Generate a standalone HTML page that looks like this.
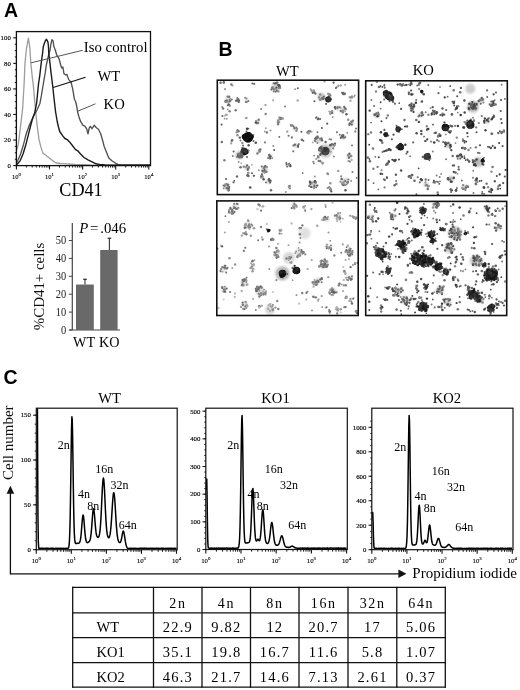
<!DOCTYPE html>
<html><head><meta charset="utf-8"><style>
html,body{margin:0;padding:0;background:#fff;width:520px;height:690px;overflow:hidden;}
svg{display:block;filter:grayscale(1);}
</style></head><body>
<svg width="520" height="690" viewBox="0 0 520 690">
<rect width="520" height="690" fill="#fff"/>
<text x="4.00" y="17.30" font-family='"Liberation Sans", sans-serif' font-size="19.5" text-anchor="start" font-weight="bold" font-style="normal" fill="#000" >A</text>
<text x="218.50" y="56.20" font-family='"Liberation Sans", sans-serif' font-size="19.5" text-anchor="start" font-weight="bold" font-style="normal" fill="#000" >B</text>
<text x="3.60" y="383.60" font-family='"Liberation Sans", sans-serif' font-size="19.5" text-anchor="start" font-weight="bold" font-style="normal" fill="#000" >C</text>
<polyline points="16.60,150.00 17.40,148.00 18.30,144.20 19.30,136.50 20.70,125.00 22.70,108.00 24.10,84.00 25.00,62.80 26.50,48.40 28.40,38.20 29.90,48.40 30.80,62.80 32.30,77.30 33.20,84.00 34.70,101.30 36.40,118.50 37.10,125.00 39.00,139.40 40.90,147.10 42.80,152.90 47.70,156.70 52.50,160.60 56.30,163.00 60.20,163.50 64.00,163.70 75.00,164.50 90.00,165.00 150.00,165.20" fill="none" stroke="#9c9c9c" stroke-width="1.3" stroke-linejoin="round" />
<polyline points="16.60,163.00 16.90,162.00 17.80,160.60 20.70,153.80 23.60,144.20 26.00,134.60 29.40,125.00 33.20,116.70 37.00,110.00 40.00,103.20 41.40,95.50 43.30,84.00 44.30,78.20 45.30,72.50 46.20,65.70 47.70,59.00 48.80,54.20 50.00,50.30 51.00,43.60 52.00,39.60 53.00,40.70 53.90,46.50 55.30,50.30 56.80,55.20 58.70,58.00 59.40,60.00 60.60,64.60 61.70,68.00 62.90,67.00 64.00,73.80 65.80,75.00 66.90,74.40 68.70,79.60 71.00,82.00 72.70,88.80 74.40,99.20 75.60,101.50 76.70,106.20 77.60,111.90 78.80,116.50 80.50,121.20 82.80,125.20 85.10,126.30 86.80,129.20 88.00,133.80 89.20,128.00 90.30,126.30 92.00,128.70 94.30,125.20 96.10,127.50 98.40,129.20 100.70,133.80 102.40,139.60 104.20,146.50 106.50,152.30 108.80,158.10 112.20,161.00 115.70,163.30 118.00,164.40 121.00,165.20 150.00,165.20" fill="none" stroke="#505050" stroke-width="1.35" stroke-linejoin="round" />
<polyline points="16.60,165.00 17.40,164.00 20.25,160.60 23.10,153.80 26.00,144.20 28.40,134.60 30.80,125.00 32.30,119.60 34.70,112.80 36.60,103.20 38.50,84.00 39.80,75.30 40.90,65.70 41.90,58.00 42.70,52.30 43.30,46.50 44.30,43.60 45.50,40.50 46.50,39.30 47.80,41.70 48.40,45.50 48.80,53.20 49.80,61.90 51.20,74.00 52.70,86.00 54.20,100.00 55.60,112.00 57.30,122.00 58.50,127.00 59.70,131.50 62.60,135.60 64.90,138.50 67.20,139.60 69.50,141.90 71.80,144.80 75.30,149.40 78.20,151.20 81.10,154.60 84.00,157.50 88.00,159.80 92.60,162.10 96.10,163.80 99.50,164.40 105.00,165.00 150.00,165.20" fill="none" stroke="#1a1a1a" stroke-width="1.4" stroke-linejoin="round" />
<line x1="31.10" y1="62.80" x2="82.70" y2="50.30" stroke="#555" stroke-width="1.0" />
<line x1="53.10" y1="87.50" x2="85.60" y2="77.30" stroke="#111" stroke-width="1.2" />
<line x1="77.60" y1="111.30" x2="95.40" y2="103.80" stroke="#555" stroke-width="1.0" />
<text x="83.80" y="52.20" font-family='"Liberation Serif", serif' font-size="14.8" text-anchor="start" font-weight="normal" font-style="normal" fill="#000" >Iso control</text>
<text x="97.50" y="80.80" font-family='"Liberation Serif", serif' font-size="14.6" text-anchor="start" font-weight="normal" font-style="normal" fill="#000" >WT</text>
<text x="103.60" y="108.70" font-family='"Liberation Serif", serif' font-size="14.6" text-anchor="start" font-weight="normal" font-style="normal" fill="#000" >KO</text>
<rect x="16.4" y="31.6" width="134.1" height="134.0" fill="none" stroke="#111" stroke-width="1.3"/>
<line x1="13.20" y1="165.60" x2="16.40" y2="165.60" stroke="#111" stroke-width="1.1" />
<text x="10.80" y="167.90" font-family='"Liberation Serif", serif' font-size="6.8" text-anchor="end" font-weight="normal" font-style="normal" fill="#000" stroke="#000" stroke-width="0.15">0</text>
<line x1="14.80" y1="159.21" x2="16.40" y2="159.21" stroke="#111" stroke-width="1.0" />
<line x1="14.80" y1="152.82" x2="16.40" y2="152.82" stroke="#111" stroke-width="1.0" />
<line x1="14.80" y1="146.43" x2="16.40" y2="146.43" stroke="#111" stroke-width="1.0" />
<line x1="13.20" y1="140.04" x2="16.40" y2="140.04" stroke="#111" stroke-width="1.1" />
<text x="10.80" y="142.34" font-family='"Liberation Serif", serif' font-size="6.8" text-anchor="end" font-weight="normal" font-style="normal" fill="#000" stroke="#000" stroke-width="0.15">20</text>
<line x1="14.80" y1="133.65" x2="16.40" y2="133.65" stroke="#111" stroke-width="1.0" />
<line x1="14.80" y1="127.26" x2="16.40" y2="127.26" stroke="#111" stroke-width="1.0" />
<line x1="14.80" y1="120.87" x2="16.40" y2="120.87" stroke="#111" stroke-width="1.0" />
<line x1="13.20" y1="114.48" x2="16.40" y2="114.48" stroke="#111" stroke-width="1.1" />
<text x="10.80" y="116.78" font-family='"Liberation Serif", serif' font-size="6.8" text-anchor="end" font-weight="normal" font-style="normal" fill="#000" stroke="#000" stroke-width="0.15">40</text>
<line x1="14.80" y1="108.09" x2="16.40" y2="108.09" stroke="#111" stroke-width="1.0" />
<line x1="14.80" y1="101.70" x2="16.40" y2="101.70" stroke="#111" stroke-width="1.0" />
<line x1="14.80" y1="95.31" x2="16.40" y2="95.31" stroke="#111" stroke-width="1.0" />
<line x1="13.20" y1="88.92" x2="16.40" y2="88.92" stroke="#111" stroke-width="1.1" />
<text x="10.80" y="91.22" font-family='"Liberation Serif", serif' font-size="6.8" text-anchor="end" font-weight="normal" font-style="normal" fill="#000" stroke="#000" stroke-width="0.15">60</text>
<line x1="14.80" y1="82.53" x2="16.40" y2="82.53" stroke="#111" stroke-width="1.0" />
<line x1="14.80" y1="76.14" x2="16.40" y2="76.14" stroke="#111" stroke-width="1.0" />
<line x1="14.80" y1="69.75" x2="16.40" y2="69.75" stroke="#111" stroke-width="1.0" />
<line x1="13.20" y1="63.36" x2="16.40" y2="63.36" stroke="#111" stroke-width="1.1" />
<text x="10.80" y="65.66" font-family='"Liberation Serif", serif' font-size="6.8" text-anchor="end" font-weight="normal" font-style="normal" fill="#000" stroke="#000" stroke-width="0.15">80</text>
<line x1="14.80" y1="56.97" x2="16.40" y2="56.97" stroke="#111" stroke-width="1.0" />
<line x1="14.80" y1="50.58" x2="16.40" y2="50.58" stroke="#111" stroke-width="1.0" />
<line x1="14.80" y1="44.19" x2="16.40" y2="44.19" stroke="#111" stroke-width="1.0" />
<line x1="13.20" y1="37.80" x2="16.40" y2="37.80" stroke="#111" stroke-width="1.1" />
<text x="10.80" y="40.10" font-family='"Liberation Serif", serif' font-size="6.8" text-anchor="end" font-weight="normal" font-style="normal" fill="#000" stroke="#000" stroke-width="0.15">100</text>
<line x1="16.40" y1="165.60" x2="16.40" y2="169.40" stroke="#111" stroke-width="1.1" />
<text x="16.40" y="179.20" font-family='"Liberation Serif", serif' font-size="6.6" text-anchor="middle" fill="#000" stroke="#000" stroke-width="0.12">10<tspan font-size="4.75" dy="-2.97">0</tspan></text>
<line x1="26.36" y1="165.60" x2="26.36" y2="167.60" stroke="#111" stroke-width="0.9" />
<line x1="32.19" y1="165.60" x2="32.19" y2="167.60" stroke="#111" stroke-width="0.9" />
<line x1="36.33" y1="165.60" x2="36.33" y2="167.60" stroke="#111" stroke-width="0.9" />
<line x1="39.54" y1="165.60" x2="39.54" y2="167.60" stroke="#111" stroke-width="0.9" />
<line x1="42.16" y1="165.60" x2="42.16" y2="167.60" stroke="#111" stroke-width="0.9" />
<line x1="44.37" y1="165.60" x2="44.37" y2="167.60" stroke="#111" stroke-width="0.9" />
<line x1="46.29" y1="165.60" x2="46.29" y2="167.60" stroke="#111" stroke-width="0.9" />
<line x1="47.99" y1="165.60" x2="47.99" y2="167.60" stroke="#111" stroke-width="0.9" />
<line x1="49.50" y1="165.60" x2="49.50" y2="169.40" stroke="#111" stroke-width="1.1" />
<text x="49.50" y="179.20" font-family='"Liberation Serif", serif' font-size="6.6" text-anchor="middle" fill="#000" stroke="#000" stroke-width="0.12">10<tspan font-size="4.75" dy="-2.97">1</tspan></text>
<line x1="59.46" y1="165.60" x2="59.46" y2="167.60" stroke="#111" stroke-width="0.9" />
<line x1="65.29" y1="165.60" x2="65.29" y2="167.60" stroke="#111" stroke-width="0.9" />
<line x1="69.43" y1="165.60" x2="69.43" y2="167.60" stroke="#111" stroke-width="0.9" />
<line x1="72.64" y1="165.60" x2="72.64" y2="167.60" stroke="#111" stroke-width="0.9" />
<line x1="75.26" y1="165.60" x2="75.26" y2="167.60" stroke="#111" stroke-width="0.9" />
<line x1="77.47" y1="165.60" x2="77.47" y2="167.60" stroke="#111" stroke-width="0.9" />
<line x1="79.39" y1="165.60" x2="79.39" y2="167.60" stroke="#111" stroke-width="0.9" />
<line x1="81.09" y1="165.60" x2="81.09" y2="167.60" stroke="#111" stroke-width="0.9" />
<line x1="82.60" y1="165.60" x2="82.60" y2="169.40" stroke="#111" stroke-width="1.1" />
<text x="82.60" y="179.20" font-family='"Liberation Serif", serif' font-size="6.6" text-anchor="middle" fill="#000" stroke="#000" stroke-width="0.12">10<tspan font-size="4.75" dy="-2.97">2</tspan></text>
<line x1="92.56" y1="165.60" x2="92.56" y2="167.60" stroke="#111" stroke-width="0.9" />
<line x1="98.39" y1="165.60" x2="98.39" y2="167.60" stroke="#111" stroke-width="0.9" />
<line x1="102.53" y1="165.60" x2="102.53" y2="167.60" stroke="#111" stroke-width="0.9" />
<line x1="105.74" y1="165.60" x2="105.74" y2="167.60" stroke="#111" stroke-width="0.9" />
<line x1="108.36" y1="165.60" x2="108.36" y2="167.60" stroke="#111" stroke-width="0.9" />
<line x1="110.57" y1="165.60" x2="110.57" y2="167.60" stroke="#111" stroke-width="0.9" />
<line x1="112.49" y1="165.60" x2="112.49" y2="167.60" stroke="#111" stroke-width="0.9" />
<line x1="114.19" y1="165.60" x2="114.19" y2="167.60" stroke="#111" stroke-width="0.9" />
<line x1="115.70" y1="165.60" x2="115.70" y2="169.40" stroke="#111" stroke-width="1.1" />
<text x="115.70" y="179.20" font-family='"Liberation Serif", serif' font-size="6.6" text-anchor="middle" fill="#000" stroke="#000" stroke-width="0.12">10<tspan font-size="4.75" dy="-2.97">3</tspan></text>
<line x1="125.66" y1="165.60" x2="125.66" y2="167.60" stroke="#111" stroke-width="0.9" />
<line x1="131.49" y1="165.60" x2="131.49" y2="167.60" stroke="#111" stroke-width="0.9" />
<line x1="135.63" y1="165.60" x2="135.63" y2="167.60" stroke="#111" stroke-width="0.9" />
<line x1="138.84" y1="165.60" x2="138.84" y2="167.60" stroke="#111" stroke-width="0.9" />
<line x1="141.46" y1="165.60" x2="141.46" y2="167.60" stroke="#111" stroke-width="0.9" />
<line x1="143.67" y1="165.60" x2="143.67" y2="167.60" stroke="#111" stroke-width="0.9" />
<line x1="145.59" y1="165.60" x2="145.59" y2="167.60" stroke="#111" stroke-width="0.9" />
<line x1="147.29" y1="165.60" x2="147.29" y2="167.60" stroke="#111" stroke-width="0.9" />
<line x1="148.80" y1="165.60" x2="148.80" y2="169.40" stroke="#111" stroke-width="1.1" />
<text x="148.80" y="179.20" font-family='"Liberation Serif", serif' font-size="6.6" text-anchor="middle" fill="#000" stroke="#000" stroke-width="0.12">10<tspan font-size="4.75" dy="-2.97">4</tspan></text>
<text x="59.30" y="195.80" font-family='"Liberation Serif", serif' font-size="19.5" text-anchor="start" font-weight="normal" font-style="normal" fill="#000" textLength="43.4" lengthAdjust="spacingAndGlyphs">CD41</text>
<line x1="72.30" y1="223.00" x2="72.30" y2="330.00" stroke="#444" stroke-width="1.2" />
<line x1="69.50" y1="330.00" x2="120.00" y2="330.00" stroke="#444" stroke-width="1.2" />
<line x1="68.80" y1="330.00" x2="72.30" y2="330.00" stroke="#444" stroke-width="1.0" />
<text x="66.20" y="333.90" font-family='"Liberation Serif", serif' font-size="13" text-anchor="end" font-weight="normal" font-style="normal" fill="#222" textLength="5.2" lengthAdjust="spacingAndGlyphs">0</text>
<line x1="68.80" y1="312.10" x2="72.30" y2="312.10" stroke="#444" stroke-width="1.0" />
<text x="66.20" y="316.00" font-family='"Liberation Serif", serif' font-size="13" text-anchor="end" font-weight="normal" font-style="normal" fill="#222" textLength="10.4" lengthAdjust="spacingAndGlyphs">10</text>
<line x1="68.80" y1="294.20" x2="72.30" y2="294.20" stroke="#444" stroke-width="1.0" />
<text x="66.20" y="298.10" font-family='"Liberation Serif", serif' font-size="13" text-anchor="end" font-weight="normal" font-style="normal" fill="#222" textLength="10.4" lengthAdjust="spacingAndGlyphs">20</text>
<line x1="68.80" y1="276.30" x2="72.30" y2="276.30" stroke="#444" stroke-width="1.0" />
<text x="66.20" y="280.20" font-family='"Liberation Serif", serif' font-size="13" text-anchor="end" font-weight="normal" font-style="normal" fill="#222" textLength="10.4" lengthAdjust="spacingAndGlyphs">30</text>
<line x1="68.80" y1="258.40" x2="72.30" y2="258.40" stroke="#444" stroke-width="1.0" />
<text x="66.20" y="262.30" font-family='"Liberation Serif", serif' font-size="13" text-anchor="end" font-weight="normal" font-style="normal" fill="#222" textLength="10.4" lengthAdjust="spacingAndGlyphs">40</text>
<line x1="68.80" y1="240.50" x2="72.30" y2="240.50" stroke="#444" stroke-width="1.0" />
<text x="66.20" y="244.40" font-family='"Liberation Serif", serif' font-size="13" text-anchor="end" font-weight="normal" font-style="normal" fill="#222" textLength="10.4" lengthAdjust="spacingAndGlyphs">50</text>
<rect x="76.0" y="284.53" width="17.8" height="45.47" fill="#696969"/>
<rect x="100.2" y="249.99" width="17.4" height="80.01" fill="#696969"/>
<line x1="85.00" y1="284.53" x2="85.00" y2="279.30" stroke="#333" stroke-width="1.1" />
<line x1="83.20" y1="279.30" x2="86.80" y2="279.30" stroke="#333" stroke-width="1.3" />
<line x1="109.40" y1="249.99" x2="109.40" y2="238.30" stroke="#333" stroke-width="1.1" />
<line x1="107.60" y1="238.30" x2="111.20" y2="238.30" stroke="#333" stroke-width="1.3" />
<text x="79.30" y="233.00" font-family='"Liberation Serif", serif' font-size="14.8" text-anchor="start" font-weight="normal" font-style="normal" fill="#000" ><tspan font-style="italic">P</tspan><tspan x="90.0">=</tspan><tspan x="100.2">.046</tspan></text>
<text transform="translate(44.2,330.2) rotate(-90)" font-family='"Liberation Serif", serif' font-size="15.4" fill="#111" textLength="87.5" lengthAdjust="spacingAndGlyphs">%CD41+ cells</text>
<text x="73.00" y="347.00" font-family='"Liberation Serif", serif' font-size="14.2" text-anchor="start" font-weight="normal" font-style="normal" fill="#000" >WT</text>
<text x="99.00" y="347.00" font-family='"Liberation Serif", serif' font-size="14.2" text-anchor="start" font-weight="normal" font-style="normal" fill="#000" >KO</text>
<text x="287.40" y="76.00" font-family='"Liberation Serif", serif' font-size="14.6" text-anchor="middle" font-weight="normal" font-style="normal" fill="#000" >WT</text>
<text x="423.20" y="75.30" font-family='"Liberation Serif", serif' font-size="14.6" text-anchor="middle" font-weight="normal" font-style="normal" fill="#000" >KO</text>
<clipPath id="cTL"><rect x="217.3" y="80.2" width="141.3" height="114.39999999999999"/></clipPath>
<filter id="fTL" x="-5%" y="-5%" width="110%" height="110%"><feGaussianBlur stdDeviation="0.4"/></filter>
<filter id="gTL" x="-5%" y="-5%" width="110%" height="110%"><feGaussianBlur stdDeviation="1.3"/></filter>
<g clip-path="url(#cTL)"><g filter="url(#gTL)">
<circle cx="239.5" cy="155.2" r="4.00" fill="#bebebe"/>
<circle cx="321.3" cy="97.0" r="4.00" fill="#c8c8c8"/>
<circle cx="325.4" cy="151.0" r="7.00" fill="#cdcdcd"/>
<circle cx="275.6" cy="87.3" r="3.75" fill="#cdcdcd"/>
<circle cx="228.5" cy="99.8" r="3.00" fill="#d7d7d7"/>
<circle cx="238.0" cy="99.8" r="1.88" fill="#cdcdcd"/>
<circle cx="246.5" cy="99.8" r="1.88" fill="#cdcdcd"/>
<circle cx="321.3" cy="97.0" r="2.25" fill="#cdcdcd"/>
<circle cx="337.9" cy="108.0" r="2.25" fill="#cdcdcd"/>
<circle cx="343.4" cy="109.5" r="2.25" fill="#cdcdcd"/>
<circle cx="257.6" cy="122.0" r="1.88" fill="#cdcdcd"/>
<circle cx="278.3" cy="122.0" r="1.88" fill="#cdcdcd"/>
<circle cx="258.9" cy="151.0" r="2.25" fill="#e1e1e1"/>
<circle cx="270.0" cy="156.6" r="2.25" fill="#cdcdcd"/>
<circle cx="318.5" cy="140.0" r="3.00" fill="#cdcdcd"/>
<circle cx="332.3" cy="145.5" r="2.25" fill="#cdcdcd"/>
<circle cx="295.0" cy="128.9" r="1.88" fill="#cdcdcd"/>
<circle cx="296.3" cy="145.5" r="2.25" fill="#cdcdcd"/>
<circle cx="288.0" cy="164.9" r="2.25" fill="#cdcdcd"/>
<circle cx="264.5" cy="169.0" r="3.00" fill="#cdcdcd"/>
<circle cx="246.5" cy="167.6" r="2.25" fill="#cdcdcd"/>
<circle cx="313.0" cy="184.3" r="3.38" fill="#cdcdcd"/>
<circle cx="344.8" cy="181.5" r="3.38" fill="#cdcdcd"/>
<circle cx="227.0" cy="187.0" r="3.00" fill="#cdcdcd"/>
<circle cx="268.6" cy="181.5" r="2.25" fill="#cdcdcd"/>
<circle cx="343.4" cy="137.2" r="2.25" fill="#cdcdcd"/>
<circle cx="351.7" cy="123.3" r="2.25" fill="#cdcdcd"/>
<circle cx="349.0" cy="156.6" r="2.25" fill="#cdcdcd"/>
</g><g filter="url(#fTL)">
<circle cx="237.0" cy="176.5" r="1.19" fill="#666666"/>
<circle cx="287.3" cy="131.7" r="1.14" fill="#969696"/>
<circle cx="231.4" cy="84.4" r="1.23" fill="#767676"/>
<circle cx="324.5" cy="81.4" r="1.05" fill="#909090"/>
<circle cx="250.2" cy="187.4" r="1.26" fill="#525252"/>
<circle cx="221.8" cy="142.1" r="1.27" fill="#727272"/>
<circle cx="248.5" cy="128.6" r="0.86" fill="#636363"/>
<circle cx="279.3" cy="136.9" r="0.95" fill="#646464"/>
<circle cx="248.8" cy="132.9" r="0.98" fill="#515151"/>
<circle cx="335.0" cy="143.7" r="1.14" fill="#606060"/>
<circle cx="356.6" cy="177.9" r="0.90" fill="#6d6d6d"/>
<circle cx="318.8" cy="161.1" r="1.27" fill="#757575"/>
<circle cx="333.9" cy="156.5" r="0.99" fill="#848484"/>
<circle cx="341.2" cy="176.3" r="1.08" fill="#858585"/>
<circle cx="223.1" cy="108.5" r="1.21" fill="#757575"/>
<circle cx="242.4" cy="142.9" r="1.17" fill="#8c8c8c"/>
<circle cx="270.5" cy="130.5" r="1.08" fill="#969696"/>
<circle cx="290.9" cy="125.4" r="1.07" fill="#525252"/>
<circle cx="224.4" cy="160.3" r="1.29" fill="#858585"/>
<circle cx="273.1" cy="100.3" r="1.08" fill="#a8a8a8"/>
<circle cx="325.6" cy="141.9" r="1.24" fill="#646464"/>
<circle cx="289.9" cy="188.3" r="1.11" fill="#797979"/>
<circle cx="255.8" cy="142.8" r="1.28" fill="#505050"/>
<circle cx="327.5" cy="173.4" r="1.25" fill="#929292"/>
<circle cx="331.0" cy="139.5" r="1.10" fill="#767676"/>
<circle cx="226.1" cy="179.0" r="1.11" fill="#616161"/>
<circle cx="288.6" cy="135.7" r="1.01" fill="#6f6f6f"/>
<circle cx="293.3" cy="151.3" r="1.13" fill="#797979"/>
<circle cx="222.2" cy="107.0" r="0.93" fill="#848484"/>
<circle cx="338.2" cy="170.9" r="1.21" fill="#999999"/>
<circle cx="253.9" cy="175.8" r="1.15" fill="#575757"/>
<circle cx="220.6" cy="82.8" r="1.19" fill="#666666"/>
<circle cx="233.6" cy="151.4" r="1.00" fill="#565656"/>
<circle cx="240.5" cy="140.5" r="0.93" fill="#686868"/>
<circle cx="317.4" cy="132.3" r="0.99" fill="#7a7a7a"/>
<circle cx="221.6" cy="124.6" r="1.04" fill="#606060"/>
<circle cx="233.5" cy="182.3" r="1.08" fill="#626262"/>
<circle cx="302.7" cy="173.0" r="0.86" fill="#515151"/>
<circle cx="238.7" cy="162.0" r="0.92" fill="#8f8f8f"/>
<circle cx="312.8" cy="142.4" r="0.95" fill="#a7a7a7"/>
<circle cx="329.4" cy="139.3" r="0.95" fill="#8a8a8a"/>
<circle cx="273.3" cy="145.9" r="0.99" fill="#888888"/>
<circle cx="226.5" cy="114.8" r="1.29" fill="#9e9e9e"/>
<circle cx="261.0" cy="177.7" r="0.99" fill="#a4a4a4"/>
<circle cx="321.9" cy="128.0" r="0.96" fill="#505050"/>
<circle cx="340.7" cy="85.5" r="1.22" fill="#a6a6a6"/>
<circle cx="297.7" cy="100.5" r="1.24" fill="#a7a7a7"/>
<circle cx="316.4" cy="138.4" r="1.02" fill="#6f6f6f"/>
<circle cx="247.0" cy="157.0" r="1.04" fill="#616161"/>
<circle cx="232.8" cy="156.1" r="0.98" fill="#7c7c7c"/>
<circle cx="263.6" cy="179.2" r="1.25" fill="#515151"/>
<circle cx="246.3" cy="118.0" r="1.29" fill="#969696"/>
<circle cx="265.5" cy="105.1" r="1.15" fill="#9b9b9b"/>
<circle cx="348.2" cy="119.8" r="1.25" fill="#8d8d8d"/>
<circle cx="285.8" cy="192.0" r="0.96" fill="#919191"/>
<circle cx="230.1" cy="100.3" r="1.26" fill="#636363"/>
<circle cx="324.0" cy="148.7" r="1.23" fill="#717171"/>
<circle cx="265.7" cy="113.9" r="1.24" fill="#868686"/>
<circle cx="351.2" cy="180.9" r="0.91" fill="#818181"/>
<circle cx="232.8" cy="85.6" r="0.88" fill="#9d9d9d"/>
<circle cx="328.1" cy="174.3" r="1.00" fill="#878787"/>
<circle cx="327.2" cy="123.7" r="1.11" fill="#646464"/>
<circle cx="229.7" cy="111.2" r="1.25" fill="#828282"/>
<circle cx="347.2" cy="132.7" r="0.97" fill="#969696"/>
<circle cx="333.6" cy="82.6" r="1.15" fill="#585858"/>
<circle cx="234.3" cy="180.7" r="0.87" fill="#656565"/>
<circle cx="356.0" cy="128.5" r="0.90" fill="#5f5f5f"/>
<circle cx="251.9" cy="164.8" r="0.90" fill="#a1a1a1"/>
<circle cx="271.0" cy="190.3" r="1.26" fill="#6a6a6a"/>
<circle cx="253.6" cy="134.8" r="0.90" fill="#8a8a8a"/>
<circle cx="223.8" cy="82.4" r="1.29" fill="#6a6a6a"/>
<circle cx="301.4" cy="131.8" r="0.99" fill="#555555"/>
<circle cx="345.5" cy="190.2" r="1.29" fill="#5a5a5a"/>
<circle cx="248.3" cy="150.6" r="1.29" fill="#808080"/>
<circle cx="314.2" cy="155.6" r="0.97" fill="#808080"/>
<circle cx="261.1" cy="108.9" r="0.89" fill="#696969"/>
<circle cx="355.3" cy="131.5" r="1.14" fill="#898989"/>
<circle cx="349.3" cy="125.1" r="0.99" fill="#6d6d6d"/>
<circle cx="262.4" cy="176.4" r="1.25" fill="#6b6b6b"/>
<circle cx="264.9" cy="142.4" r="1.11" fill="#858585"/>
<circle cx="252.4" cy="83.5" r="0.96" fill="#565656"/>
<circle cx="295.1" cy="89.2" r="0.88" fill="#898989"/>
<circle cx="258.8" cy="170.2" r="1.07" fill="#9d9d9d"/>
<circle cx="239.8" cy="137.6" r="1.21" fill="#565656"/>
<circle cx="350.5" cy="100.7" r="1.20" fill="#a8a8a8"/>
<circle cx="332.7" cy="117.1" r="0.90" fill="#7e7e7e"/>
<circle cx="346.4" cy="114.2" r="1.25" fill="#5c5c5c"/>
<circle cx="345.1" cy="84.8" r="0.99" fill="#a1a1a1"/>
<circle cx="330.3" cy="183.2" r="1.23" fill="#939393"/>
<circle cx="314.4" cy="101.2" r="1.04" fill="#5e5e5e"/>
<circle cx="317.9" cy="156.3" r="0.96" fill="#555555"/>
<circle cx="352.5" cy="172.0" r="1.10" fill="#808080"/>
<circle cx="336.9" cy="132.2" r="1.03" fill="#6e6e6e"/>
<circle cx="254.2" cy="83.9" r="1.14" fill="#757575"/>
<circle cx="297.8" cy="88.2" r="1.01" fill="#5c5c5c"/>
<circle cx="235.7" cy="110.3" r="1.22" fill="#737373"/>
<circle cx="274.2" cy="150.0" r="0.96" fill="#505050"/>
<circle cx="291.9" cy="137.5" r="1.14" fill="#777777"/>
<circle cx="313.9" cy="163.4" r="0.96" fill="#7c7c7c"/>
<circle cx="285.0" cy="106.5" r="1.04" fill="#828282"/>
<circle cx="344.6" cy="184.4" r="0.97" fill="#8a8a8a"/>
<circle cx="225.0" cy="89.2" r="1.08" fill="#9e9e9e"/>
<circle cx="240.5" cy="167.3" r="1.25" fill="#6c6c6c"/>
<circle cx="314.8" cy="176.6" r="1.02" fill="#8f8f8f"/>
<circle cx="320.9" cy="148.0" r="1.24" fill="#a0a0a0"/>
<circle cx="352.0" cy="145.4" r="0.93" fill="#666666"/>
<circle cx="248.6" cy="145.2" r="1.19" fill="#545454"/>
<circle cx="313.3" cy="161.8" r="1.01" fill="#7e7e7e"/>
<circle cx="241.3" cy="163.2" r="0.87" fill="#a8a8a8"/>
<circle cx="330.8" cy="151.8" r="0.97" fill="#a2a2a2"/>
<circle cx="349.9" cy="97.2" r="1.27" fill="#a7a7a7"/>
<circle cx="352.0" cy="96.4" r="0.92" fill="#6d6d6d"/>
<circle cx="354.8" cy="95.3" r="0.90" fill="#868686"/>
<circle cx="352.0" cy="97.7" r="0.96" fill="#939393"/>
<circle cx="354.1" cy="96.8" r="0.86" fill="#888888"/>
<circle cx="350.7" cy="97.4" r="0.98" fill="#808080"/>
<circle cx="351.8" cy="96.6" r="1.16" fill="#979797"/>
<circle cx="330.5" cy="189.6" r="1.25" fill="#626262"/>
<circle cx="331.3" cy="191.4" r="1.11" fill="#515151"/>
<circle cx="329.2" cy="187.4" r="1.14" fill="#565656"/>
<circle cx="330.3" cy="188.2" r="1.15" fill="#949494"/>
<circle cx="330.7" cy="189.6" r="1.01" fill="#808080"/>
<circle cx="329.8" cy="187.7" r="0.90" fill="#a2a2a2"/>
<circle cx="327.6" cy="188.1" r="1.14" fill="#919191"/>
<circle cx="321.4" cy="161.9" r="1.19" fill="#a8a8a8"/>
<circle cx="322.5" cy="163.5" r="1.09" fill="#707070"/>
<circle cx="323.2" cy="163.0" r="1.03" fill="#9d9d9d"/>
<circle cx="320.0" cy="160.9" r="1.19" fill="#7c7c7c"/>
<circle cx="321.1" cy="151.5" r="1.27" fill="#969696"/>
<circle cx="321.0" cy="153.5" r="1.12" fill="#6f6f6f"/>
<circle cx="321.9" cy="149.9" r="1.09" fill="#5d5d5d"/>
<circle cx="320.0" cy="154.9" r="0.87" fill="#7d7d7d"/>
<circle cx="320.4" cy="154.7" r="1.15" fill="#515151"/>
<circle cx="288.9" cy="187.5" r="0.94" fill="#9f9f9f"/>
<circle cx="289.8" cy="185.9" r="1.09" fill="#717171"/>
<circle cx="288.9" cy="186.2" r="1.14" fill="#909090"/>
<circle cx="330.9" cy="112.0" r="0.97" fill="#868686"/>
<circle cx="330.2" cy="114.1" r="0.96" fill="#8b8b8b"/>
<circle cx="330.2" cy="113.0" r="1.27" fill="#a3a3a3"/>
<circle cx="332.3" cy="111.1" r="1.18" fill="#9e9e9e"/>
<circle cx="329.2" cy="111.4" r="0.92" fill="#a5a5a5"/>
<circle cx="332.1" cy="113.0" r="1.25" fill="#777777"/>
<circle cx="331.7" cy="111.3" r="0.94" fill="#8d8d8d"/>
<circle cx="228.7" cy="105.0" r="1.12" fill="#9f9f9f"/>
<circle cx="229.8" cy="105.8" r="1.22" fill="#a6a6a6"/>
<circle cx="227.8" cy="109.3" r="0.90" fill="#8e8e8e"/>
<circle cx="227.8" cy="105.3" r="1.02" fill="#5f5f5f"/>
<circle cx="229.0" cy="104.8" r="1.11" fill="#636363"/>
<circle cx="315.9" cy="118.1" r="0.85" fill="#7b7b7b"/>
<circle cx="320.2" cy="119.0" r="0.94" fill="#5e5e5e"/>
<circle cx="318.5" cy="118.2" r="0.86" fill="#727272"/>
<circle cx="318.7" cy="119.2" r="0.96" fill="#575757"/>
<circle cx="318.3" cy="119.1" r="1.09" fill="#7f7f7f"/>
<circle cx="316.5" cy="117.3" r="1.04" fill="#616161"/>
<circle cx="317.9" cy="119.1" r="1.22" fill="#616161"/>
<circle cx="279.9" cy="119.0" r="1.27" fill="#858585"/>
<circle cx="280.9" cy="117.9" r="1.08" fill="#555555"/>
<circle cx="281.2" cy="118.8" r="1.25" fill="#767676"/>
<circle cx="279.4" cy="117.4" r="1.17" fill="#939393"/>
<circle cx="282.8" cy="118.4" r="1.26" fill="#9c9c9c"/>
<circle cx="335.9" cy="88.1" r="0.99" fill="#5b5b5b"/>
<circle cx="338.3" cy="85.8" r="1.19" fill="#a0a0a0"/>
<circle cx="336.6" cy="87.3" r="0.96" fill="#6d6d6d"/>
<circle cx="262.5" cy="177.3" r="1.21" fill="#9d9d9d"/>
<circle cx="261.0" cy="176.4" r="1.10" fill="#6d6d6d"/>
<circle cx="261.9" cy="174.4" r="1.11" fill="#595959"/>
<circle cx="307.2" cy="132.4" r="1.25" fill="#9a9a9a"/>
<circle cx="310.2" cy="131.3" r="1.08" fill="#585858"/>
<circle cx="309.3" cy="130.9" r="1.22" fill="#8a8a8a"/>
<circle cx="309.4" cy="131.5" r="1.00" fill="#939393"/>
<circle cx="308.4" cy="131.7" r="1.26" fill="#6d6d6d"/>
<circle cx="311.6" cy="131.8" r="1.07" fill="#a2a2a2"/>
<circle cx="308.6" cy="133.6" r="1.27" fill="#a3a3a3"/>
<circle cx="329.4" cy="99.9" r="1.11" fill="#6e6e6e"/>
<circle cx="329.6" cy="99.5" r="0.99" fill="#858585"/>
<circle cx="329.1" cy="96.0" r="0.96" fill="#636363"/>
<circle cx="330.3" cy="95.6" r="1.27" fill="#878787"/>
<circle cx="330.6" cy="98.9" r="1.17" fill="#626262"/>
<circle cx="328.2" cy="93.8" r="1.23" fill="#979797"/>
<circle cx="329.8" cy="94.4" r="1.04" fill="#858585"/>
<circle cx="339.7" cy="134.8" r="0.96" fill="#787878"/>
<circle cx="342.7" cy="135.1" r="1.07" fill="#565656"/>
<circle cx="345.4" cy="137.2" r="0.85" fill="#7f7f7f"/>
<circle cx="342.5" cy="135.2" r="1.13" fill="#7d7d7d"/>
<circle cx="342.6" cy="136.6" r="1.29" fill="#505050"/>
<circle cx="348.4" cy="160.9" r="0.99" fill="#959595"/>
<circle cx="351.7" cy="159.9" r="1.04" fill="#a4a4a4"/>
<circle cx="349.8" cy="161.6" r="1.11" fill="#787878"/>
<circle cx="237.4" cy="135.2" r="1.30" fill="#929292"/>
<circle cx="236.7" cy="132.3" r="1.27" fill="#a0a0a0"/>
<circle cx="238.6" cy="131.2" r="1.23" fill="#727272"/>
<circle cx="237.5" cy="130.3" r="1.19" fill="#7b7b7b"/>
<circle cx="266.9" cy="132.4" r="1.22" fill="#717171"/>
<circle cx="265.8" cy="128.3" r="1.04" fill="#a4a4a4"/>
<circle cx="264.9" cy="131.5" r="1.00" fill="#a2a2a2"/>
<circle cx="252.0" cy="173.3" r="0.95" fill="#525252"/>
<circle cx="247.9" cy="172.8" r="1.03" fill="#919191"/>
<circle cx="248.5" cy="176.0" r="1.30" fill="#818181"/>
<circle cx="247.6" cy="175.5" r="1.29" fill="#595959"/>
<circle cx="247.6" cy="174.6" r="0.90" fill="#676767"/>
<circle cx="248.4" cy="172.9" r="1.24" fill="#969696"/>
<circle cx="311.5" cy="90.8" r="1.03" fill="#868686"/>
<circle cx="312.8" cy="92.7" r="1.17" fill="#5f5f5f"/>
<circle cx="310.7" cy="89.4" r="1.09" fill="#9e9e9e"/>
<circle cx="313.7" cy="90.5" r="1.20" fill="#888888"/>
<circle cx="315.4" cy="93.5" r="1.18" fill="#6f6f6f"/>
<circle cx="314.4" cy="92.5" r="1.13" fill="#6a6a6a"/>
<circle cx="343.9" cy="94.5" r="0.94" fill="#828282"/>
<circle cx="344.8" cy="93.6" r="1.12" fill="#5d5d5d"/>
<circle cx="342.9" cy="94.1" r="0.97" fill="#636363"/>
<circle cx="342.2" cy="92.8" r="1.12" fill="#606060"/>
<circle cx="344.7" cy="94.2" r="0.88" fill="#6d6d6d"/>
<circle cx="343.3" cy="93.1" r="1.25" fill="#6c6c6c"/>
<circle cx="343.2" cy="93.7" r="0.91" fill="#676767"/>
<circle cx="231.2" cy="143.4" r="1.11" fill="#9f9f9f"/>
<circle cx="231.6" cy="141.2" r="0.99" fill="#878787"/>
<circle cx="232.1" cy="140.3" r="1.29" fill="#6e6e6e"/>
<circle cx="302.2" cy="140.2" r="0.91" fill="#838383"/>
<circle cx="303.4" cy="140.7" r="0.98" fill="#666666"/>
<circle cx="301.8" cy="139.8" r="1.27" fill="#717171"/>
<circle cx="318.2" cy="157.2" r="1.28" fill="#6f6f6f"/>
<circle cx="316.2" cy="159.0" r="1.12" fill="#9e9e9e"/>
<circle cx="318.0" cy="157.0" r="1.09" fill="#828282"/>
<circle cx="293.6" cy="126.3" r="0.93" fill="#636363"/>
<circle cx="292.4" cy="125.1" r="0.97" fill="#7f7f7f"/>
<circle cx="292.6" cy="125.7" r="1.02" fill="#8a8a8a"/>
<circle cx="291.3" cy="125.5" r="1.18" fill="#8d8d8d"/>
<circle cx="226.8" cy="118.7" r="0.95" fill="#9b9b9b"/>
<circle cx="224.6" cy="118.7" r="0.92" fill="#9c9c9c"/>
<circle cx="222.4" cy="116.0" r="1.12" fill="#686868"/>
<circle cx="224.8" cy="115.7" r="0.85" fill="#a5a5a5"/>
<circle cx="279.1" cy="85.4" r="1.02" fill="#727272"/>
<circle cx="278.1" cy="85.0" r="1.20" fill="#757575"/>
<circle cx="271.3" cy="89.6" r="1.03" fill="#767676"/>
<circle cx="278.8" cy="88.4" r="0.87" fill="#7e7e7e"/>
<circle cx="276.6" cy="87.3" r="0.90" fill="#515151"/>
<circle cx="272.6" cy="87.1" r="0.97" fill="#949494"/>
<circle cx="279.0" cy="85.1" r="1.21" fill="#878787"/>
<circle cx="275.7" cy="91.8" r="0.96" fill="#727272"/>
<circle cx="274.4" cy="88.9" r="1.20" fill="#8f8f8f"/>
<circle cx="273.8" cy="91.6" r="1.01" fill="#7a7a7a"/>
<circle cx="280.0" cy="87.2" r="0.88" fill="#686868"/>
<circle cx="273.7" cy="89.2" r="1.22" fill="#696969"/>
<circle cx="274.4" cy="83.5" r="1.08" fill="#4a4a4a"/>
<circle cx="273.4" cy="83.1" r="0.93" fill="#797979"/>
<circle cx="272.7" cy="87.5" r="1.17" fill="#949494"/>
<circle cx="280.3" cy="87.9" r="1.02" fill="#888888"/>
<circle cx="277.5" cy="91.1" r="0.89" fill="#606060"/>
<circle cx="279.6" cy="86.5" r="1.20" fill="#6a6a6a"/>
<circle cx="272.1" cy="87.9" r="1.20" fill="#7f7f7f"/>
<circle cx="276.7" cy="90.4" r="1.09" fill="#737373"/>
<circle cx="279.7" cy="85.3" r="0.92" fill="#646464"/>
<circle cx="276.2" cy="87.8" r="0.88" fill="#545454"/>
<circle cx="276.0" cy="83.2" r="1.21" fill="#5d5d5d"/>
<circle cx="278.4" cy="91.4" r="1.22" fill="#919191"/>
<circle cx="278.7" cy="87.7" r="1.14" fill="#808080"/>
<circle cx="278.7" cy="85.4" r="1.03" fill="#464646"/>
<circle cx="277.2" cy="82.6" r="1.26" fill="#7a7a7a"/>
<circle cx="274.3" cy="89.3" r="1.20" fill="#909090"/>
<circle cx="230.1" cy="99.4" r="1.11" fill="#7d7d7d"/>
<circle cx="225.3" cy="101.4" r="1.27" fill="#8c8c8c"/>
<circle cx="227.5" cy="96.6" r="1.14" fill="#7f7f7f"/>
<circle cx="228.5" cy="103.3" r="0.90" fill="#878787"/>
<circle cx="226.2" cy="101.8" r="1.14" fill="#7b7b7b"/>
<circle cx="230.4" cy="99.5" r="0.86" fill="#9c9c9c"/>
<circle cx="227.7" cy="101.8" r="1.04" fill="#838383"/>
<circle cx="231.9" cy="99.5" r="0.99" fill="#7f7f7f"/>
<circle cx="225.8" cy="100.7" r="1.04" fill="#656565"/>
<circle cx="226.5" cy="101.3" r="0.94" fill="#939393"/>
<circle cx="227.5" cy="101.0" r="1.11" fill="#959595"/>
<circle cx="229.1" cy="96.7" r="1.18" fill="#717171"/>
<circle cx="229.8" cy="101.4" r="1.01" fill="#6d6d6d"/>
<circle cx="227.0" cy="100.1" r="0.91" fill="#6b6b6b"/>
<circle cx="238.7" cy="101.9" r="1.09" fill="#5d5d5d"/>
<circle cx="235.9" cy="100.8" r="1.11" fill="#767676"/>
<circle cx="237.1" cy="100.5" r="1.13" fill="#555555"/>
<circle cx="238.1" cy="99.2" r="1.19" fill="#6a6a6a"/>
<circle cx="237.2" cy="98.0" r="0.91" fill="#757575"/>
<circle cx="239.1" cy="100.4" r="1.02" fill="#636363"/>
<circle cx="245.2" cy="97.7" r="1.01" fill="#8a8a8a"/>
<circle cx="246.8" cy="101.9" r="1.01" fill="#757575"/>
<circle cx="248.4" cy="101.0" r="0.94" fill="#707070"/>
<circle cx="245.9" cy="102.0" r="1.12" fill="#7b7b7b"/>
<circle cx="246.5" cy="98.5" r="0.88" fill="#898989"/>
<circle cx="320.2" cy="99.5" r="1.28" fill="#7c7c7c"/>
<circle cx="323.5" cy="98.7" r="1.14" fill="#616161"/>
<circle cx="321.9" cy="99.1" r="0.90" fill="#8f8f8f"/>
<circle cx="320.6" cy="94.4" r="1.02" fill="#909090"/>
<circle cx="323.0" cy="98.9" r="0.96" fill="#505050"/>
<circle cx="322.3" cy="97.9" r="1.19" fill="#6a6a6a"/>
<circle cx="319.0" cy="97.3" r="0.97" fill="#7c7c7c"/>
<circle cx="319.9" cy="94.5" r="1.08" fill="#8b8b8b"/>
<circle cx="323.9" cy="96.5" r="1.04" fill="#636363"/>
<circle cx="323.5" cy="98.6" r="0.91" fill="#777777"/>
<circle cx="337.3" cy="108.2" r="0.95" fill="#898989"/>
<circle cx="335.1" cy="107.3" r="1.26" fill="#565656"/>
<circle cx="337.6" cy="107.4" r="1.04" fill="#6e6e6e"/>
<circle cx="340.1" cy="107.4" r="0.94" fill="#737373"/>
<circle cx="336.6" cy="107.8" r="1.01" fill="#8d8d8d"/>
<circle cx="340.5" cy="107.7" r="0.88" fill="#8f8f8f"/>
<circle cx="335.3" cy="108.7" r="0.93" fill="#5a5a5a"/>
<circle cx="339.2" cy="107.1" r="0.87" fill="#737373"/>
<circle cx="346.1" cy="109.3" r="1.03" fill="#959595"/>
<circle cx="344.2" cy="106.9" r="1.14" fill="#6b6b6b"/>
<circle cx="345.1" cy="108.4" r="1.27" fill="#767676"/>
<circle cx="345.1" cy="108.4" r="1.04" fill="#797979"/>
<circle cx="342.9" cy="110.6" r="1.12" fill="#8b8b8b"/>
<circle cx="342.9" cy="112.2" r="1.20" fill="#868686"/>
<circle cx="340.8" cy="111.0" r="1.21" fill="#787878"/>
<circle cx="345.1" cy="111.0" r="0.86" fill="#8f8f8f"/>
<circle cx="256.8" cy="123.3" r="1.10" fill="#7c7c7c"/>
<circle cx="256.1" cy="121.1" r="1.14" fill="#8b8b8b"/>
<circle cx="255.9" cy="122.6" r="1.21" fill="#505050"/>
<circle cx="258.4" cy="123.2" r="0.95" fill="#8e8e8e"/>
<circle cx="258.1" cy="122.7" r="0.99" fill="#737373"/>
<circle cx="258.7" cy="119.8" r="1.23" fill="#7a7a7a"/>
<circle cx="278.9" cy="122.1" r="1.13" fill="#898989"/>
<circle cx="278.1" cy="124.4" r="1.10" fill="#787878"/>
<circle cx="277.8" cy="121.5" r="0.93" fill="#919191"/>
<circle cx="278.2" cy="122.7" r="0.98" fill="#828282"/>
<circle cx="278.2" cy="123.1" r="0.97" fill="#717171"/>
<circle cx="278.2" cy="120.6" r="1.24" fill="#949494"/>
<circle cx="259.3" cy="150.3" r="0.99" fill="#a5a5a5"/>
<circle cx="259.6" cy="150.2" r="1.05" fill="#838383"/>
<circle cx="258.9" cy="150.5" r="0.99" fill="#9a9a9a"/>
<circle cx="259.4" cy="150.6" r="1.11" fill="#959595"/>
<circle cx="260.3" cy="149.6" r="1.29" fill="#797979"/>
<circle cx="259.7" cy="151.7" r="1.11" fill="#757575"/>
<circle cx="258.8" cy="152.3" r="0.87" fill="#a7a7a7"/>
<circle cx="257.4" cy="153.5" r="1.18" fill="#7b7b7b"/>
<circle cx="270.3" cy="156.5" r="1.29" fill="#525252"/>
<circle cx="270.0" cy="158.8" r="0.85" fill="#858585"/>
<circle cx="272.3" cy="158.0" r="0.87" fill="#747474"/>
<circle cx="270.4" cy="158.2" r="1.07" fill="#696969"/>
<circle cx="268.1" cy="158.1" r="0.94" fill="#5c5c5c"/>
<circle cx="269.3" cy="155.1" r="1.27" fill="#6d6d6d"/>
<circle cx="269.5" cy="156.7" r="0.86" fill="#575757"/>
<circle cx="316.2" cy="137.7" r="1.28" fill="#6e6e6e"/>
<circle cx="317.9" cy="137.7" r="0.88" fill="#6d6d6d"/>
<circle cx="317.4" cy="136.6" r="1.28" fill="#8a8a8a"/>
<circle cx="315.8" cy="138.8" r="1.08" fill="#717171"/>
<circle cx="317.2" cy="137.2" r="1.24" fill="#6f6f6f"/>
<circle cx="314.9" cy="140.7" r="1.15" fill="#747474"/>
<circle cx="315.2" cy="138.6" r="1.12" fill="#626262"/>
<circle cx="317.4" cy="142.9" r="0.87" fill="#707070"/>
<circle cx="320.0" cy="138.8" r="1.05" fill="#808080"/>
<circle cx="321.5" cy="138.5" r="1.13" fill="#6a6a6a"/>
<circle cx="315.5" cy="141.2" r="1.01" fill="#868686"/>
<circle cx="322.0" cy="140.2" r="1.18" fill="#656565"/>
<circle cx="334.0" cy="145.7" r="1.12" fill="#878787"/>
<circle cx="333.2" cy="144.5" r="0.89" fill="#585858"/>
<circle cx="334.7" cy="145.3" r="0.91" fill="#808080"/>
<circle cx="334.6" cy="144.9" r="0.95" fill="#939393"/>
<circle cx="331.9" cy="144.3" r="1.19" fill="#737373"/>
<circle cx="330.7" cy="144.7" r="0.98" fill="#6d6d6d"/>
<circle cx="330.3" cy="145.2" r="1.24" fill="#555555"/>
<circle cx="333.2" cy="148.3" r="1.12" fill="#7b7b7b"/>
<circle cx="294.2" cy="128.0" r="1.03" fill="#5e5e5e"/>
<circle cx="296.4" cy="130.9" r="1.18" fill="#8d8d8d"/>
<circle cx="297.1" cy="128.9" r="0.99" fill="#727272"/>
<circle cx="294.8" cy="128.5" r="1.02" fill="#767676"/>
<circle cx="296.3" cy="127.6" r="0.99" fill="#7a7a7a"/>
<circle cx="294.9" cy="144.7" r="1.10" fill="#636363"/>
<circle cx="298.0" cy="145.6" r="0.89" fill="#727272"/>
<circle cx="293.5" cy="145.5" r="1.19" fill="#848484"/>
<circle cx="297.8" cy="145.4" r="1.02" fill="#606060"/>
<circle cx="298.0" cy="146.8" r="1.08" fill="#595959"/>
<circle cx="298.9" cy="144.1" r="0.88" fill="#505050"/>
<circle cx="290.4" cy="165.9" r="1.23" fill="#545454"/>
<circle cx="290.2" cy="165.0" r="1.00" fill="#515151"/>
<circle cx="289.4" cy="165.0" r="0.94" fill="#646464"/>
<circle cx="286.6" cy="164.4" r="0.96" fill="#5e5e5e"/>
<circle cx="289.1" cy="163.9" r="1.10" fill="#6f6f6f"/>
<circle cx="287.1" cy="166.6" r="0.86" fill="#5c5c5c"/>
<circle cx="286.3" cy="162.9" r="0.95" fill="#5c5c5c"/>
<circle cx="288.8" cy="164.4" r="1.21" fill="#8d8d8d"/>
<circle cx="266.7" cy="171.9" r="0.92" fill="#535353"/>
<circle cx="264.0" cy="171.3" r="1.12" fill="#6e6e6e"/>
<circle cx="265.4" cy="165.9" r="0.90" fill="#5e5e5e"/>
<circle cx="264.5" cy="167.6" r="1.28" fill="#888888"/>
<circle cx="264.9" cy="171.1" r="0.96" fill="#6d6d6d"/>
<circle cx="264.5" cy="169.7" r="0.96" fill="#5d5d5d"/>
<circle cx="262.9" cy="171.2" r="1.24" fill="#7e7e7e"/>
<circle cx="261.7" cy="166.5" r="1.02" fill="#6d6d6d"/>
<circle cx="264.6" cy="172.6" r="1.24" fill="#8f8f8f"/>
<circle cx="263.4" cy="168.2" r="0.88" fill="#878787"/>
<circle cx="266.7" cy="167.1" r="1.26" fill="#919191"/>
<circle cx="264.6" cy="166.6" r="1.06" fill="#686868"/>
<circle cx="262.3" cy="170.7" r="0.86" fill="#585858"/>
<circle cx="266.0" cy="171.6" r="1.24" fill="#818181"/>
<circle cx="247.7" cy="169.2" r="1.13" fill="#595959"/>
<circle cx="248.6" cy="168.7" r="0.96" fill="#7d7d7d"/>
<circle cx="247.8" cy="170.0" r="0.99" fill="#6d6d6d"/>
<circle cx="243.8" cy="166.7" r="1.26" fill="#8b8b8b"/>
<circle cx="246.2" cy="166.9" r="0.93" fill="#757575"/>
<circle cx="249.0" cy="167.4" r="0.94" fill="#686868"/>
<circle cx="248.6" cy="167.1" r="1.24" fill="#8c8c8c"/>
<circle cx="247.0" cy="165.3" r="1.15" fill="#676767"/>
<circle cx="316.2" cy="187.3" r="0.86" fill="#626262"/>
<circle cx="309.7" cy="181.4" r="0.94" fill="#616161"/>
<circle cx="314.5" cy="182.2" r="1.03" fill="#696969"/>
<circle cx="317.2" cy="185.6" r="1.16" fill="#505050"/>
<circle cx="314.4" cy="185.2" r="1.02" fill="#8e8e8e"/>
<circle cx="314.4" cy="186.0" r="0.99" fill="#737373"/>
<circle cx="315.7" cy="182.4" r="1.26" fill="#757575"/>
<circle cx="309.2" cy="186.0" r="1.11" fill="#717171"/>
<circle cx="310.3" cy="184.1" r="1.04" fill="#555555"/>
<circle cx="314.1" cy="188.1" r="0.91" fill="#5e5e5e"/>
<circle cx="314.4" cy="186.6" r="0.87" fill="#696969"/>
<circle cx="310.1" cy="181.9" r="1.24" fill="#565656"/>
<circle cx="311.8" cy="182.7" r="1.00" fill="#787878"/>
<circle cx="314.9" cy="181.2" r="1.29" fill="#515151"/>
<circle cx="311.7" cy="187.2" r="0.87" fill="#535353"/>
<circle cx="310.7" cy="186.8" r="0.91" fill="#545454"/>
<circle cx="343.2" cy="185.0" r="1.11" fill="#959595"/>
<circle cx="341.4" cy="178.9" r="1.11" fill="#717171"/>
<circle cx="343.8" cy="182.1" r="0.88" fill="#7e7e7e"/>
<circle cx="345.2" cy="181.0" r="0.93" fill="#666666"/>
<circle cx="343.2" cy="185.3" r="0.96" fill="#656565"/>
<circle cx="340.4" cy="181.8" r="0.98" fill="#7c7c7c"/>
<circle cx="347.6" cy="182.4" r="1.27" fill="#5f5f5f"/>
<circle cx="342.5" cy="184.4" r="1.10" fill="#787878"/>
<circle cx="341.9" cy="179.2" r="1.00" fill="#686868"/>
<circle cx="342.2" cy="183.5" r="1.11" fill="#8d8d8d"/>
<circle cx="342.4" cy="183.3" r="1.22" fill="#939393"/>
<circle cx="345.0" cy="185.3" r="0.96" fill="#838383"/>
<circle cx="347.9" cy="182.3" r="1.11" fill="#808080"/>
<circle cx="348.3" cy="179.5" r="1.10" fill="#727272"/>
<circle cx="348.1" cy="181.8" r="1.10" fill="#838383"/>
<circle cx="346.6" cy="184.5" r="0.87" fill="#828282"/>
<circle cx="228.2" cy="184.6" r="1.16" fill="#7e7e7e"/>
<circle cx="226.6" cy="188.1" r="1.19" fill="#686868"/>
<circle cx="228.4" cy="189.3" r="1.22" fill="#929292"/>
<circle cx="223.4" cy="185.4" r="0.93" fill="#727272"/>
<circle cx="228.9" cy="187.1" r="1.24" fill="#545454"/>
<circle cx="225.4" cy="184.6" r="1.29" fill="#959595"/>
<circle cx="228.5" cy="188.4" r="1.30" fill="#676767"/>
<circle cx="228.6" cy="190.5" r="1.13" fill="#656565"/>
<circle cx="224.5" cy="186.1" r="1.06" fill="#767676"/>
<circle cx="228.5" cy="189.7" r="1.28" fill="#797979"/>
<circle cx="227.5" cy="184.9" r="0.92" fill="#505050"/>
<circle cx="228.4" cy="186.8" r="1.02" fill="#7d7d7d"/>
<circle cx="226.7" cy="183.9" r="1.05" fill="#898989"/>
<circle cx="223.6" cy="188.3" r="0.87" fill="#828282"/>
<circle cx="270.1" cy="182.6" r="1.05" fill="#5c5c5c"/>
<circle cx="266.0" cy="182.4" r="0.87" fill="#5d5d5d"/>
<circle cx="270.6" cy="181.2" r="1.03" fill="#8f8f8f"/>
<circle cx="268.8" cy="180.3" r="1.12" fill="#5c5c5c"/>
<circle cx="269.0" cy="179.3" r="1.21" fill="#545454"/>
<circle cx="269.9" cy="180.9" r="1.23" fill="#6e6e6e"/>
<circle cx="269.3" cy="180.9" r="0.87" fill="#707070"/>
<circle cx="270.5" cy="180.6" r="1.08" fill="#5b5b5b"/>
<circle cx="341.5" cy="136.7" r="1.25" fill="#838383"/>
<circle cx="342.3" cy="137.4" r="0.92" fill="#939393"/>
<circle cx="342.3" cy="136.3" r="1.21" fill="#5f5f5f"/>
<circle cx="340.7" cy="138.0" r="0.90" fill="#575757"/>
<circle cx="344.5" cy="137.6" r="1.02" fill="#666666"/>
<circle cx="343.3" cy="137.6" r="1.07" fill="#6f6f6f"/>
<circle cx="343.3" cy="135.6" r="1.11" fill="#656565"/>
<circle cx="351.7" cy="122.0" r="1.07" fill="#6f6f6f"/>
<circle cx="349.6" cy="123.9" r="1.09" fill="#666666"/>
<circle cx="353.0" cy="120.7" r="1.10" fill="#7c7c7c"/>
<circle cx="351.4" cy="121.6" r="1.12" fill="#707070"/>
<circle cx="349.8" cy="123.5" r="1.09" fill="#5f5f5f"/>
<circle cx="351.8" cy="124.6" r="1.12" fill="#616161"/>
<circle cx="349.5" cy="153.8" r="1.19" fill="#666666"/>
<circle cx="350.6" cy="156.0" r="1.01" fill="#797979"/>
<circle cx="348.0" cy="155.0" r="1.20" fill="#8b8b8b"/>
<circle cx="348.7" cy="158.0" r="1.03" fill="#808080"/>
<circle cx="348.4" cy="155.5" r="1.02" fill="#8f8f8f"/>
<circle cx="351.3" cy="156.0" r="1.20" fill="#8a8a8a"/>
<circle cx="349.1" cy="157.4" r="1.13" fill="#6a6a6a"/>
<circle cx="246.5" cy="131.2" r="1.02" fill="#6d6d6d"/>
<circle cx="253.5" cy="141.0" r="0.88" fill="#575757"/>
<circle cx="247.1" cy="128.7" r="1.18" fill="#383838"/>
<circle cx="248.0" cy="137.3" r="5.34" fill="#0f0f0f"/>
<circle cx="245.2" cy="138.5" r="2.48" fill="#212121"/>
<circle cx="251.9" cy="136.6" r="1.98" fill="#0b0b0b"/>
<circle cx="250.1" cy="136.9" r="2.86" fill="#090909"/>
<circle cx="246.2" cy="136.3" r="1.90" fill="#121212"/>
<circle cx="248.9" cy="134.1" r="2.11" fill="#0a0a0a"/>
<circle cx="246.6" cy="139.0" r="2.01" fill="#181818"/>
<circle cx="244.1" cy="137.6" r="1.84" fill="#1a1a1a"/>
<circle cx="246.1" cy="136.5" r="2.16" fill="#0a0a0a"/>
<circle cx="250.0" cy="135.7" r="1.82" fill="#181818"/>
<circle cx="244.3" cy="136.6" r="2.57" fill="#0d0d0d"/>
<circle cx="249.5" cy="136.3" r="2.55" fill="#060606"/>
<circle cx="248.9" cy="135.3" r="2.66" fill="#252525"/>
<circle cx="248.3" cy="135.3" r="2.20" fill="#090909"/>
<circle cx="243.1" cy="145.6" r="1.06" fill="#707070"/>
<circle cx="242.3" cy="148.1" r="0.99" fill="#575757"/>
<circle cx="244.3" cy="151.5" r="3.68" fill="#1e1e1e"/>
<circle cx="244.3" cy="149.6" r="1.49" fill="#292929"/>
<circle cx="244.7" cy="152.8" r="1.39" fill="#141414"/>
<circle cx="243.4" cy="149.8" r="1.69" fill="#2a2a2a"/>
<circle cx="246.7" cy="152.3" r="1.86" fill="#141414"/>
<circle cx="242.1" cy="152.5" r="1.53" fill="#363636"/>
<circle cx="243.5" cy="149.4" r="1.92" fill="#333333"/>
<circle cx="243.2" cy="150.9" r="1.56" fill="#2f2f2f"/>
<circle cx="242.2" cy="151.2" r="1.48" fill="#353535"/>
<circle cx="244.4" cy="153.7" r="1.55" fill="#191919"/>
<circle cx="245.7" cy="151.7" r="1.43" fill="#262626"/>
<circle cx="245.6" cy="151.7" r="1.84" fill="#3b3b3b"/>
<circle cx="236.9" cy="157.0" r="1.10" fill="#898989"/>
<circle cx="240.3" cy="155.4" r="2.94" fill="#646464"/>
<circle cx="238.5" cy="155.0" r="1.56" fill="#737373"/>
<circle cx="238.9" cy="155.0" r="1.54" fill="#6e6e6e"/>
<circle cx="238.4" cy="155.7" r="1.24" fill="#5c5c5c"/>
<circle cx="238.6" cy="154.3" r="1.20" fill="#5d5d5d"/>
<circle cx="242.0" cy="156.7" r="1.03" fill="#747474"/>
<circle cx="241.7" cy="156.2" r="1.54" fill="#636363"/>
<circle cx="239.7" cy="157.0" r="1.33" fill="#707070"/>
<circle cx="239.5" cy="156.0" r="1.34" fill="#656565"/>
<circle cx="239.2" cy="154.4" r="1.13" fill="#818181"/>
<circle cx="326.1" cy="103.9" r="1.04" fill="#666666"/>
<circle cx="328.2" cy="99.5" r="3.04" fill="#1e1e1e"/>
<circle cx="328.1" cy="100.7" r="1.46" fill="#262626"/>
<circle cx="327.1" cy="98.9" r="1.33" fill="#2e2e2e"/>
<circle cx="328.3" cy="97.6" r="1.26" fill="#2f2f2f"/>
<circle cx="326.9" cy="98.6" r="1.41" fill="#202020"/>
<circle cx="329.3" cy="100.0" r="1.63" fill="#373737"/>
<circle cx="328.8" cy="98.3" r="1.54" fill="#333333"/>
<circle cx="326.9" cy="99.1" r="1.06" fill="#3b3b3b"/>
<circle cx="330.3" cy="99.5" r="1.28" fill="#313131"/>
<circle cx="329.6" cy="98.6" r="1.07" fill="#3b3b3b"/>
<circle cx="319.3" cy="149.5" r="1.11" fill="#5a5a5a"/>
<circle cx="321.3" cy="152.0" r="0.93" fill="#a1a1a1"/>
<circle cx="325.4" cy="151.0" r="4.23" fill="#373737"/>
<circle cx="324.5" cy="148.7" r="1.48" fill="#484848"/>
<circle cx="323.4" cy="149.4" r="2.01" fill="#525252"/>
<circle cx="323.0" cy="151.8" r="1.87" fill="#444444"/>
<circle cx="324.7" cy="149.4" r="1.43" fill="#313131"/>
<circle cx="327.7" cy="151.6" r="1.66" fill="#4c4c4c"/>
<circle cx="326.3" cy="152.4" r="2.18" fill="#303030"/>
<circle cx="323.8" cy="153.1" r="1.90" fill="#373737"/>
<circle cx="327.0" cy="152.8" r="1.61" fill="#4f4f4f"/>
<circle cx="325.1" cy="154.1" r="1.40" fill="#454545"/>
<circle cx="324.9" cy="153.2" r="1.78" fill="#4d4d4d"/>
<circle cx="326.5" cy="153.6" r="1.41" fill="#464646"/>
<circle cx="321.8" cy="146.4" r="1.22" fill="#949494"/>
<circle cx="320.5" cy="149.0" r="2.30" fill="#5a5a5a"/>
<circle cx="319.5" cy="150.3" r="1.25" fill="#6f6f6f"/>
<circle cx="320.7" cy="150.7" r="0.93" fill="#727272"/>
<circle cx="320.1" cy="149.9" r="0.88" fill="#6b6b6b"/>
<circle cx="321.8" cy="148.8" r="0.80" fill="#6b6b6b"/>
<circle cx="321.7" cy="148.1" r="0.75" fill="#5c5c5c"/>
<circle cx="320.7" cy="147.6" r="1.25" fill="#737373"/>
<circle cx="320.9" cy="147.6" r="0.94" fill="#515151"/>
<circle cx="320.6" cy="147.8" r="1.18" fill="#555555"/>
</g></g>
<rect x="217.3" y="80.2" width="141.3" height="114.39999999999999" fill="none" stroke="#111" stroke-width="1.6"/>
<clipPath id="cTR"><rect x="365.7" y="80.8" width="141.60000000000002" height="114.7"/></clipPath>
<filter id="fTR" x="-5%" y="-5%" width="110%" height="110%"><feGaussianBlur stdDeviation="0.4"/></filter>
<filter id="gTR" x="-5%" y="-5%" width="110%" height="110%"><feGaussianBlur stdDeviation="1.3"/></filter>
<g clip-path="url(#cTR)"><g filter="url(#gTR)">
<circle cx="470.3" cy="88.7" r="5.00" fill="#cdcdcd"/>
<circle cx="473.0" cy="106.7" r="6.00" fill="#bebebe"/>
<circle cx="478.6" cy="162.1" r="5.00" fill="#c3c3c3"/>
<circle cx="473.0" cy="106.7" r="3.75" fill="#afafaf"/>
<circle cx="481.3" cy="101.0" r="2.25" fill="#c3c3c3"/>
<circle cx="492.4" cy="104.0" r="2.25" fill="#c3c3c3"/>
<circle cx="486.9" cy="120.6" r="2.62" fill="#b9b9b9"/>
<circle cx="459.2" cy="156.6" r="2.25" fill="#b9b9b9"/>
<circle cx="448.0" cy="145.5" r="2.25" fill="#b9b9b9"/>
<circle cx="412.0" cy="106.7" r="2.62" fill="#b9b9b9"/>
<circle cx="420.4" cy="115.0" r="2.25" fill="#b9b9b9"/>
<circle cx="376.0" cy="115.0" r="2.62" fill="#c3c3c3"/>
<circle cx="450.9" cy="178.7" r="2.62" fill="#b9b9b9"/>
<circle cx="426.0" cy="184.3" r="2.62" fill="#d7d7d7"/>
<circle cx="464.7" cy="187.0" r="2.62" fill="#d7d7d7"/>
<circle cx="476.0" cy="162.0" r="3.00" fill="#afafaf"/>
</g><g filter="url(#fTR)">
<circle cx="500.2" cy="188.6" r="0.88" fill="#3e3e3e"/>
<circle cx="483.3" cy="164.7" r="1.15" fill="#515151"/>
<circle cx="451.3" cy="150.2" r="1.11" fill="#444444"/>
<circle cx="426.8" cy="126.2" r="1.18" fill="#8b8b8b"/>
<circle cx="499.2" cy="143.1" r="1.05" fill="#4d4d4d"/>
<circle cx="371.7" cy="84.9" r="1.06" fill="#525252"/>
<circle cx="419.8" cy="182.3" r="1.09" fill="#666666"/>
<circle cx="399.7" cy="84.5" r="1.00" fill="#424242"/>
<circle cx="437.9" cy="194.4" r="1.15" fill="#464646"/>
<circle cx="491.4" cy="171.6" r="1.18" fill="#848484"/>
<circle cx="473.2" cy="170.8" r="1.01" fill="#8a8a8a"/>
<circle cx="501.0" cy="100.0" r="1.19" fill="#737373"/>
<circle cx="431.1" cy="141.6" r="1.07" fill="#858585"/>
<circle cx="436.6" cy="175.5" r="1.01" fill="#828282"/>
<circle cx="492.3" cy="133.8" r="1.11" fill="#858585"/>
<circle cx="467.7" cy="136.6" r="0.95" fill="#525252"/>
<circle cx="464.4" cy="100.5" r="1.26" fill="#4d4d4d"/>
<circle cx="493.9" cy="116.7" r="1.28" fill="#737373"/>
<circle cx="437.1" cy="140.2" r="1.14" fill="#686868"/>
<circle cx="410.2" cy="105.2" r="1.08" fill="#868686"/>
<circle cx="453.7" cy="90.3" r="1.22" fill="#747474"/>
<circle cx="493.4" cy="103.4" r="1.19" fill="#3b3b3b"/>
<circle cx="457.8" cy="112.6" r="0.95" fill="#818181"/>
<circle cx="381.5" cy="140.7" r="1.23" fill="#4b4b4b"/>
<circle cx="396.1" cy="181.0" r="1.04" fill="#737373"/>
<circle cx="371.1" cy="122.6" r="0.93" fill="#707070"/>
<circle cx="378.3" cy="189.4" r="0.86" fill="#757575"/>
<circle cx="369.7" cy="110.6" r="1.22" fill="#444444"/>
<circle cx="392.3" cy="159.7" r="1.02" fill="#3a3a3a"/>
<circle cx="504.9" cy="98.9" r="0.87" fill="#545454"/>
<circle cx="452.6" cy="165.5" r="0.90" fill="#535353"/>
<circle cx="371.0" cy="132.4" r="1.19" fill="#757575"/>
<circle cx="492.6" cy="167.0" r="1.24" fill="#727272"/>
<circle cx="432.7" cy="107.2" r="1.15" fill="#515151"/>
<circle cx="380.9" cy="132.3" r="1.24" fill="#414141"/>
<circle cx="448.4" cy="126.1" r="1.08" fill="#434343"/>
<circle cx="500.7" cy="111.0" r="1.12" fill="#5a5a5a"/>
<circle cx="369.2" cy="144.7" r="0.91" fill="#3b3b3b"/>
<circle cx="371.4" cy="100.0" r="0.89" fill="#6c6c6c"/>
<circle cx="437.7" cy="192.6" r="1.27" fill="#8b8b8b"/>
<circle cx="399.2" cy="131.9" r="0.96" fill="#696969"/>
<circle cx="453.8" cy="172.0" r="1.17" fill="#4c4c4c"/>
<circle cx="425.8" cy="141.1" r="0.85" fill="#3a3a3a"/>
<circle cx="423.8" cy="94.3" r="1.18" fill="#4b4b4b"/>
<circle cx="380.6" cy="102.3" r="0.95" fill="#494949"/>
<circle cx="439.4" cy="134.1" r="0.99" fill="#6d6d6d"/>
<circle cx="396.4" cy="184.0" r="1.28" fill="#747474"/>
<circle cx="427.2" cy="139.4" r="1.11" fill="#3b3b3b"/>
<circle cx="425.1" cy="141.0" r="0.93" fill="#3e3e3e"/>
<circle cx="478.8" cy="123.1" r="1.08" fill="#858585"/>
<circle cx="451.9" cy="114.4" r="1.29" fill="#565656"/>
<circle cx="369.4" cy="159.0" r="0.90" fill="#515151"/>
<circle cx="484.0" cy="157.6" r="0.86" fill="#5d5d5d"/>
<circle cx="424.0" cy="136.6" r="0.94" fill="#696969"/>
<circle cx="377.0" cy="113.8" r="1.02" fill="#868686"/>
<circle cx="377.4" cy="166.9" r="0.94" fill="#676767"/>
<circle cx="421.4" cy="134.0" r="1.19" fill="#585858"/>
<circle cx="383.7" cy="95.5" r="0.89" fill="#7f7f7f"/>
<circle cx="456.2" cy="190.0" r="1.16" fill="#393939"/>
<circle cx="458.7" cy="169.4" r="1.18" fill="#616161"/>
<circle cx="416.6" cy="133.3" r="1.21" fill="#4d4d4d"/>
<circle cx="440.2" cy="135.6" r="1.28" fill="#7b7b7b"/>
<circle cx="496.8" cy="176.0" r="0.98" fill="#4a4a4a"/>
<circle cx="434.9" cy="111.0" r="1.04" fill="#707070"/>
<circle cx="494.9" cy="147.8" r="1.22" fill="#3f3f3f"/>
<circle cx="416.4" cy="194.2" r="0.92" fill="#5a5a5a"/>
<circle cx="376.0" cy="91.5" r="1.25" fill="#8b8b8b"/>
<circle cx="457.2" cy="96.3" r="0.98" fill="#4a4a4a"/>
<circle cx="460.3" cy="158.6" r="1.05" fill="#636363"/>
<circle cx="382.3" cy="142.8" r="1.28" fill="#777777"/>
<circle cx="380.1" cy="140.0" r="1.17" fill="#4c4c4c"/>
<circle cx="491.6" cy="133.7" r="1.17" fill="#595959"/>
<circle cx="505.6" cy="170.0" r="1.11" fill="#434343"/>
<circle cx="428.3" cy="85.1" r="1.12" fill="#818181"/>
<circle cx="391.9" cy="139.3" r="1.07" fill="#595959"/>
<circle cx="465.9" cy="187.4" r="1.17" fill="#5f5f5f"/>
<circle cx="501.0" cy="119.1" r="1.19" fill="#6e6e6e"/>
<circle cx="473.0" cy="177.8" r="0.95" fill="#6b6b6b"/>
<circle cx="422.9" cy="157.0" r="1.29" fill="#6c6c6c"/>
<circle cx="368.3" cy="134.2" r="1.17" fill="#828282"/>
<circle cx="457.5" cy="173.8" r="0.86" fill="#878787"/>
<circle cx="468.5" cy="150.1" r="1.26" fill="#828282"/>
<circle cx="380.7" cy="173.7" r="1.20" fill="#474747"/>
<circle cx="470.6" cy="147.9" r="0.94" fill="#7b7b7b"/>
<circle cx="385.9" cy="150.8" r="1.05" fill="#4c4c4c"/>
<circle cx="445.7" cy="134.4" r="0.94" fill="#898989"/>
<circle cx="376.9" cy="82.1" r="1.07" fill="#7e7e7e"/>
<circle cx="458.6" cy="166.9" r="1.07" fill="#707070"/>
<circle cx="413.5" cy="111.9" r="1.08" fill="#393939"/>
<circle cx="377.8" cy="166.8" r="0.93" fill="#767676"/>
<circle cx="476.2" cy="127.4" r="1.15" fill="#797979"/>
<circle cx="487.3" cy="97.0" r="0.92" fill="#575757"/>
<circle cx="431.6" cy="115.0" r="0.85" fill="#666666"/>
<circle cx="501.7" cy="123.1" r="1.09" fill="#575757"/>
<circle cx="428.5" cy="179.9" r="0.99" fill="#6e6e6e"/>
<circle cx="434.2" cy="142.5" r="1.26" fill="#3d3d3d"/>
<circle cx="481.8" cy="116.1" r="1.14" fill="#7a7a7a"/>
<circle cx="457.9" cy="126.1" r="1.23" fill="#3e3e3e"/>
<circle cx="455.1" cy="125.9" r="1.09" fill="#7f7f7f"/>
<circle cx="478.1" cy="152.7" r="0.99" fill="#4a4a4a"/>
<circle cx="430.6" cy="108.0" r="0.97" fill="#888888"/>
<circle cx="382.3" cy="174.1" r="1.02" fill="#555555"/>
<circle cx="411.1" cy="90.5" r="1.06" fill="#454545"/>
<circle cx="428.4" cy="114.7" r="1.25" fill="#858585"/>
<circle cx="428.4" cy="153.9" r="1.27" fill="#525252"/>
<circle cx="380.6" cy="108.6" r="0.94" fill="#707070"/>
<circle cx="418.9" cy="121.9" r="1.21" fill="#4a4a4a"/>
<circle cx="479.6" cy="153.1" r="1.03" fill="#7c7c7c"/>
<circle cx="414.5" cy="180.8" r="1.27" fill="#616161"/>
<circle cx="463.0" cy="188.7" r="1.18" fill="#767676"/>
<circle cx="488.1" cy="187.2" r="1.19" fill="#8a8a8a"/>
<circle cx="407.4" cy="152.0" r="1.15" fill="#565656"/>
<circle cx="421.9" cy="101.5" r="1.28" fill="#555555"/>
<circle cx="433.2" cy="182.5" r="0.93" fill="#888888"/>
<circle cx="384.4" cy="85.0" r="1.01" fill="#555555"/>
<circle cx="494.8" cy="181.3" r="1.19" fill="#5c5c5c"/>
<circle cx="442.5" cy="108.5" r="1.23" fill="#585858"/>
<circle cx="406.4" cy="153.7" r="0.92" fill="#515151"/>
<circle cx="496.0" cy="92.5" r="0.91" fill="#484848"/>
<circle cx="401.7" cy="129.2" r="0.96" fill="#545454"/>
<circle cx="401.1" cy="108.9" r="1.12" fill="#535353"/>
<circle cx="418.7" cy="168.3" r="0.88" fill="#434343"/>
<circle cx="485.5" cy="130.2" r="1.20" fill="#424242"/>
<circle cx="439.7" cy="177.1" r="1.00" fill="#787878"/>
<circle cx="451.9" cy="126.3" r="1.30" fill="#585858"/>
<circle cx="432.8" cy="151.6" r="0.99" fill="#7e7e7e"/>
<circle cx="450.1" cy="148.1" r="1.09" fill="#8a8a8a"/>
<circle cx="504.8" cy="176.6" r="1.05" fill="#5a5a5a"/>
<circle cx="440.0" cy="87.0" r="0.90" fill="#8b8b8b"/>
<circle cx="384.6" cy="187.4" r="1.16" fill="#848484"/>
<circle cx="377.5" cy="116.3" r="1.21" fill="#373737"/>
<circle cx="381.5" cy="121.3" r="0.93" fill="#434343"/>
<circle cx="460.2" cy="92.2" r="1.29" fill="#6e6e6e"/>
<circle cx="373.6" cy="183.1" r="0.96" fill="#5f5f5f"/>
<circle cx="444.7" cy="97.4" r="1.08" fill="#3c3c3c"/>
<circle cx="394.6" cy="185.3" r="1.22" fill="#636363"/>
<circle cx="461.9" cy="180.5" r="0.91" fill="#606060"/>
<circle cx="385.1" cy="94.9" r="0.90" fill="#494949"/>
<circle cx="374.1" cy="106.1" r="1.02" fill="#6b6b6b"/>
<circle cx="486.6" cy="183.7" r="1.17" fill="#626262"/>
<circle cx="494.7" cy="100.2" r="0.90" fill="#7c7c7c"/>
<circle cx="454.2" cy="105.5" r="1.02" fill="#505050"/>
<circle cx="426.8" cy="130.0" r="1.03" fill="#7a7a7a"/>
<circle cx="480.0" cy="145.2" r="1.06" fill="#4f4f4f"/>
<circle cx="473.5" cy="193.0" r="0.95" fill="#727272"/>
<circle cx="464.3" cy="156.0" r="0.86" fill="#656565"/>
<circle cx="394.9" cy="103.7" r="1.11" fill="#6d6d6d"/>
<circle cx="454.0" cy="165.4" r="1.17" fill="#5f5f5f"/>
<circle cx="373.4" cy="168.8" r="1.22" fill="#7e7e7e"/>
<circle cx="450.2" cy="86.1" r="0.94" fill="#404040"/>
<circle cx="455.5" cy="143.1" r="0.93" fill="#888888"/>
<circle cx="503.2" cy="183.1" r="1.06" fill="#4f4f4f"/>
<circle cx="395.9" cy="174.7" r="1.17" fill="#4e4e4e"/>
<circle cx="492.7" cy="145.9" r="1.04" fill="#5a5a5a"/>
<circle cx="467.3" cy="133.1" r="1.15" fill="#414141"/>
<circle cx="464.7" cy="112.5" r="1.26" fill="#494949"/>
<circle cx="413.2" cy="142.4" r="1.03" fill="#636363"/>
<circle cx="495.7" cy="104.5" r="1.20" fill="#717171"/>
<circle cx="476.5" cy="132.3" r="1.05" fill="#545454"/>
<circle cx="432.8" cy="110.5" r="0.94" fill="#5f5f5f"/>
<circle cx="393.5" cy="134.7" r="1.11" fill="#515151"/>
<circle cx="390.5" cy="150.0" r="1.24" fill="#494949"/>
<circle cx="452.7" cy="156.0" r="1.25" fill="#707070"/>
<circle cx="409.7" cy="105.2" r="1.23" fill="#505050"/>
<circle cx="368.5" cy="179.9" r="0.94" fill="#515151"/>
<circle cx="411.2" cy="110.6" r="1.18" fill="#545454"/>
<circle cx="428.2" cy="129.1" r="1.23" fill="#383838"/>
<circle cx="447.6" cy="96.7" r="0.92" fill="#6a6a6a"/>
<circle cx="419.1" cy="89.1" r="1.11" fill="#848484"/>
<circle cx="456.8" cy="137.6" r="1.21" fill="#848484"/>
<circle cx="387.8" cy="115.5" r="1.28" fill="#858585"/>
<circle cx="395.0" cy="161.1" r="1.24" fill="#696969"/>
<circle cx="464.7" cy="140.9" r="0.96" fill="#494949"/>
<circle cx="375.3" cy="156.8" r="0.91" fill="#6b6b6b"/>
<circle cx="421.3" cy="131.0" r="1.29" fill="#585858"/>
<circle cx="433.0" cy="124.6" r="0.95" fill="#4a4a4a"/>
<circle cx="441.1" cy="173.9" r="0.89" fill="#878787"/>
<circle cx="460.9" cy="87.9" r="1.17" fill="#595959"/>
<circle cx="438.5" cy="93.2" r="1.08" fill="#636363"/>
<circle cx="475.9" cy="147.3" r="1.17" fill="#757575"/>
<circle cx="397.6" cy="84.6" r="1.07" fill="#414141"/>
<circle cx="386.5" cy="118.1" r="1.09" fill="#6b6b6b"/>
<circle cx="456.9" cy="188.0" r="0.90" fill="#666666"/>
<circle cx="378.8" cy="157.3" r="1.05" fill="#424242"/>
<circle cx="410.1" cy="156.2" r="1.06" fill="#878787"/>
<circle cx="416.3" cy="120.1" r="1.27" fill="#6a6a6a"/>
<circle cx="381.6" cy="170.2" r="1.01" fill="#878787"/>
<circle cx="455.5" cy="172.5" r="1.25" fill="#626262"/>
<circle cx="501.7" cy="84.7" r="1.00" fill="#7e7e7e"/>
<circle cx="367.8" cy="157.6" r="1.30" fill="#737373"/>
<circle cx="487.1" cy="90.4" r="1.09" fill="#6a6a6a"/>
<circle cx="427.5" cy="129.1" r="1.21" fill="#444444"/>
<circle cx="373.0" cy="148.6" r="1.28" fill="#7d7d7d"/>
<circle cx="460.7" cy="115.0" r="1.26" fill="#3a3a3a"/>
<circle cx="401.1" cy="170.6" r="1.25" fill="#595959"/>
<circle cx="493.6" cy="94.3" r="1.12" fill="#3c3c3c"/>
<circle cx="399.3" cy="103.2" r="0.85" fill="#595959"/>
<circle cx="436.5" cy="113.5" r="1.14" fill="#3b3b3b"/>
<circle cx="438.9" cy="141.3" r="1.03" fill="#848484"/>
<circle cx="384.4" cy="129.9" r="1.06" fill="#565656"/>
<circle cx="502.6" cy="146.2" r="1.08" fill="#5c5c5c"/>
<circle cx="427.8" cy="189.0" r="1.21" fill="#6e6e6e"/>
<circle cx="389.4" cy="148.8" r="0.91" fill="#545454"/>
<circle cx="369.9" cy="161.3" r="1.29" fill="#6d6d6d"/>
<circle cx="446.2" cy="110.0" r="1.05" fill="#5e5e5e"/>
<circle cx="425.7" cy="112.2" r="0.95" fill="#767676"/>
<circle cx="499.7" cy="174.4" r="1.13" fill="#393939"/>
<circle cx="408.9" cy="176.5" r="1.29" fill="#656565"/>
<circle cx="446.1" cy="159.2" r="0.96" fill="#737373"/>
<circle cx="417.7" cy="177.3" r="1.06" fill="#6f6f6f"/>
<circle cx="445.7" cy="144.5" r="1.16" fill="#494949"/>
<circle cx="445.7" cy="143.7" r="1.04" fill="#595959"/>
<circle cx="445.4" cy="142.8" r="1.22" fill="#585858"/>
<circle cx="445.6" cy="142.9" r="1.26" fill="#606060"/>
<circle cx="443.1" cy="142.0" r="0.93" fill="#585858"/>
<circle cx="445.0" cy="142.6" r="0.97" fill="#4e4e4e"/>
<circle cx="493.1" cy="117.0" r="1.05" fill="#3f3f3f"/>
<circle cx="491.7" cy="119.2" r="1.18" fill="#444444"/>
<circle cx="492.6" cy="118.0" r="1.12" fill="#555555"/>
<circle cx="492.1" cy="118.3" r="0.86" fill="#393939"/>
<circle cx="493.8" cy="115.6" r="1.00" fill="#5a5a5a"/>
<circle cx="491.2" cy="191.8" r="0.92" fill="#4d4d4d"/>
<circle cx="489.1" cy="191.6" r="1.06" fill="#4b4b4b"/>
<circle cx="490.7" cy="190.0" r="1.23" fill="#808080"/>
<circle cx="492.1" cy="189.9" r="1.17" fill="#474747"/>
<circle cx="491.1" cy="192.3" r="1.11" fill="#5d5d5d"/>
<circle cx="491.4" cy="188.8" r="1.01" fill="#444444"/>
<circle cx="394.4" cy="160.2" r="0.94" fill="#6b6b6b"/>
<circle cx="399.0" cy="159.5" r="0.94" fill="#444444"/>
<circle cx="395.6" cy="159.9" r="1.24" fill="#4d4d4d"/>
<circle cx="394.2" cy="160.6" r="1.28" fill="#444444"/>
<circle cx="477.4" cy="182.0" r="1.09" fill="#7b7b7b"/>
<circle cx="475.8" cy="180.2" r="1.26" fill="#606060"/>
<circle cx="479.6" cy="181.0" r="0.93" fill="#4e4e4e"/>
<circle cx="476.6" cy="179.9" r="1.06" fill="#3b3b3b"/>
<circle cx="475.9" cy="180.4" r="0.99" fill="#6b6b6b"/>
<circle cx="481.4" cy="180.8" r="0.95" fill="#4f4f4f"/>
<circle cx="407.1" cy="126.5" r="1.13" fill="#515151"/>
<circle cx="405.1" cy="126.5" r="1.10" fill="#383838"/>
<circle cx="404.5" cy="120.0" r="1.24" fill="#6f6f6f"/>
<circle cx="386.5" cy="164.7" r="1.13" fill="#7f7f7f"/>
<circle cx="388.6" cy="160.9" r="1.01" fill="#767676"/>
<circle cx="387.4" cy="163.6" r="1.25" fill="#5f5f5f"/>
<circle cx="388.9" cy="161.8" r="1.20" fill="#484848"/>
<circle cx="387.5" cy="163.9" r="1.05" fill="#555555"/>
<circle cx="386.4" cy="164.7" r="1.27" fill="#676767"/>
<circle cx="416.2" cy="100.0" r="1.04" fill="#707070"/>
<circle cx="415.9" cy="102.7" r="1.26" fill="#3d3d3d"/>
<circle cx="414.0" cy="104.6" r="1.15" fill="#656565"/>
<circle cx="463.3" cy="140.5" r="1.06" fill="#4e4e4e"/>
<circle cx="462.8" cy="141.2" r="0.90" fill="#737373"/>
<circle cx="464.5" cy="142.7" r="0.87" fill="#434343"/>
<circle cx="462.9" cy="139.4" r="1.03" fill="#818181"/>
<circle cx="466.3" cy="141.7" r="0.90" fill="#373737"/>
<circle cx="382.3" cy="86.9" r="0.92" fill="#4b4b4b"/>
<circle cx="379.4" cy="87.0" r="1.08" fill="#737373"/>
<circle cx="378.9" cy="86.9" r="1.23" fill="#707070"/>
<circle cx="384.7" cy="87.7" r="0.98" fill="#626262"/>
<circle cx="380.5" cy="86.1" r="0.88" fill="#373737"/>
<circle cx="384.3" cy="85.9" r="0.89" fill="#757575"/>
<circle cx="435.7" cy="132.8" r="1.29" fill="#575757"/>
<circle cx="440.1" cy="135.7" r="1.25" fill="#434343"/>
<circle cx="434.5" cy="133.1" r="1.08" fill="#6e6e6e"/>
<circle cx="438.0" cy="136.8" r="0.87" fill="#616161"/>
<circle cx="438.3" cy="135.9" r="1.30" fill="#6d6d6d"/>
<circle cx="475.5" cy="184.0" r="0.98" fill="#4a4a4a"/>
<circle cx="476.7" cy="178.5" r="1.26" fill="#3a3a3a"/>
<circle cx="476.4" cy="184.4" r="0.98" fill="#7e7e7e"/>
<circle cx="475.9" cy="183.0" r="0.87" fill="#525252"/>
<circle cx="504.1" cy="131.7" r="0.95" fill="#535353"/>
<circle cx="501.5" cy="133.3" r="0.98" fill="#686868"/>
<circle cx="503.9" cy="130.4" r="1.22" fill="#7f7f7f"/>
<circle cx="502.0" cy="132.3" r="1.29" fill="#676767"/>
<circle cx="498.3" cy="132.9" r="1.26" fill="#646464"/>
<circle cx="501.3" cy="132.3" r="0.94" fill="#6d6d6d"/>
<circle cx="499.9" cy="131.2" r="0.86" fill="#393939"/>
<circle cx="401.7" cy="85.5" r="1.26" fill="#666666"/>
<circle cx="401.4" cy="84.7" r="0.92" fill="#656565"/>
<circle cx="403.1" cy="84.0" r="0.90" fill="#626262"/>
<circle cx="400.2" cy="84.1" r="1.22" fill="#656565"/>
<circle cx="405.0" cy="85.3" r="0.94" fill="#494949"/>
<circle cx="402.7" cy="85.3" r="1.14" fill="#616161"/>
<circle cx="406.5" cy="84.9" r="1.16" fill="#464646"/>
<circle cx="420.2" cy="82.8" r="1.20" fill="#7f7f7f"/>
<circle cx="418.9" cy="85.0" r="0.89" fill="#5a5a5a"/>
<circle cx="419.5" cy="83.2" r="1.28" fill="#656565"/>
<circle cx="417.2" cy="85.4" r="0.89" fill="#5f5f5f"/>
<circle cx="458.2" cy="106.3" r="0.86" fill="#535353"/>
<circle cx="456.3" cy="108.4" r="1.27" fill="#3e3e3e"/>
<circle cx="456.5" cy="107.9" r="0.97" fill="#737373"/>
<circle cx="455.3" cy="109.6" r="0.85" fill="#464646"/>
<circle cx="456.9" cy="106.3" r="0.95" fill="#494949"/>
<circle cx="458.5" cy="106.2" r="1.04" fill="#7d7d7d"/>
<circle cx="456.7" cy="108.1" r="1.25" fill="#393939"/>
<circle cx="386.9" cy="177.3" r="1.09" fill="#4b4b4b"/>
<circle cx="383.8" cy="179.2" r="0.99" fill="#6e6e6e"/>
<circle cx="387.0" cy="178.1" r="0.85" fill="#3e3e3e"/>
<circle cx="384.8" cy="180.0" r="1.14" fill="#626262"/>
<circle cx="483.8" cy="187.4" r="1.29" fill="#3f3f3f"/>
<circle cx="484.1" cy="193.9" r="0.97" fill="#5c5c5c"/>
<circle cx="484.4" cy="187.8" r="1.00" fill="#474747"/>
<circle cx="482.1" cy="193.7" r="0.90" fill="#545454"/>
<circle cx="482.2" cy="191.9" r="0.87" fill="#595959"/>
<circle cx="498.1" cy="186.3" r="0.88" fill="#686868"/>
<circle cx="498.1" cy="188.2" r="0.98" fill="#6f6f6f"/>
<circle cx="497.9" cy="189.1" r="1.25" fill="#747474"/>
<circle cx="499.7" cy="185.2" r="1.19" fill="#4b4b4b"/>
<circle cx="464.3" cy="121.9" r="0.87" fill="#7c7c7c"/>
<circle cx="465.8" cy="122.4" r="1.09" fill="#757575"/>
<circle cx="465.8" cy="123.8" r="1.17" fill="#818181"/>
<circle cx="464.3" cy="127.3" r="0.96" fill="#666666"/>
<circle cx="464.1" cy="127.8" r="1.22" fill="#6a6a6a"/>
<circle cx="463.4" cy="127.4" r="1.19" fill="#383838"/>
<circle cx="410.4" cy="176.2" r="1.06" fill="#757575"/>
<circle cx="411.8" cy="175.5" r="0.92" fill="#5f5f5f"/>
<circle cx="411.7" cy="174.9" r="1.20" fill="#646464"/>
<circle cx="409.5" cy="176.4" r="1.29" fill="#636363"/>
<circle cx="410.5" cy="177.4" r="1.11" fill="#7e7e7e"/>
<circle cx="411.1" cy="178.0" r="0.95" fill="#636363"/>
<circle cx="412.5" cy="175.1" r="1.07" fill="#646464"/>
<circle cx="462.2" cy="148.0" r="1.23" fill="#494949"/>
<circle cx="465.2" cy="148.2" r="1.18" fill="#464646"/>
<circle cx="465.0" cy="148.6" r="1.12" fill="#636363"/>
<circle cx="463.0" cy="147.7" r="1.06" fill="#616161"/>
<circle cx="464.2" cy="148.4" r="0.86" fill="#818181"/>
<circle cx="465.0" cy="149.1" r="1.22" fill="#797979"/>
<circle cx="442.4" cy="114.7" r="1.15" fill="#414141"/>
<circle cx="440.4" cy="115.0" r="1.09" fill="#4d4d4d"/>
<circle cx="442.6" cy="113.5" r="1.06" fill="#737373"/>
<circle cx="442.4" cy="115.8" r="0.92" fill="#4f4f4f"/>
<circle cx="444.1" cy="114.6" r="1.19" fill="#555555"/>
<circle cx="451.6" cy="190.3" r="1.25" fill="#464646"/>
<circle cx="456.3" cy="190.8" r="0.97" fill="#383838"/>
<circle cx="455.9" cy="190.5" r="1.20" fill="#545454"/>
<circle cx="450.4" cy="189.2" r="0.97" fill="#535353"/>
<circle cx="451.1" cy="192.0" r="0.85" fill="#383838"/>
<circle cx="450.9" cy="189.4" r="1.19" fill="#6b6b6b"/>
<circle cx="487.9" cy="146.8" r="0.91" fill="#464646"/>
<circle cx="490.9" cy="148.0" r="1.22" fill="#505050"/>
<circle cx="489.2" cy="147.1" r="1.14" fill="#595959"/>
<circle cx="434.2" cy="114.2" r="1.07" fill="#4b4b4b"/>
<circle cx="434.0" cy="111.2" r="1.02" fill="#4a4a4a"/>
<circle cx="435.0" cy="112.7" r="1.26" fill="#666666"/>
<circle cx="436.8" cy="112.2" r="1.29" fill="#505050"/>
<circle cx="431.8" cy="113.7" r="1.27" fill="#3c3c3c"/>
<circle cx="432.9" cy="112.5" r="1.19" fill="#777777"/>
<circle cx="435.0" cy="113.1" r="1.07" fill="#666666"/>
<circle cx="473.0" cy="117.8" r="0.93" fill="#787878"/>
<circle cx="473.7" cy="120.9" r="0.91" fill="#4b4b4b"/>
<circle cx="473.9" cy="120.1" r="0.86" fill="#717171"/>
<circle cx="474.0" cy="120.7" r="1.23" fill="#7f7f7f"/>
<circle cx="447.6" cy="130.7" r="1.11" fill="#808080"/>
<circle cx="449.7" cy="131.8" r="1.16" fill="#747474"/>
<circle cx="450.3" cy="131.8" r="1.30" fill="#3c3c3c"/>
<circle cx="448.9" cy="131.7" r="1.12" fill="#4d4d4d"/>
<circle cx="448.6" cy="131.9" r="0.85" fill="#5e5e5e"/>
<circle cx="450.8" cy="130.9" r="1.02" fill="#6e6e6e"/>
<circle cx="450.0" cy="132.7" r="0.95" fill="#474747"/>
<circle cx="411.1" cy="94.5" r="1.04" fill="#6b6b6b"/>
<circle cx="411.2" cy="93.6" r="0.91" fill="#606060"/>
<circle cx="408.8" cy="92.6" r="1.16" fill="#515151"/>
<circle cx="408.9" cy="94.2" r="1.08" fill="#5f5f5f"/>
<circle cx="412.7" cy="94.2" r="1.00" fill="#494949"/>
<circle cx="411.7" cy="94.8" r="1.05" fill="#414141"/>
<circle cx="410.9" cy="83.5" r="1.08" fill="#626262"/>
<circle cx="410.2" cy="85.2" r="1.03" fill="#525252"/>
<circle cx="411.6" cy="84.0" r="1.29" fill="#7f7f7f"/>
<circle cx="410.7" cy="80.9" r="0.87" fill="#6b6b6b"/>
<circle cx="411.4" cy="82.1" r="1.00" fill="#696969"/>
<circle cx="410.9" cy="83.4" r="1.18" fill="#606060"/>
<circle cx="409.0" cy="84.3" r="0.91" fill="#727272"/>
<circle cx="454.2" cy="101.7" r="1.10" fill="#595959"/>
<circle cx="453.4" cy="102.9" r="1.03" fill="#646464"/>
<circle cx="452.4" cy="101.6" r="0.90" fill="#454545"/>
<circle cx="453.9" cy="103.0" r="1.20" fill="#505050"/>
<circle cx="439.2" cy="183.8" r="0.91" fill="#484848"/>
<circle cx="440.0" cy="181.3" r="0.87" fill="#5d5d5d"/>
<circle cx="434.1" cy="182.1" r="0.93" fill="#616161"/>
<circle cx="436.1" cy="181.6" r="0.86" fill="#575757"/>
<circle cx="434.9" cy="182.8" r="0.90" fill="#595959"/>
<circle cx="433.9" cy="180.7" r="0.95" fill="#383838"/>
<circle cx="437.8" cy="181.9" r="1.06" fill="#707070"/>
<circle cx="383.7" cy="151.1" r="0.86" fill="#747474"/>
<circle cx="386.6" cy="150.4" r="1.20" fill="#464646"/>
<circle cx="382.6" cy="151.9" r="1.01" fill="#686868"/>
<circle cx="388.1" cy="150.2" r="0.88" fill="#616161"/>
<circle cx="384.5" cy="151.2" r="0.98" fill="#434343"/>
<circle cx="388.6" cy="149.9" r="1.07" fill="#595959"/>
<circle cx="388.8" cy="149.1" r="1.19" fill="#494949"/>
<circle cx="469.1" cy="161.4" r="1.26" fill="#4d4d4d"/>
<circle cx="469.2" cy="161.4" r="1.08" fill="#606060"/>
<circle cx="467.5" cy="159.8" r="1.19" fill="#5d5d5d"/>
<circle cx="464.5" cy="158.1" r="1.10" fill="#424242"/>
<circle cx="465.6" cy="160.1" r="0.86" fill="#565656"/>
<circle cx="421.8" cy="180.1" r="1.29" fill="#4e4e4e"/>
<circle cx="425.7" cy="179.5" r="1.21" fill="#7a7a7a"/>
<circle cx="420.9" cy="179.2" r="1.22" fill="#404040"/>
<circle cx="469.1" cy="109.2" r="1.27" fill="#6e6e6e"/>
<circle cx="472.5" cy="107.2" r="1.05" fill="#6a6a6a"/>
<circle cx="474.7" cy="105.3" r="0.91" fill="#676767"/>
<circle cx="474.4" cy="104.7" r="1.18" fill="#676767"/>
<circle cx="472.3" cy="102.2" r="1.14" fill="#4a4a4a"/>
<circle cx="476.6" cy="104.9" r="0.88" fill="#666666"/>
<circle cx="469.2" cy="104.2" r="0.94" fill="#6f6f6f"/>
<circle cx="468.5" cy="107.7" r="0.98" fill="#757575"/>
<circle cx="476.1" cy="108.3" r="0.96" fill="#4c4c4c"/>
<circle cx="474.1" cy="106.8" r="1.00" fill="#4b4b4b"/>
<circle cx="468.9" cy="108.3" r="1.13" fill="#3c3c3c"/>
<circle cx="469.3" cy="103.4" r="0.95" fill="#3c3c3c"/>
<circle cx="472.6" cy="107.2" r="1.30" fill="#4a4a4a"/>
<circle cx="475.9" cy="109.4" r="0.86" fill="#707070"/>
<circle cx="474.4" cy="103.6" r="0.92" fill="#4e4e4e"/>
<circle cx="469.8" cy="104.0" r="1.12" fill="#4c4c4c"/>
<circle cx="472.1" cy="102.2" r="1.03" fill="#3f3f3f"/>
<circle cx="471.3" cy="104.4" r="1.26" fill="#5d5d5d"/>
<circle cx="476.6" cy="104.0" r="1.15" fill="#404040"/>
<circle cx="474.6" cy="105.8" r="1.10" fill="#515151"/>
<circle cx="478.7" cy="101.1" r="1.29" fill="#585858"/>
<circle cx="482.4" cy="99.9" r="1.15" fill="#7d7d7d"/>
<circle cx="481.8" cy="98.1" r="1.23" fill="#5a5a5a"/>
<circle cx="482.9" cy="99.3" r="1.24" fill="#787878"/>
<circle cx="483.4" cy="102.6" r="1.03" fill="#8b8b8b"/>
<circle cx="480.9" cy="100.5" r="0.86" fill="#6f6f6f"/>
<circle cx="480.1" cy="99.8" r="1.28" fill="#808080"/>
<circle cx="480.7" cy="103.7" r="1.00" fill="#606060"/>
<circle cx="491.3" cy="106.0" r="1.13" fill="#676767"/>
<circle cx="489.7" cy="104.3" r="1.14" fill="#6d6d6d"/>
<circle cx="491.3" cy="101.5" r="1.12" fill="#717171"/>
<circle cx="493.8" cy="105.2" r="1.09" fill="#616161"/>
<circle cx="490.8" cy="105.6" r="1.16" fill="#616161"/>
<circle cx="492.3" cy="104.3" r="1.04" fill="#5b5b5b"/>
<circle cx="491.9" cy="105.4" r="1.22" fill="#585858"/>
<circle cx="493.2" cy="101.6" r="1.26" fill="#474747"/>
<circle cx="487.9" cy="119.0" r="1.17" fill="#7f7f7f"/>
<circle cx="484.3" cy="122.8" r="1.04" fill="#464646"/>
<circle cx="487.6" cy="120.6" r="1.09" fill="#636363"/>
<circle cx="488.8" cy="118.2" r="0.93" fill="#5a5a5a"/>
<circle cx="484.3" cy="121.1" r="1.27" fill="#424242"/>
<circle cx="488.6" cy="121.4" r="1.00" fill="#616161"/>
<circle cx="484.8" cy="118.5" r="0.89" fill="#444444"/>
<circle cx="487.0" cy="120.2" r="1.16" fill="#424242"/>
<circle cx="484.8" cy="118.6" r="1.11" fill="#414141"/>
<circle cx="461.5" cy="155.5" r="1.04" fill="#5d5d5d"/>
<circle cx="457.7" cy="156.0" r="1.30" fill="#4a4a4a"/>
<circle cx="462.0" cy="156.9" r="1.10" fill="#454545"/>
<circle cx="457.1" cy="156.4" r="1.04" fill="#474747"/>
<circle cx="461.0" cy="154.6" r="1.03" fill="#404040"/>
<circle cx="459.8" cy="155.4" r="1.03" fill="#555555"/>
<circle cx="460.2" cy="154.7" r="1.09" fill="#494949"/>
<circle cx="457.7" cy="158.8" r="0.89" fill="#656565"/>
<circle cx="450.7" cy="146.3" r="1.22" fill="#444444"/>
<circle cx="446.2" cy="144.5" r="1.05" fill="#424242"/>
<circle cx="450.2" cy="147.4" r="0.85" fill="#636363"/>
<circle cx="447.8" cy="143.3" r="0.94" fill="#505050"/>
<circle cx="445.2" cy="146.4" r="0.94" fill="#575757"/>
<circle cx="448.5" cy="142.9" r="1.17" fill="#646464"/>
<circle cx="450.3" cy="145.1" r="1.24" fill="#3d3d3d"/>
<circle cx="411.3" cy="108.5" r="1.14" fill="#5c5c5c"/>
<circle cx="414.1" cy="106.6" r="1.16" fill="#4e4e4e"/>
<circle cx="414.2" cy="105.2" r="1.02" fill="#505050"/>
<circle cx="411.2" cy="105.8" r="1.26" fill="#585858"/>
<circle cx="411.5" cy="103.7" r="1.24" fill="#5e5e5e"/>
<circle cx="412.9" cy="109.6" r="1.10" fill="#7a7a7a"/>
<circle cx="412.9" cy="106.7" r="0.91" fill="#3c3c3c"/>
<circle cx="412.4" cy="108.1" r="1.26" fill="#545454"/>
<circle cx="411.4" cy="107.5" r="1.16" fill="#6b6b6b"/>
<circle cx="421.9" cy="112.6" r="1.27" fill="#4c4c4c"/>
<circle cx="419.4" cy="115.6" r="1.01" fill="#515151"/>
<circle cx="418.8" cy="116.1" r="0.94" fill="#737373"/>
<circle cx="423.0" cy="114.7" r="1.29" fill="#737373"/>
<circle cx="418.4" cy="116.5" r="0.95" fill="#747474"/>
<circle cx="421.8" cy="113.3" r="1.07" fill="#7c7c7c"/>
<circle cx="421.6" cy="115.8" r="0.93" fill="#4d4d4d"/>
<circle cx="378.4" cy="113.6" r="1.01" fill="#858585"/>
<circle cx="374.2" cy="114.5" r="0.96" fill="#808080"/>
<circle cx="378.2" cy="112.5" r="0.96" fill="#6f6f6f"/>
<circle cx="378.6" cy="114.3" r="1.15" fill="#727272"/>
<circle cx="376.0" cy="113.9" r="0.95" fill="#646464"/>
<circle cx="376.5" cy="113.0" r="0.91" fill="#7e7e7e"/>
<circle cx="378.5" cy="116.1" r="1.03" fill="#595959"/>
<circle cx="374.9" cy="114.7" r="1.25" fill="#616161"/>
<circle cx="454.0" cy="177.4" r="1.01" fill="#606060"/>
<circle cx="450.1" cy="179.3" r="0.92" fill="#6d6d6d"/>
<circle cx="448.4" cy="179.7" r="0.96" fill="#4f4f4f"/>
<circle cx="451.8" cy="181.7" r="1.20" fill="#696969"/>
<circle cx="448.1" cy="178.4" r="1.30" fill="#505050"/>
<circle cx="447.8" cy="178.9" r="1.19" fill="#595959"/>
<circle cx="450.5" cy="180.5" r="0.86" fill="#7a7a7a"/>
<circle cx="450.8" cy="181.8" r="1.10" fill="#3f3f3f"/>
<circle cx="453.7" cy="178.0" r="1.30" fill="#575757"/>
<circle cx="426.4" cy="185.3" r="1.12" fill="#949494"/>
<circle cx="427.8" cy="186.1" r="1.08" fill="#6b6b6b"/>
<circle cx="425.6" cy="185.5" r="1.12" fill="#848484"/>
<circle cx="428.9" cy="186.2" r="0.92" fill="#9c9c9c"/>
<circle cx="427.9" cy="187.0" r="1.11" fill="#999999"/>
<circle cx="428.8" cy="185.7" r="1.04" fill="#9b9b9b"/>
<circle cx="426.9" cy="184.7" r="0.92" fill="#7c7c7c"/>
<circle cx="425.4" cy="182.4" r="1.04" fill="#979797"/>
<circle cx="463.1" cy="185.1" r="1.21" fill="#8a8a8a"/>
<circle cx="466.5" cy="185.9" r="1.15" fill="#919191"/>
<circle cx="468.1" cy="186.7" r="1.22" fill="#838383"/>
<circle cx="465.2" cy="188.9" r="1.11" fill="#848484"/>
<circle cx="463.2" cy="188.8" r="0.89" fill="#7d7d7d"/>
<circle cx="467.6" cy="186.4" r="0.93" fill="#6a6a6a"/>
<circle cx="465.4" cy="190.0" r="1.08" fill="#878787"/>
<circle cx="462.0" cy="188.0" r="1.18" fill="#9f9f9f"/>
<circle cx="474.0" cy="165.0" r="1.23" fill="#464646"/>
<circle cx="474.9" cy="164.1" r="1.29" fill="#545454"/>
<circle cx="474.7" cy="160.9" r="1.17" fill="#6a6a6a"/>
<circle cx="475.1" cy="164.5" r="1.01" fill="#676767"/>
<circle cx="472.7" cy="160.1" r="1.12" fill="#6a6a6a"/>
<circle cx="473.4" cy="161.5" r="1.06" fill="#494949"/>
<circle cx="472.9" cy="162.2" r="1.12" fill="#4d4d4d"/>
<circle cx="474.4" cy="164.6" r="1.24" fill="#3c3c3c"/>
<circle cx="476.6" cy="159.5" r="1.20" fill="#3d3d3d"/>
<circle cx="475.7" cy="165.6" r="1.21" fill="#3c3c3c"/>
<circle cx="389.6" cy="101.0" r="1.15" fill="#545454"/>
<circle cx="384.2" cy="99.5" r="1.04" fill="#636363"/>
<circle cx="388.5" cy="95.6" r="4.23" fill="#191919"/>
<circle cx="389.0" cy="97.5" r="2.19" fill="#323232"/>
<circle cx="390.1" cy="94.7" r="1.61" fill="#1b1b1b"/>
<circle cx="389.8" cy="96.5" r="2.18" fill="#272727"/>
<circle cx="390.1" cy="97.9" r="2.07" fill="#212121"/>
<circle cx="390.8" cy="96.4" r="1.70" fill="#2f2f2f"/>
<circle cx="386.3" cy="93.6" r="2.26" fill="#343434"/>
<circle cx="388.5" cy="97.4" r="1.96" fill="#303030"/>
<circle cx="386.7" cy="95.8" r="1.69" fill="#252525"/>
<circle cx="388.9" cy="98.2" r="2.17" fill="#141414"/>
<circle cx="389.5" cy="97.3" r="1.80" fill="#191919"/>
<circle cx="388.2" cy="97.7" r="1.58" fill="#2f2f2f"/>
<circle cx="389.4" cy="95.1" r="0.88" fill="#5d5d5d"/>
<circle cx="385.5" cy="93.0" r="2.76" fill="#232323"/>
<circle cx="384.4" cy="93.9" r="1.41" fill="#2b2b2b"/>
<circle cx="384.1" cy="93.0" r="1.15" fill="#2f2f2f"/>
<circle cx="386.7" cy="92.7" r="1.32" fill="#1d1d1d"/>
<circle cx="387.1" cy="94.0" r="1.25" fill="#232323"/>
<circle cx="386.4" cy="91.3" r="1.45" fill="#272727"/>
<circle cx="384.5" cy="93.6" r="1.47" fill="#202020"/>
<circle cx="385.6" cy="92.0" r="1.17" fill="#262626"/>
<circle cx="384.3" cy="93.9" r="1.17" fill="#1e1e1e"/>
<circle cx="385.0" cy="94.3" r="1.14" fill="#3e3e3e"/>
<circle cx="392.9" cy="101.7" r="1.22" fill="#6b6b6b"/>
<circle cx="391.5" cy="98.0" r="2.76" fill="#232323"/>
<circle cx="392.4" cy="96.9" r="1.22" fill="#393939"/>
<circle cx="390.7" cy="96.3" r="0.93" fill="#3f3f3f"/>
<circle cx="390.8" cy="97.3" r="1.13" fill="#2b2b2b"/>
<circle cx="391.5" cy="96.8" r="1.34" fill="#383838"/>
<circle cx="390.2" cy="97.0" r="1.20" fill="#404040"/>
<circle cx="392.3" cy="99.6" r="1.29" fill="#383838"/>
<circle cx="390.7" cy="98.6" r="1.17" fill="#3d3d3d"/>
<circle cx="392.3" cy="99.8" r="1.49" fill="#313131"/>
<circle cx="392.8" cy="98.1" r="1.09" fill="#262626"/>
<circle cx="423.1" cy="93.8" r="0.89" fill="#616161"/>
<circle cx="421.8" cy="91.5" r="1.66" fill="#141414"/>
<circle cx="421.8" cy="92.6" r="0.86" fill="#1f1f1f"/>
<circle cx="421.1" cy="92.2" r="0.66" fill="#2a2a2a"/>
<circle cx="421.2" cy="90.8" r="0.84" fill="#161616"/>
<circle cx="420.9" cy="91.0" r="0.62" fill="#2e2e2e"/>
<circle cx="421.7" cy="92.1" r="0.70" fill="#151515"/>
<circle cx="420.9" cy="91.0" r="0.61" fill="#0a0a0a"/>
<circle cx="422.5" cy="92.2" r="0.63" fill="#272727"/>
<circle cx="396.6" cy="125.9" r="1.04" fill="#646464"/>
<circle cx="398.2" cy="128.9" r="2.76" fill="#1e1e1e"/>
<circle cx="397.9" cy="130.9" r="1.42" fill="#2e2e2e"/>
<circle cx="396.6" cy="129.9" r="1.02" fill="#1f1f1f"/>
<circle cx="399.2" cy="128.8" r="1.14" fill="#151515"/>
<circle cx="399.1" cy="128.0" r="0.92" fill="#3b3b3b"/>
<circle cx="397.9" cy="130.0" r="1.49" fill="#363636"/>
<circle cx="397.1" cy="130.7" r="1.11" fill="#3b3b3b"/>
<circle cx="398.2" cy="131.0" r="1.25" fill="#2f2f2f"/>
<circle cx="396.9" cy="128.8" r="1.16" fill="#383838"/>
<circle cx="397.1" cy="129.5" r="0.91" fill="#363636"/>
<circle cx="388.2" cy="135.6" r="1.10" fill="#5d5d5d"/>
<circle cx="385.8" cy="134.4" r="2.30" fill="#282828"/>
<circle cx="384.6" cy="134.6" r="0.98" fill="#414141"/>
<circle cx="386.4" cy="133.5" r="1.10" fill="#262626"/>
<circle cx="384.8" cy="135.6" r="1.07" fill="#363636"/>
<circle cx="385.3" cy="133.8" r="0.89" fill="#242424"/>
<circle cx="384.1" cy="134.4" r="0.84" fill="#232323"/>
<circle cx="386.5" cy="135.6" r="1.24" fill="#1e1e1e"/>
<circle cx="384.4" cy="134.1" r="0.77" fill="#202020"/>
<circle cx="385.7" cy="135.9" r="1.23" fill="#262626"/>
<circle cx="405.3" cy="144.8" r="1.22" fill="#3a3a3a"/>
<circle cx="396.8" cy="147.2" r="1.26" fill="#4e4e4e"/>
<circle cx="400.5" cy="146.9" r="3.50" fill="#191919"/>
<circle cx="399.2" cy="147.0" r="1.43" fill="#101010"/>
<circle cx="400.1" cy="145.4" r="1.66" fill="#2b2b2b"/>
<circle cx="401.8" cy="147.1" r="1.70" fill="#222222"/>
<circle cx="401.1" cy="145.2" r="1.82" fill="#181818"/>
<circle cx="402.5" cy="147.6" r="1.51" fill="#2e2e2e"/>
<circle cx="400.4" cy="144.4" r="1.61" fill="#191919"/>
<circle cx="400.6" cy="148.2" r="1.66" fill="#181818"/>
<circle cx="397.9" cy="146.4" r="1.60" fill="#2e2e2e"/>
<circle cx="401.4" cy="147.7" r="1.54" fill="#262626"/>
<circle cx="399.8" cy="145.5" r="1.80" fill="#242424"/>
<circle cx="444.4" cy="122.5" r="1.08" fill="#333333"/>
<circle cx="450.4" cy="125.7" r="1.10" fill="#5a5a5a"/>
<circle cx="445.3" cy="127.5" r="3.68" fill="#141414"/>
<circle cx="444.0" cy="125.7" r="1.40" fill="#0f0f0f"/>
<circle cx="447.1" cy="125.8" r="1.23" fill="#272727"/>
<circle cx="444.1" cy="126.4" r="1.90" fill="#151515"/>
<circle cx="444.9" cy="126.1" r="1.33" fill="#0e0e0e"/>
<circle cx="443.0" cy="128.1" r="1.30" fill="#272727"/>
<circle cx="447.4" cy="127.6" r="1.88" fill="#121212"/>
<circle cx="444.7" cy="125.5" r="1.32" fill="#161616"/>
<circle cx="444.5" cy="129.1" r="1.27" fill="#2a2a2a"/>
<circle cx="447.7" cy="127.3" r="1.75" fill="#0f0f0f"/>
<circle cx="446.7" cy="128.5" r="1.93" fill="#2f2f2f"/>
<circle cx="444.7" cy="129.2" r="1.90" fill="#2c2c2c"/>
<circle cx="470.7" cy="119.7" r="1.20" fill="#5e5e5e"/>
<circle cx="467.3" cy="120.6" r="1.21" fill="#696969"/>
<circle cx="470.3" cy="124.7" r="4.14" fill="#191919"/>
<circle cx="472.3" cy="126.0" r="2.08" fill="#1e1e1e"/>
<circle cx="470.7" cy="126.1" r="1.58" fill="#161616"/>
<circle cx="470.0" cy="121.9" r="1.88" fill="#141414"/>
<circle cx="468.7" cy="126.5" r="1.88" fill="#323232"/>
<circle cx="471.4" cy="122.0" r="1.47" fill="#1c1c1c"/>
<circle cx="471.1" cy="127.2" r="1.36" fill="#2f2f2f"/>
<circle cx="468.1" cy="126.0" r="1.41" fill="#2f2f2f"/>
<circle cx="470.8" cy="122.9" r="1.72" fill="#303030"/>
<circle cx="469.9" cy="122.8" r="1.66" fill="#313131"/>
<circle cx="468.4" cy="125.8" r="1.42" fill="#1c1c1c"/>
<circle cx="469.4" cy="123.6" r="1.93" fill="#343434"/>
<circle cx="429.3" cy="160.3" r="0.84" fill="#565656"/>
<circle cx="430.3" cy="158.8" r="1.20" fill="#9e9e9e"/>
<circle cx="427.3" cy="156.6" r="3.50" fill="#323232"/>
<circle cx="428.6" cy="156.9" r="1.52" fill="#3e3e3e"/>
<circle cx="425.2" cy="157.9" r="1.53" fill="#373737"/>
<circle cx="425.5" cy="156.2" r="1.60" fill="#4f4f4f"/>
<circle cx="429.1" cy="157.4" r="1.32" fill="#383838"/>
<circle cx="428.8" cy="156.8" r="1.58" fill="#4e4e4e"/>
<circle cx="425.3" cy="155.9" r="1.70" fill="#343434"/>
<circle cx="426.5" cy="155.5" r="1.27" fill="#474747"/>
<circle cx="427.8" cy="158.0" r="1.63" fill="#474747"/>
<circle cx="429.4" cy="157.0" r="1.27" fill="#2c2c2c"/>
<circle cx="428.2" cy="157.4" r="1.36" fill="#353535"/>
<circle cx="482.3" cy="163.9" r="1.06" fill="#424242"/>
<circle cx="482.7" cy="160.7" r="2.02" fill="#0f0f0f"/>
<circle cx="482.4" cy="160.1" r="0.76" fill="#202020"/>
<circle cx="481.6" cy="161.2" r="0.71" fill="#080808"/>
<circle cx="483.7" cy="161.1" r="0.86" fill="#0e0e0e"/>
<circle cx="483.6" cy="161.5" r="0.87" fill="#212121"/>
<circle cx="483.4" cy="159.9" r="0.75" fill="#212121"/>
<circle cx="482.9" cy="159.2" r="1.09" fill="#131313"/>
<circle cx="483.5" cy="160.7" r="0.84" fill="#1c1c1c"/>
<circle cx="481.4" cy="161.2" r="0.67" fill="#080808"/>
<circle cx="471.4" cy="102.8" r="0.96" fill="#858585"/>
<circle cx="473.0" cy="106.7" r="2.76" fill="#4b4b4b"/>
<circle cx="473.8" cy="108.5" r="1.18" fill="#5f5f5f"/>
<circle cx="471.6" cy="105.8" r="1.00" fill="#646464"/>
<circle cx="472.4" cy="104.7" r="1.31" fill="#414141"/>
<circle cx="472.0" cy="105.2" r="1.42" fill="#636363"/>
<circle cx="473.0" cy="107.7" r="1.44" fill="#606060"/>
<circle cx="472.6" cy="108.0" r="1.45" fill="#444444"/>
<circle cx="473.8" cy="105.9" r="1.38" fill="#424242"/>
<circle cx="472.2" cy="107.4" r="1.23" fill="#4d4d4d"/>
<circle cx="471.4" cy="106.2" r="1.34" fill="#686868"/>
</g></g>
<rect x="365.7" y="80.8" width="141.60000000000002" height="114.7" fill="none" stroke="#111" stroke-width="1.6"/>
<clipPath id="cBL"><rect x="216.8" y="200.9" width="141.39999999999998" height="114.6"/></clipPath>
<filter id="fBL" x="-5%" y="-5%" width="110%" height="110%"><feGaussianBlur stdDeviation="0.4"/></filter>
<filter id="gBL" x="-5%" y="-5%" width="110%" height="110%"><feGaussianBlur stdDeviation="1.3"/></filter>
<g clip-path="url(#cBL)"><g filter="url(#gBL)">
<circle cx="282.5" cy="273.4" r="7.20" fill="#b9b9b9"/>
<circle cx="304.6" cy="233.2" r="6.00" fill="#e1e1e1"/>
<circle cx="289.0" cy="258.0" r="6.00" fill="#d7d7d7"/>
<circle cx="270.0" cy="309.7" r="5.00" fill="#d7d7d7"/>
<circle cx="232.6" cy="211.0" r="3.00" fill="#e1e1e1"/>
<circle cx="247.9" cy="225.0" r="3.38" fill="#e1e1e1"/>
<circle cx="277.0" cy="254.0" r="3.00" fill="#e1e1e1"/>
<circle cx="299.0" cy="252.6" r="3.75" fill="#e1e1e1"/>
<circle cx="289.4" cy="259.6" r="2.62" fill="#ebebeb"/>
<circle cx="260.3" cy="291.4" r="4.88" fill="#e1e1e1"/>
<circle cx="324.0" cy="263.7" r="3.38" fill="#e1e1e1"/>
<circle cx="318.5" cy="280.3" r="3.00" fill="#e1e1e1"/>
<circle cx="329.6" cy="247.0" r="2.62" fill="#e1e1e1"/>
<circle cx="349.0" cy="252.6" r="3.00" fill="#e1e1e1"/>
<circle cx="224.3" cy="269.3" r="3.00" fill="#e1e1e1"/>
<circle cx="224.3" cy="288.6" r="2.62" fill="#e1e1e1"/>
<circle cx="243.7" cy="283.0" r="3.00" fill="#e1e1e1"/>
<circle cx="252.0" cy="266.5" r="2.25" fill="#ebebeb"/>
<circle cx="326.8" cy="219.4" r="2.62" fill="#e1e1e1"/>
<circle cx="337.9" cy="216.6" r="2.62" fill="#e1e1e1"/>
<circle cx="293.6" cy="205.5" r="2.62" fill="#e1e1e1"/>
<circle cx="243.7" cy="305.3" r="3.00" fill="#e1e1e1"/>
<circle cx="271.4" cy="308.0" r="3.00" fill="#ebebeb"/>
<circle cx="332.3" cy="291.4" r="3.00" fill="#e1e1e1"/>
<circle cx="349.0" cy="277.6" r="2.62" fill="#e1e1e1"/>
<circle cx="236.0" cy="205.7" r="2.62" fill="#e1e1e1"/>
<circle cx="314.4" cy="284.2" r="2.25" fill="#e1e1e1"/>
<circle cx="334.4" cy="290.6" r="2.25" fill="#d7d7d7"/>
<circle cx="323.0" cy="265.0" r="3.00" fill="#d7d7d7"/>
</g><g filter="url(#fBL)">
<circle cx="251.0" cy="263.2" r="1.02" fill="#a4a4a4"/>
<circle cx="305.0" cy="209.3" r="0.86" fill="#b9b9b9"/>
<circle cx="254.0" cy="228.3" r="1.30" fill="#989898"/>
<circle cx="334.4" cy="255.5" r="1.14" fill="#7b7b7b"/>
<circle cx="306.3" cy="299.6" r="1.09" fill="#b0b0b0"/>
<circle cx="311.4" cy="209.1" r="1.19" fill="#a3a3a3"/>
<circle cx="259.8" cy="205.4" r="1.24" fill="#989898"/>
<circle cx="318.0" cy="300.9" r="1.17" fill="#c0c0c0"/>
<circle cx="272.9" cy="292.1" r="1.05" fill="#c2c2c2"/>
<circle cx="340.3" cy="212.9" r="0.91" fill="#818181"/>
<circle cx="352.4" cy="251.0" r="1.13" fill="#898989"/>
<circle cx="288.5" cy="245.3" r="1.01" fill="#a2a2a2"/>
<circle cx="299.2" cy="303.7" r="1.16" fill="#c1c1c1"/>
<circle cx="337.2" cy="313.5" r="1.15" fill="#7c7c7c"/>
<circle cx="337.8" cy="310.5" r="1.26" fill="#a1a1a1"/>
<circle cx="317.3" cy="225.7" r="1.22" fill="#a1a1a1"/>
<circle cx="257.5" cy="209.0" r="1.23" fill="#c7c7c7"/>
<circle cx="230.1" cy="292.0" r="1.03" fill="#7b7b7b"/>
<circle cx="258.8" cy="288.5" r="1.24" fill="#717171"/>
<circle cx="303.5" cy="207.0" r="1.17" fill="#8b8b8b"/>
<circle cx="340.6" cy="312.3" r="1.08" fill="#c7c7c7"/>
<circle cx="261.0" cy="210.6" r="1.12" fill="#707070"/>
<circle cx="245.3" cy="247.8" r="1.12" fill="#7c7c7c"/>
<circle cx="223.7" cy="299.6" r="0.99" fill="#c4c4c4"/>
<circle cx="342.8" cy="244.4" r="1.06" fill="#9c9c9c"/>
<circle cx="307.6" cy="269.0" r="1.10" fill="#a5a5a5"/>
<circle cx="348.9" cy="259.0" r="1.04" fill="#aeaeae"/>
<circle cx="250.9" cy="235.8" r="1.29" fill="#9c9c9c"/>
<circle cx="294.3" cy="203.2" r="1.04" fill="#a2a2a2"/>
<circle cx="220.6" cy="271.2" r="1.13" fill="#737373"/>
<circle cx="305.3" cy="254.4" r="1.16" fill="#8d8d8d"/>
<circle cx="316.3" cy="285.0" r="0.86" fill="#737373"/>
<circle cx="312.0" cy="310.4" r="0.96" fill="#979797"/>
<circle cx="300.4" cy="237.9" r="1.01" fill="#8a8a8a"/>
<circle cx="269.3" cy="269.0" r="0.99" fill="#8f8f8f"/>
<circle cx="325.5" cy="204.9" r="1.11" fill="#b0b0b0"/>
<circle cx="261.0" cy="227.0" r="1.21" fill="#838383"/>
<circle cx="243.9" cy="250.9" r="1.16" fill="#777777"/>
<circle cx="262.7" cy="239.5" r="1.23" fill="#959595"/>
<circle cx="337.1" cy="221.0" r="1.00" fill="#a8a8a8"/>
<circle cx="341.2" cy="252.7" r="0.95" fill="#787878"/>
<circle cx="291.6" cy="223.4" r="1.21" fill="#b9b9b9"/>
<circle cx="243.4" cy="233.3" r="1.21" fill="#a7a7a7"/>
<circle cx="330.2" cy="240.8" r="0.91" fill="#888888"/>
<circle cx="328.5" cy="232.4" r="1.01" fill="#939393"/>
<circle cx="276.3" cy="248.0" r="1.26" fill="#7c7c7c"/>
<circle cx="218.4" cy="308.1" r="1.25" fill="#c6c6c6"/>
<circle cx="278.3" cy="308.9" r="1.27" fill="#818181"/>
<circle cx="321.7" cy="296.1" r="1.15" fill="#9c9c9c"/>
<circle cx="258.1" cy="240.3" r="0.95" fill="#747474"/>
<circle cx="299.9" cy="234.2" r="1.21" fill="#727272"/>
<circle cx="343.8" cy="280.0" r="1.27" fill="#bebebe"/>
<circle cx="343.2" cy="266.9" r="0.86" fill="#b1b1b1"/>
<circle cx="241.8" cy="235.7" r="1.15" fill="#9d9d9d"/>
<circle cx="275.5" cy="307.6" r="1.13" fill="#8c8c8c"/>
<circle cx="253.0" cy="298.9" r="1.06" fill="#b4b4b4"/>
<circle cx="266.8" cy="224.1" r="1.09" fill="#b7b7b7"/>
<circle cx="241.7" cy="291.0" r="1.26" fill="#b6b6b6"/>
<circle cx="332.6" cy="202.7" r="1.13" fill="#bbbbbb"/>
<circle cx="224.8" cy="232.5" r="0.97" fill="#9d9d9d"/>
<circle cx="276.8" cy="255.1" r="1.20" fill="#6e6e6e"/>
<circle cx="225.4" cy="216.2" r="0.91" fill="#747474"/>
<circle cx="353.7" cy="298.1" r="0.89" fill="#9b9b9b"/>
<circle cx="261.8" cy="237.3" r="1.01" fill="#a8a8a8"/>
<circle cx="299.6" cy="242.5" r="0.94" fill="#8b8b8b"/>
<circle cx="235.1" cy="264.5" r="1.17" fill="#909090"/>
<circle cx="228.9" cy="222.0" r="1.02" fill="#a4a4a4"/>
<circle cx="326.9" cy="244.7" r="1.21" fill="#a6a6a6"/>
<circle cx="278.0" cy="243.8" r="1.07" fill="#adadad"/>
<circle cx="276.4" cy="280.1" r="1.06" fill="#848484"/>
<circle cx="292.5" cy="280.2" r="0.88" fill="#949494"/>
<circle cx="277.2" cy="301.0" r="1.27" fill="#8f8f8f"/>
<circle cx="343.0" cy="291.0" r="0.97" fill="#979797"/>
<circle cx="235.0" cy="293.5" r="1.15" fill="#bdbdbd"/>
<circle cx="328.3" cy="277.1" r="1.18" fill="#a0a0a0"/>
<circle cx="232.2" cy="268.1" r="0.85" fill="#7a7a7a"/>
<circle cx="325.7" cy="206.9" r="0.89" fill="#767676"/>
<circle cx="340.5" cy="222.1" r="0.86" fill="#b9b9b9"/>
<circle cx="234.7" cy="296.9" r="1.15" fill="#b9b9b9"/>
<circle cx="350.6" cy="267.1" r="1.21" fill="#717171"/>
<circle cx="324.8" cy="259.5" r="1.17" fill="#777777"/>
<circle cx="322.2" cy="307.1" r="0.88" fill="#8b8b8b"/>
<circle cx="296.4" cy="295.1" r="0.96" fill="#7e7e7e"/>
<circle cx="252.6" cy="271.3" r="1.19" fill="#919191"/>
<circle cx="269.0" cy="246.6" r="1.01" fill="#939393"/>
<circle cx="229.4" cy="258.2" r="1.29" fill="#939393"/>
<circle cx="322.0" cy="220.0" r="1.16" fill="#b2b2b2"/>
<circle cx="311.7" cy="260.1" r="1.07" fill="#a7a7a7"/>
<circle cx="342.9" cy="218.7" r="0.89" fill="#b1b1b1"/>
<circle cx="345.6" cy="260.1" r="1.05" fill="#aeaeae"/>
<circle cx="245.9" cy="231.9" r="1.09" fill="#a2a2a2"/>
<circle cx="246.0" cy="232.1" r="1.11" fill="#b2b2b2"/>
<circle cx="246.4" cy="234.2" r="1.21" fill="#747474"/>
<circle cx="244.8" cy="233.6" r="1.24" fill="#858585"/>
<circle cx="315.3" cy="281.7" r="1.07" fill="#9d9d9d"/>
<circle cx="313.8" cy="283.5" r="1.28" fill="#898989"/>
<circle cx="314.6" cy="280.0" r="1.15" fill="#b0b0b0"/>
<circle cx="314.9" cy="283.3" r="0.97" fill="#727272"/>
<circle cx="313.3" cy="296.7" r="1.21" fill="#6d6d6d"/>
<circle cx="314.5" cy="297.0" r="1.05" fill="#9e9e9e"/>
<circle cx="315.4" cy="297.5" r="1.02" fill="#6a6a6a"/>
<circle cx="316.4" cy="297.4" r="0.91" fill="#7d7d7d"/>
<circle cx="318.5" cy="299.5" r="1.05" fill="#8e8e8e"/>
<circle cx="252.6" cy="260.9" r="1.15" fill="#afafaf"/>
<circle cx="253.7" cy="264.2" r="1.00" fill="#919191"/>
<circle cx="252.7" cy="260.6" r="0.88" fill="#7b7b7b"/>
<circle cx="252.4" cy="261.3" r="1.18" fill="#6f6f6f"/>
<circle cx="254.5" cy="260.1" r="0.90" fill="#909090"/>
<circle cx="345.4" cy="273.8" r="1.20" fill="#9c9c9c"/>
<circle cx="345.1" cy="272.7" r="1.11" fill="#838383"/>
<circle cx="344.6" cy="272.0" r="0.91" fill="#8a8a8a"/>
<circle cx="344.6" cy="271.9" r="1.24" fill="#afafaf"/>
<circle cx="345.3" cy="273.6" r="1.07" fill="#b3b3b3"/>
<circle cx="343.7" cy="271.4" r="1.10" fill="#acacac"/>
<circle cx="344.4" cy="270.8" r="1.15" fill="#838383"/>
<circle cx="353.7" cy="217.7" r="1.11" fill="#747474"/>
<circle cx="352.5" cy="216.2" r="1.21" fill="#ababab"/>
<circle cx="355.7" cy="219.1" r="1.11" fill="#969696"/>
<circle cx="356.4" cy="217.8" r="1.24" fill="#8a8a8a"/>
<circle cx="354.5" cy="217.3" r="1.20" fill="#989898"/>
<circle cx="353.0" cy="217.0" r="0.94" fill="#8e8e8e"/>
<circle cx="350.1" cy="215.8" r="1.05" fill="#919191"/>
<circle cx="350.5" cy="298.9" r="1.13" fill="#8c8c8c"/>
<circle cx="351.3" cy="301.6" r="1.00" fill="#7f7f7f"/>
<circle cx="352.0" cy="303.5" r="1.20" fill="#666666"/>
<circle cx="353.1" cy="298.8" r="0.94" fill="#696969"/>
<circle cx="246.5" cy="277.8" r="0.94" fill="#707070"/>
<circle cx="246.0" cy="279.3" r="1.04" fill="#979797"/>
<circle cx="244.9" cy="279.3" r="1.03" fill="#727272"/>
<circle cx="246.3" cy="282.0" r="1.02" fill="#8e8e8e"/>
<circle cx="300.9" cy="227.9" r="1.09" fill="#707070"/>
<circle cx="302.4" cy="225.4" r="1.14" fill="#6f6f6f"/>
<circle cx="299.7" cy="228.2" r="1.23" fill="#848484"/>
<circle cx="258.6" cy="204.6" r="1.25" fill="#777777"/>
<circle cx="262.2" cy="206.7" r="0.90" fill="#adadad"/>
<circle cx="263.1" cy="206.3" r="1.29" fill="#afafaf"/>
<circle cx="326.6" cy="307.2" r="1.01" fill="#6b6b6b"/>
<circle cx="329.1" cy="309.9" r="0.85" fill="#666666"/>
<circle cx="325.5" cy="307.6" r="0.87" fill="#989898"/>
<circle cx="329.7" cy="313.1" r="1.06" fill="#a4a4a4"/>
<circle cx="329.3" cy="311.1" r="0.99" fill="#949494"/>
<circle cx="329.8" cy="311.6" r="1.23" fill="#6d6d6d"/>
<circle cx="273.5" cy="239.1" r="1.10" fill="#adadad"/>
<circle cx="271.1" cy="239.7" r="1.20" fill="#8a8a8a"/>
<circle cx="271.7" cy="240.2" r="1.12" fill="#9c9c9c"/>
<circle cx="271.3" cy="239.5" r="1.17" fill="#656565"/>
<circle cx="272.3" cy="238.5" r="0.89" fill="#767676"/>
<circle cx="273.2" cy="239.7" r="1.24" fill="#878787"/>
<circle cx="345.7" cy="285.2" r="1.26" fill="#7f7f7f"/>
<circle cx="341.8" cy="284.4" r="0.94" fill="#9b9b9b"/>
<circle cx="339.4" cy="283.8" r="1.29" fill="#6c6c6c"/>
<circle cx="343.8" cy="285.4" r="1.08" fill="#8c8c8c"/>
<circle cx="338.7" cy="285.5" r="1.20" fill="#898989"/>
<circle cx="305.2" cy="210.8" r="0.96" fill="#6c6c6c"/>
<circle cx="305.1" cy="205.8" r="0.90" fill="#8a8a8a"/>
<circle cx="303.7" cy="207.7" r="1.15" fill="#a2a2a2"/>
<circle cx="259.6" cy="306.2" r="1.18" fill="#6a6a6a"/>
<circle cx="259.4" cy="306.9" r="1.10" fill="#9e9e9e"/>
<circle cx="258.7" cy="306.3" r="0.95" fill="#808080"/>
<circle cx="255.8" cy="309.9" r="0.89" fill="#757575"/>
<circle cx="261.9" cy="305.7" r="1.24" fill="#b2b2b2"/>
<circle cx="259.2" cy="307.4" r="1.04" fill="#afafaf"/>
<circle cx="338.9" cy="309.1" r="0.87" fill="#b0b0b0"/>
<circle cx="345.9" cy="306.8" r="0.92" fill="#8c8c8c"/>
<circle cx="345.0" cy="307.1" r="0.94" fill="#8b8b8b"/>
<circle cx="345.2" cy="307.1" r="1.20" fill="#6f6f6f"/>
<circle cx="344.0" cy="307.3" r="0.94" fill="#8a8a8a"/>
<circle cx="340.8" cy="309.3" r="1.21" fill="#969696"/>
<circle cx="348.9" cy="255.8" r="0.98" fill="#666666"/>
<circle cx="347.3" cy="251.0" r="1.19" fill="#aeaeae"/>
<circle cx="349.5" cy="250.8" r="0.92" fill="#656565"/>
<circle cx="350.9" cy="253.5" r="1.21" fill="#808080"/>
<circle cx="347.9" cy="254.3" r="1.07" fill="#777777"/>
<circle cx="349.5" cy="248.3" r="1.12" fill="#a4a4a4"/>
<circle cx="281.1" cy="230.6" r="1.13" fill="#9a9a9a"/>
<circle cx="281.5" cy="233.8" r="0.91" fill="#a0a0a0"/>
<circle cx="279.6" cy="233.6" r="1.10" fill="#7a7a7a"/>
<circle cx="281.2" cy="229.9" r="1.25" fill="#acacac"/>
<circle cx="279.6" cy="230.1" r="1.22" fill="#949494"/>
<circle cx="280.0" cy="231.3" r="0.93" fill="#9a9a9a"/>
<circle cx="355.3" cy="263.8" r="0.98" fill="#8e8e8e"/>
<circle cx="354.9" cy="263.9" r="1.07" fill="#767676"/>
<circle cx="354.8" cy="262.9" r="0.99" fill="#939393"/>
<circle cx="358.0" cy="262.8" r="1.19" fill="#797979"/>
<circle cx="355.6" cy="263.2" r="1.07" fill="#a0a0a0"/>
<circle cx="352.9" cy="265.0" r="1.01" fill="#989898"/>
<circle cx="350.7" cy="248.7" r="1.03" fill="#7a7a7a"/>
<circle cx="346.6" cy="247.2" r="0.89" fill="#767676"/>
<circle cx="347.8" cy="245.8" r="1.18" fill="#a7a7a7"/>
<circle cx="302.2" cy="293.1" r="1.29" fill="#888888"/>
<circle cx="306.4" cy="292.9" r="1.07" fill="#717171"/>
<circle cx="307.4" cy="291.8" r="1.06" fill="#838383"/>
<circle cx="222.0" cy="246.2" r="1.24" fill="#676767"/>
<circle cx="217.1" cy="248.1" r="0.90" fill="#838383"/>
<circle cx="217.6" cy="248.8" r="0.92" fill="#6e6e6e"/>
<circle cx="220.9" cy="245.4" r="0.94" fill="#afafaf"/>
<circle cx="356.4" cy="311.1" r="1.23" fill="#898989"/>
<circle cx="355.7" cy="311.3" r="1.05" fill="#848484"/>
<circle cx="355.9" cy="311.8" r="1.06" fill="#828282"/>
<circle cx="357.0" cy="312.9" r="1.19" fill="#7c7c7c"/>
<circle cx="337.6" cy="308.3" r="1.03" fill="#a9a9a9"/>
<circle cx="336.7" cy="307.3" r="1.21" fill="#b3b3b3"/>
<circle cx="336.2" cy="309.6" r="0.89" fill="#8f8f8f"/>
<circle cx="337.2" cy="309.6" r="1.00" fill="#8c8c8c"/>
<circle cx="335.9" cy="309.1" r="1.12" fill="#b2b2b2"/>
<circle cx="349.3" cy="301.1" r="1.08" fill="#9e9e9e"/>
<circle cx="346.4" cy="296.9" r="1.29" fill="#888888"/>
<circle cx="345.7" cy="297.8" r="1.29" fill="#8e8e8e"/>
<circle cx="347.0" cy="297.8" r="1.04" fill="#a7a7a7"/>
<circle cx="350.0" cy="300.2" r="1.02" fill="#b2b2b2"/>
<circle cx="231.4" cy="212.4" r="1.10" fill="#a1a1a1"/>
<circle cx="229.2" cy="212.6" r="1.17" fill="#7d7d7d"/>
<circle cx="231.7" cy="213.7" r="1.03" fill="#7e7e7e"/>
<circle cx="230.4" cy="207.9" r="1.11" fill="#6e6e6e"/>
<circle cx="233.1" cy="213.4" r="1.13" fill="#6d6d6d"/>
<circle cx="234.6" cy="212.1" r="0.98" fill="#666666"/>
<circle cx="228.9" cy="210.1" r="1.09" fill="#979797"/>
<circle cx="234.3" cy="207.8" r="1.26" fill="#828282"/>
<circle cx="232.0" cy="209.7" r="1.25" fill="#7e7e7e"/>
<circle cx="228.9" cy="211.6" r="0.98" fill="#717171"/>
<circle cx="234.0" cy="208.2" r="0.89" fill="#656565"/>
<circle cx="232.4" cy="211.3" r="1.22" fill="#707070"/>
<circle cx="232.2" cy="213.5" r="1.08" fill="#828282"/>
<circle cx="230.4" cy="208.7" r="1.05" fill="#6a6a6a"/>
<circle cx="251.6" cy="224.5" r="0.89" fill="#828282"/>
<circle cx="248.0" cy="220.5" r="0.88" fill="#646464"/>
<circle cx="245.0" cy="225.4" r="1.25" fill="#9d9d9d"/>
<circle cx="246.5" cy="227.5" r="1.11" fill="#a1a1a1"/>
<circle cx="248.7" cy="227.7" r="0.89" fill="#909090"/>
<circle cx="252.2" cy="225.7" r="1.09" fill="#8c8c8c"/>
<circle cx="249.8" cy="226.1" r="1.06" fill="#a0a0a0"/>
<circle cx="245.6" cy="224.4" r="1.29" fill="#929292"/>
<circle cx="245.9" cy="224.6" r="0.98" fill="#a2a2a2"/>
<circle cx="250.1" cy="227.4" r="1.13" fill="#7c7c7c"/>
<circle cx="248.4" cy="220.7" r="1.24" fill="#979797"/>
<circle cx="248.2" cy="226.1" r="1.04" fill="#797979"/>
<circle cx="249.3" cy="228.9" r="0.95" fill="#9d9d9d"/>
<circle cx="249.3" cy="224.4" r="1.26" fill="#7f7f7f"/>
<circle cx="248.4" cy="226.9" r="0.87" fill="#868686"/>
<circle cx="244.8" cy="227.8" r="1.22" fill="#676767"/>
<circle cx="275.0" cy="255.5" r="0.93" fill="#757575"/>
<circle cx="276.7" cy="257.3" r="1.00" fill="#6b6b6b"/>
<circle cx="277.5" cy="256.6" r="1.10" fill="#757575"/>
<circle cx="276.4" cy="252.2" r="1.15" fill="#8e8e8e"/>
<circle cx="278.6" cy="257.1" r="1.03" fill="#898989"/>
<circle cx="274.4" cy="252.2" r="1.05" fill="#676767"/>
<circle cx="277.8" cy="250.4" r="1.07" fill="#8c8c8c"/>
<circle cx="276.6" cy="257.8" r="1.16" fill="#737373"/>
<circle cx="278.6" cy="250.4" r="1.01" fill="#a9a9a9"/>
<circle cx="275.3" cy="254.2" r="1.17" fill="#7b7b7b"/>
<circle cx="276.7" cy="251.0" r="0.90" fill="#888888"/>
<circle cx="278.6" cy="251.8" r="1.09" fill="#a0a0a0"/>
<circle cx="274.3" cy="254.9" r="1.11" fill="#9d9d9d"/>
<circle cx="277.4" cy="255.2" r="1.19" fill="#8a8a8a"/>
<circle cx="297.5" cy="257.1" r="1.25" fill="#898989"/>
<circle cx="303.6" cy="252.3" r="1.19" fill="#787878"/>
<circle cx="303.1" cy="252.9" r="1.18" fill="#7c7c7c"/>
<circle cx="295.3" cy="253.1" r="0.96" fill="#949494"/>
<circle cx="296.1" cy="251.4" r="0.90" fill="#8a8a8a"/>
<circle cx="297.2" cy="256.5" r="0.93" fill="#7f7f7f"/>
<circle cx="300.1" cy="255.6" r="1.11" fill="#6b6b6b"/>
<circle cx="302.3" cy="253.8" r="0.94" fill="#878787"/>
<circle cx="299.8" cy="254.0" r="1.09" fill="#a4a4a4"/>
<circle cx="301.4" cy="250.0" r="1.03" fill="#686868"/>
<circle cx="298.5" cy="255.4" r="1.27" fill="#6c6c6c"/>
<circle cx="302.3" cy="251.5" r="1.05" fill="#767676"/>
<circle cx="301.1" cy="252.1" r="1.11" fill="#878787"/>
<circle cx="299.7" cy="254.8" r="1.29" fill="#9b9b9b"/>
<circle cx="298.5" cy="247.9" r="0.89" fill="#959595"/>
<circle cx="299.0" cy="250.2" r="1.06" fill="#a8a8a8"/>
<circle cx="297.0" cy="256.5" r="0.92" fill="#929292"/>
<circle cx="298.6" cy="256.1" r="1.02" fill="#a0a0a0"/>
<circle cx="289.3" cy="257.1" r="1.16" fill="#8b8b8b"/>
<circle cx="290.0" cy="257.9" r="1.09" fill="#969696"/>
<circle cx="288.8" cy="260.1" r="0.93" fill="#9a9a9a"/>
<circle cx="290.1" cy="262.6" r="1.08" fill="#b0b0b0"/>
<circle cx="291.1" cy="257.2" r="1.02" fill="#717171"/>
<circle cx="286.6" cy="258.5" r="1.26" fill="#7c7c7c"/>
<circle cx="291.3" cy="262.5" r="1.18" fill="#8f8f8f"/>
<circle cx="289.3" cy="258.3" r="1.09" fill="#9c9c9c"/>
<circle cx="288.3" cy="258.7" r="0.91" fill="#999999"/>
<circle cx="290.4" cy="258.7" r="0.85" fill="#737373"/>
<circle cx="261.2" cy="287.4" r="1.06" fill="#a9a9a9"/>
<circle cx="257.7" cy="289.3" r="1.17" fill="#646464"/>
<circle cx="259.2" cy="296.7" r="0.93" fill="#666666"/>
<circle cx="256.6" cy="291.0" r="1.29" fill="#6b6b6b"/>
<circle cx="261.6" cy="287.6" r="1.21" fill="#838383"/>
<circle cx="258.5" cy="288.2" r="0.95" fill="#838383"/>
<circle cx="261.5" cy="287.8" r="0.95" fill="#818181"/>
<circle cx="263.3" cy="293.5" r="1.11" fill="#8a8a8a"/>
<circle cx="257.4" cy="289.4" r="0.86" fill="#656565"/>
<circle cx="258.8" cy="293.8" r="1.11" fill="#767676"/>
<circle cx="260.7" cy="286.4" r="1.15" fill="#979797"/>
<circle cx="256.1" cy="290.8" r="0.99" fill="#686868"/>
<circle cx="261.6" cy="287.0" r="0.89" fill="#a4a4a4"/>
<circle cx="255.8" cy="288.9" r="1.05" fill="#6c6c6c"/>
<circle cx="263.0" cy="291.4" r="1.01" fill="#a9a9a9"/>
<circle cx="263.6" cy="294.6" r="1.07" fill="#757575"/>
<circle cx="264.0" cy="289.5" r="0.86" fill="#858585"/>
<circle cx="265.8" cy="291.6" r="1.24" fill="#a3a3a3"/>
<circle cx="265.4" cy="293.0" r="0.99" fill="#858585"/>
<circle cx="259.2" cy="294.8" r="0.91" fill="#8f8f8f"/>
<circle cx="265.7" cy="294.8" r="0.87" fill="#a7a7a7"/>
<circle cx="261.0" cy="293.2" r="1.19" fill="#898989"/>
<circle cx="260.8" cy="286.8" r="1.13" fill="#696969"/>
<circle cx="258.2" cy="287.3" r="1.28" fill="#646464"/>
<circle cx="265.2" cy="293.6" r="1.27" fill="#818181"/>
<circle cx="259.1" cy="286.7" r="1.03" fill="#848484"/>
<circle cx="259.4" cy="290.7" r="0.99" fill="#979797"/>
<circle cx="260.1" cy="295.9" r="0.97" fill="#7d7d7d"/>
<circle cx="257.0" cy="286.9" r="1.28" fill="#858585"/>
<circle cx="261.4" cy="295.0" r="0.88" fill="#747474"/>
<circle cx="321.0" cy="261.9" r="0.96" fill="#707070"/>
<circle cx="325.6" cy="264.8" r="1.08" fill="#757575"/>
<circle cx="326.5" cy="261.4" r="1.00" fill="#828282"/>
<circle cx="327.7" cy="264.7" r="1.19" fill="#7d7d7d"/>
<circle cx="323.6" cy="261.4" r="0.95" fill="#737373"/>
<circle cx="325.2" cy="267.0" r="1.14" fill="#969696"/>
<circle cx="327.1" cy="266.1" r="1.07" fill="#7e7e7e"/>
<circle cx="321.0" cy="263.6" r="0.94" fill="#7f7f7f"/>
<circle cx="321.7" cy="260.7" r="1.26" fill="#717171"/>
<circle cx="327.1" cy="261.2" r="1.17" fill="#a8a8a8"/>
<circle cx="326.6" cy="266.7" r="1.25" fill="#6c6c6c"/>
<circle cx="320.4" cy="261.2" r="0.98" fill="#9f9f9f"/>
<circle cx="326.5" cy="262.1" r="0.92" fill="#737373"/>
<circle cx="325.4" cy="261.1" r="0.99" fill="#838383"/>
<circle cx="326.0" cy="262.7" r="0.86" fill="#a6a6a6"/>
<circle cx="322.9" cy="266.3" r="1.29" fill="#777777"/>
<circle cx="321.7" cy="282.2" r="0.96" fill="#737373"/>
<circle cx="320.3" cy="279.6" r="1.26" fill="#7b7b7b"/>
<circle cx="317.9" cy="282.1" r="1.09" fill="#8b8b8b"/>
<circle cx="316.2" cy="282.0" r="0.98" fill="#9e9e9e"/>
<circle cx="321.7" cy="278.9" r="1.22" fill="#686868"/>
<circle cx="318.5" cy="282.1" r="0.92" fill="#a7a7a7"/>
<circle cx="321.7" cy="278.2" r="1.10" fill="#6c6c6c"/>
<circle cx="317.6" cy="280.7" r="1.26" fill="#767676"/>
<circle cx="317.6" cy="284.1" r="0.94" fill="#a4a4a4"/>
<circle cx="317.3" cy="283.3" r="0.90" fill="#a2a2a2"/>
<circle cx="316.6" cy="281.7" r="1.14" fill="#8d8d8d"/>
<circle cx="318.5" cy="281.7" r="1.11" fill="#656565"/>
<circle cx="331.0" cy="245.5" r="0.93" fill="#7a7a7a"/>
<circle cx="331.1" cy="248.3" r="1.09" fill="#808080"/>
<circle cx="328.6" cy="248.6" r="1.07" fill="#9a9a9a"/>
<circle cx="326.8" cy="248.2" r="1.07" fill="#6c6c6c"/>
<circle cx="331.1" cy="249.8" r="1.07" fill="#7e7e7e"/>
<circle cx="326.4" cy="246.7" r="1.02" fill="#7d7d7d"/>
<circle cx="329.4" cy="247.3" r="1.10" fill="#858585"/>
<circle cx="327.2" cy="247.1" r="1.06" fill="#969696"/>
<circle cx="331.0" cy="250.2" r="0.90" fill="#a0a0a0"/>
<circle cx="331.0" cy="249.8" r="0.97" fill="#696969"/>
<circle cx="345.5" cy="251.7" r="1.23" fill="#a1a1a1"/>
<circle cx="349.9" cy="252.5" r="1.02" fill="#6b6b6b"/>
<circle cx="349.1" cy="249.9" r="1.18" fill="#9b9b9b"/>
<circle cx="352.3" cy="252.6" r="1.24" fill="#8a8a8a"/>
<circle cx="352.3" cy="254.4" r="0.89" fill="#6a6a6a"/>
<circle cx="350.0" cy="250.7" r="1.15" fill="#666666"/>
<circle cx="349.8" cy="255.9" r="0.87" fill="#878787"/>
<circle cx="350.7" cy="251.9" r="1.17" fill="#989898"/>
<circle cx="346.4" cy="250.2" r="1.16" fill="#646464"/>
<circle cx="350.0" cy="255.3" r="1.29" fill="#737373"/>
<circle cx="347.8" cy="251.9" r="1.23" fill="#838383"/>
<circle cx="345.8" cy="252.1" r="0.91" fill="#979797"/>
<circle cx="225.4" cy="265.8" r="0.98" fill="#747474"/>
<circle cx="226.2" cy="272.6" r="1.05" fill="#7f7f7f"/>
<circle cx="221.0" cy="268.9" r="0.99" fill="#7b7b7b"/>
<circle cx="224.7" cy="265.8" r="0.98" fill="#696969"/>
<circle cx="227.4" cy="267.8" r="1.12" fill="#808080"/>
<circle cx="226.8" cy="268.6" r="0.95" fill="#6b6b6b"/>
<circle cx="222.5" cy="271.8" r="1.01" fill="#a6a6a6"/>
<circle cx="222.7" cy="267.1" r="1.15" fill="#8e8e8e"/>
<circle cx="222.2" cy="267.4" r="1.09" fill="#868686"/>
<circle cx="225.2" cy="267.8" r="1.20" fill="#787878"/>
<circle cx="224.9" cy="268.4" r="1.07" fill="#838383"/>
<circle cx="223.9" cy="267.6" r="0.97" fill="#6d6d6d"/>
<circle cx="221.8" cy="287.6" r="0.85" fill="#707070"/>
<circle cx="225.4" cy="291.9" r="1.05" fill="#8b8b8b"/>
<circle cx="223.6" cy="291.4" r="1.22" fill="#929292"/>
<circle cx="226.6" cy="288.6" r="1.07" fill="#676767"/>
<circle cx="224.8" cy="286.7" r="0.98" fill="#8f8f8f"/>
<circle cx="222.2" cy="287.3" r="1.24" fill="#888888"/>
<circle cx="223.8" cy="289.3" r="1.10" fill="#7d7d7d"/>
<circle cx="222.3" cy="288.1" r="0.85" fill="#666666"/>
<circle cx="224.9" cy="289.5" r="1.23" fill="#8c8c8c"/>
<circle cx="224.5" cy="291.5" r="1.14" fill="#686868"/>
<circle cx="243.7" cy="281.1" r="1.30" fill="#6d6d6d"/>
<circle cx="243.3" cy="284.9" r="1.24" fill="#9d9d9d"/>
<circle cx="242.3" cy="282.3" r="1.04" fill="#959595"/>
<circle cx="247.3" cy="284.4" r="1.23" fill="#a5a5a5"/>
<circle cx="242.7" cy="280.0" r="1.29" fill="#767676"/>
<circle cx="243.2" cy="284.3" r="0.93" fill="#9b9b9b"/>
<circle cx="246.6" cy="284.9" r="1.03" fill="#a1a1a1"/>
<circle cx="243.9" cy="279.7" r="1.23" fill="#666666"/>
<circle cx="243.5" cy="285.4" r="1.04" fill="#929292"/>
<circle cx="246.2" cy="280.6" r="1.27" fill="#949494"/>
<circle cx="241.9" cy="285.2" r="1.19" fill="#9d9d9d"/>
<circle cx="242.1" cy="284.7" r="1.13" fill="#737373"/>
<circle cx="252.0" cy="266.5" r="1.14" fill="#8f8f8f"/>
<circle cx="252.8" cy="268.6" r="1.06" fill="#b1b1b1"/>
<circle cx="253.7" cy="265.0" r="1.24" fill="#ababab"/>
<circle cx="253.4" cy="268.9" r="1.23" fill="#b3b3b3"/>
<circle cx="252.1" cy="264.6" r="0.94" fill="#9b9b9b"/>
<circle cx="252.6" cy="269.0" r="1.11" fill="#a7a7a7"/>
<circle cx="251.0" cy="267.8" r="1.26" fill="#9c9c9c"/>
<circle cx="250.4" cy="268.1" r="1.05" fill="#9b9b9b"/>
<circle cx="324.9" cy="219.2" r="1.29" fill="#a1a1a1"/>
<circle cx="326.9" cy="217.6" r="0.94" fill="#979797"/>
<circle cx="328.0" cy="216.9" r="0.95" fill="#969696"/>
<circle cx="324.7" cy="219.1" r="1.12" fill="#838383"/>
<circle cx="325.0" cy="217.0" r="1.29" fill="#6b6b6b"/>
<circle cx="323.7" cy="217.9" r="1.15" fill="#8c8c8c"/>
<circle cx="327.2" cy="218.9" r="1.21" fill="#8f8f8f"/>
<circle cx="325.1" cy="218.4" r="1.13" fill="#6c6c6c"/>
<circle cx="325.0" cy="219.1" r="1.27" fill="#9c9c9c"/>
<circle cx="323.8" cy="219.9" r="1.02" fill="#888888"/>
<circle cx="339.6" cy="219.4" r="1.19" fill="#999999"/>
<circle cx="340.6" cy="218.2" r="0.86" fill="#8b8b8b"/>
<circle cx="337.1" cy="216.7" r="1.04" fill="#a2a2a2"/>
<circle cx="336.5" cy="215.2" r="1.22" fill="#7c7c7c"/>
<circle cx="339.7" cy="215.3" r="0.88" fill="#a8a8a8"/>
<circle cx="339.5" cy="217.4" r="1.20" fill="#6c6c6c"/>
<circle cx="334.8" cy="215.7" r="1.12" fill="#7c7c7c"/>
<circle cx="338.1" cy="213.4" r="1.11" fill="#8f8f8f"/>
<circle cx="336.9" cy="218.6" r="1.30" fill="#a8a8a8"/>
<circle cx="339.5" cy="216.6" r="0.95" fill="#9b9b9b"/>
<circle cx="294.0" cy="206.9" r="1.19" fill="#6f6f6f"/>
<circle cx="295.9" cy="205.2" r="1.25" fill="#9d9d9d"/>
<circle cx="294.4" cy="208.5" r="1.04" fill="#737373"/>
<circle cx="296.4" cy="206.3" r="1.10" fill="#797979"/>
<circle cx="294.4" cy="204.2" r="1.05" fill="#6a6a6a"/>
<circle cx="291.7" cy="208.2" r="1.08" fill="#6e6e6e"/>
<circle cx="293.8" cy="208.3" r="0.97" fill="#a2a2a2"/>
<circle cx="296.6" cy="206.7" r="1.13" fill="#9d9d9d"/>
<circle cx="293.0" cy="206.2" r="0.93" fill="#8f8f8f"/>
<circle cx="294.7" cy="205.7" r="1.20" fill="#a1a1a1"/>
<circle cx="246.0" cy="302.4" r="1.10" fill="#a1a1a1"/>
<circle cx="242.7" cy="302.5" r="1.04" fill="#656565"/>
<circle cx="245.4" cy="306.4" r="1.06" fill="#6c6c6c"/>
<circle cx="246.7" cy="304.7" r="1.18" fill="#a2a2a2"/>
<circle cx="244.3" cy="309.0" r="1.28" fill="#767676"/>
<circle cx="246.2" cy="307.8" r="1.25" fill="#9b9b9b"/>
<circle cx="241.1" cy="307.0" r="0.90" fill="#747474"/>
<circle cx="240.7" cy="307.0" r="0.89" fill="#a4a4a4"/>
<circle cx="247.6" cy="306.0" r="0.96" fill="#9d9d9d"/>
<circle cx="245.3" cy="301.7" r="1.06" fill="#949494"/>
<circle cx="242.7" cy="308.8" r="0.90" fill="#a1a1a1"/>
<circle cx="242.9" cy="304.8" r="1.27" fill="#7a7a7a"/>
<circle cx="273.3" cy="308.8" r="0.86" fill="#888888"/>
<circle cx="270.4" cy="304.1" r="1.13" fill="#ababab"/>
<circle cx="272.9" cy="305.0" r="1.02" fill="#878787"/>
<circle cx="273.0" cy="310.5" r="0.94" fill="#a4a4a4"/>
<circle cx="270.1" cy="310.8" r="1.10" fill="#9d9d9d"/>
<circle cx="272.5" cy="309.7" r="1.16" fill="#848484"/>
<circle cx="269.5" cy="304.5" r="1.03" fill="#b1b1b1"/>
<circle cx="268.5" cy="305.4" r="1.09" fill="#a5a5a5"/>
<circle cx="270.7" cy="306.4" r="1.08" fill="#9a9a9a"/>
<circle cx="268.2" cy="308.7" r="1.26" fill="#a7a7a7"/>
<circle cx="272.0" cy="306.6" r="1.17" fill="#9d9d9d"/>
<circle cx="271.6" cy="307.9" r="0.93" fill="#b2b2b2"/>
<circle cx="330.0" cy="293.8" r="1.12" fill="#7f7f7f"/>
<circle cx="329.5" cy="292.5" r="1.29" fill="#898989"/>
<circle cx="332.9" cy="289.3" r="1.17" fill="#8e8e8e"/>
<circle cx="332.1" cy="287.7" r="0.89" fill="#a7a7a7"/>
<circle cx="330.7" cy="290.1" r="1.06" fill="#6a6a6a"/>
<circle cx="332.7" cy="295.0" r="1.17" fill="#a0a0a0"/>
<circle cx="333.0" cy="292.5" r="1.02" fill="#868686"/>
<circle cx="331.8" cy="289.3" r="1.18" fill="#8c8c8c"/>
<circle cx="331.4" cy="294.8" r="0.88" fill="#8d8d8d"/>
<circle cx="332.6" cy="292.2" r="1.07" fill="#888888"/>
<circle cx="330.4" cy="289.8" r="1.27" fill="#9a9a9a"/>
<circle cx="332.5" cy="291.6" r="1.28" fill="#808080"/>
<circle cx="350.2" cy="278.5" r="1.17" fill="#707070"/>
<circle cx="347.0" cy="279.7" r="1.01" fill="#919191"/>
<circle cx="352.0" cy="276.6" r="1.13" fill="#8f8f8f"/>
<circle cx="348.0" cy="280.2" r="1.14" fill="#8d8d8d"/>
<circle cx="346.0" cy="277.8" r="0.94" fill="#959595"/>
<circle cx="349.7" cy="277.5" r="0.96" fill="#a9a9a9"/>
<circle cx="351.7" cy="279.2" r="1.11" fill="#686868"/>
<circle cx="348.8" cy="277.4" r="1.23" fill="#797979"/>
<circle cx="351.9" cy="276.1" r="0.91" fill="#808080"/>
<circle cx="350.8" cy="280.1" r="0.89" fill="#696969"/>
<circle cx="238.4" cy="207.9" r="0.96" fill="#7a7a7a"/>
<circle cx="233.5" cy="206.6" r="1.04" fill="#a6a6a6"/>
<circle cx="234.7" cy="207.7" r="1.24" fill="#757575"/>
<circle cx="237.5" cy="208.5" r="0.99" fill="#a2a2a2"/>
<circle cx="236.9" cy="203.8" r="1.00" fill="#6b6b6b"/>
<circle cx="237.6" cy="204.0" r="1.00" fill="#707070"/>
<circle cx="236.5" cy="208.9" r="0.91" fill="#8a8a8a"/>
<circle cx="234.2" cy="203.9" r="1.08" fill="#7f7f7f"/>
<circle cx="237.1" cy="208.7" r="1.25" fill="#8b8b8b"/>
<circle cx="236.0" cy="209.0" r="0.94" fill="#6f6f6f"/>
<circle cx="312.5" cy="282.3" r="1.11" fill="#6b6b6b"/>
<circle cx="315.6" cy="284.0" r="1.00" fill="#a9a9a9"/>
<circle cx="315.1" cy="281.7" r="0.88" fill="#9f9f9f"/>
<circle cx="314.1" cy="284.4" r="1.21" fill="#a5a5a5"/>
<circle cx="316.3" cy="284.8" r="1.26" fill="#7b7b7b"/>
<circle cx="313.5" cy="286.7" r="1.05" fill="#a9a9a9"/>
<circle cx="316.1" cy="282.0" r="1.17" fill="#717171"/>
<circle cx="313.5" cy="282.1" r="1.07" fill="#8b8b8b"/>
<circle cx="333.9" cy="291.9" r="1.26" fill="#737373"/>
<circle cx="336.7" cy="292.4" r="1.08" fill="#898989"/>
<circle cx="333.8" cy="291.6" r="1.00" fill="#949494"/>
<circle cx="334.0" cy="293.4" r="0.99" fill="#989898"/>
<circle cx="335.3" cy="292.4" r="0.91" fill="#646464"/>
<circle cx="332.6" cy="290.3" r="1.09" fill="#696969"/>
<circle cx="333.8" cy="292.2" r="1.25" fill="#5f5f5f"/>
<circle cx="332.0" cy="292.0" r="1.11" fill="#6b6b6b"/>
<circle cx="324.3" cy="265.0" r="0.91" fill="#5b5b5b"/>
<circle cx="319.6" cy="266.4" r="0.98" fill="#6d6d6d"/>
<circle cx="323.3" cy="263.9" r="0.86" fill="#888888"/>
<circle cx="325.5" cy="266.5" r="0.92" fill="#848484"/>
<circle cx="324.6" cy="262.8" r="0.97" fill="#858585"/>
<circle cx="322.7" cy="264.1" r="0.96" fill="#747474"/>
<circle cx="320.9" cy="264.9" r="1.15" fill="#6b6b6b"/>
<circle cx="325.0" cy="263.7" r="0.95" fill="#5f5f5f"/>
<circle cx="324.3" cy="266.3" r="1.25" fill="#777777"/>
<circle cx="319.3" cy="266.4" r="1.28" fill="#8f8f8f"/>
<circle cx="323.1" cy="267.3" r="1.08" fill="#6c6c6c"/>
<circle cx="321.9" cy="266.5" r="0.96" fill="#8e8e8e"/>
<circle cx="266.8" cy="229.2" r="1.04" fill="#636363"/>
<circle cx="268.6" cy="230.5" r="1.75" fill="#141414"/>
<circle cx="268.4" cy="230.0" r="0.89" fill="#1c1c1c"/>
<circle cx="267.9" cy="231.6" r="0.86" fill="#181818"/>
<circle cx="269.5" cy="230.6" r="0.74" fill="#181818"/>
<circle cx="269.4" cy="231.1" r="0.67" fill="#282828"/>
<circle cx="267.8" cy="230.4" r="0.88" fill="#1b1b1b"/>
<circle cx="269.3" cy="230.9" r="0.59" fill="#1b1b1b"/>
<circle cx="269.7" cy="229.8" r="0.82" fill="#101010"/>
<circle cx="282.8" cy="277.5" r="0.99" fill="#606060"/>
<circle cx="287.2" cy="274.1" r="1.01" fill="#616161"/>
<circle cx="282.5" cy="273.4" r="3.68" fill="#0f0f0f"/>
<circle cx="283.3" cy="271.8" r="1.68" fill="#0f0f0f"/>
<circle cx="280.4" cy="274.0" r="1.24" fill="#191919"/>
<circle cx="281.0" cy="273.4" r="1.40" fill="#252525"/>
<circle cx="281.6" cy="274.6" r="1.43" fill="#191919"/>
<circle cx="281.1" cy="274.4" r="1.46" fill="#0d0d0d"/>
<circle cx="280.3" cy="273.3" r="1.27" fill="#1c1c1c"/>
<circle cx="281.5" cy="276.0" r="1.95" fill="#0a0a0a"/>
<circle cx="281.9" cy="271.7" r="1.29" fill="#282828"/>
<circle cx="284.6" cy="272.1" r="1.71" fill="#2c2c2c"/>
<circle cx="280.4" cy="272.6" r="1.72" fill="#272727"/>
<circle cx="283.5" cy="272.1" r="1.37" fill="#1a1a1a"/>
<circle cx="292.6" cy="268.1" r="1.23" fill="#6d6d6d"/>
<circle cx="294.6" cy="265.9" r="1.15" fill="#393939"/>
<circle cx="296.5" cy="270.5" r="3.77" fill="#0c0c0c"/>
<circle cx="297.0" cy="269.2" r="1.97" fill="#1b1b1b"/>
<circle cx="296.2" cy="272.0" r="1.72" fill="#141414"/>
<circle cx="296.0" cy="269.2" r="1.95" fill="#131313"/>
<circle cx="294.2" cy="271.4" r="1.73" fill="#131313"/>
<circle cx="296.0" cy="272.4" r="1.26" fill="#0c0c0c"/>
<circle cx="297.2" cy="269.2" r="1.30" fill="#232323"/>
<circle cx="295.0" cy="272.0" r="1.71" fill="#1e1e1e"/>
<circle cx="295.5" cy="272.8" r="1.23" fill="#232323"/>
<circle cx="295.7" cy="272.6" r="1.48" fill="#1f1f1f"/>
<circle cx="294.9" cy="272.1" r="1.49" fill="#232323"/>
<circle cx="296.8" cy="269.0" r="1.85" fill="#272727"/>
</g></g>
<rect x="216.8" y="200.9" width="141.39999999999998" height="114.6" fill="none" stroke="#111" stroke-width="1.6"/>
<clipPath id="cBR"><rect x="365.7" y="201.4" width="141.0" height="114.1"/></clipPath>
<filter id="fBR" x="-5%" y="-5%" width="110%" height="110%"><feGaussianBlur stdDeviation="0.4"/></filter>
<filter id="gBR" x="-5%" y="-5%" width="110%" height="110%"><feGaussianBlur stdDeviation="1.3"/></filter>
<g clip-path="url(#cBR)"><g filter="url(#gBR)">
<circle cx="455.0" cy="233.2" r="7.00" fill="#c8c8c8"/>
<circle cx="475.8" cy="261.0" r="6.00" fill="#c8c8c8"/>
<circle cx="449.5" cy="248.5" r="5.00" fill="#cdcdcd"/>
<circle cx="455.0" cy="233.2" r="5.25" fill="#cdcdcd"/>
<circle cx="449.5" cy="248.5" r="3.75" fill="#cdcdcd"/>
<circle cx="475.8" cy="261.0" r="4.50" fill="#cdcdcd"/>
<circle cx="435.6" cy="205.5" r="3.00" fill="#d7d7d7"/>
<circle cx="398.2" cy="291.4" r="3.75" fill="#cdcdcd"/>
<circle cx="370.5" cy="216.6" r="2.62" fill="#d7d7d7"/>
<circle cx="392.7" cy="216.6" r="2.62" fill="#cdcdcd"/>
<circle cx="498.0" cy="227.7" r="2.62" fill="#d7d7d7"/>
<circle cx="448.0" cy="302.5" r="3.00" fill="#c3c3c3"/>
<circle cx="486.9" cy="208.3" r="2.25" fill="#a5a5a5"/>
<circle cx="440.0" cy="290.0" r="3.75" fill="#c3c3c3"/>
<circle cx="405.0" cy="300.0" r="3.75" fill="#c3c3c3"/>
<circle cx="480.0" cy="300.0" r="3.00" fill="#c3c3c3"/>
</g><g filter="url(#fBR)">
<circle cx="399.5" cy="214.0" r="1.03" fill="#444444"/>
<circle cx="375.9" cy="247.4" r="1.26" fill="#7b7b7b"/>
<circle cx="473.1" cy="227.3" r="1.09" fill="#4e4e4e"/>
<circle cx="390.7" cy="214.3" r="0.95" fill="#858585"/>
<circle cx="481.9" cy="292.8" r="1.21" fill="#474747"/>
<circle cx="409.8" cy="272.7" r="1.18" fill="#7f7f7f"/>
<circle cx="489.0" cy="212.1" r="1.12" fill="#707070"/>
<circle cx="437.0" cy="222.3" r="1.06" fill="#3e3e3e"/>
<circle cx="496.6" cy="299.4" r="1.10" fill="#505050"/>
<circle cx="493.0" cy="266.6" r="1.25" fill="#7f7f7f"/>
<circle cx="437.4" cy="248.8" r="1.12" fill="#5b5b5b"/>
<circle cx="389.1" cy="236.6" r="1.22" fill="#3a3a3a"/>
<circle cx="373.1" cy="272.6" r="0.98" fill="#646464"/>
<circle cx="432.2" cy="240.8" r="1.30" fill="#474747"/>
<circle cx="424.1" cy="225.1" r="1.13" fill="#4e4e4e"/>
<circle cx="416.2" cy="286.1" r="0.99" fill="#666666"/>
<circle cx="492.4" cy="213.7" r="0.88" fill="#4a4a4a"/>
<circle cx="473.1" cy="271.4" r="0.96" fill="#535353"/>
<circle cx="391.4" cy="253.9" r="0.87" fill="#727272"/>
<circle cx="491.2" cy="309.4" r="1.18" fill="#888888"/>
<circle cx="369.2" cy="234.8" r="1.28" fill="#787878"/>
<circle cx="423.7" cy="308.1" r="1.13" fill="#7c7c7c"/>
<circle cx="407.5" cy="223.9" r="1.05" fill="#424242"/>
<circle cx="419.7" cy="310.2" r="1.00" fill="#373737"/>
<circle cx="372.9" cy="221.4" r="1.20" fill="#555555"/>
<circle cx="407.1" cy="213.3" r="1.29" fill="#5b5b5b"/>
<circle cx="395.6" cy="209.1" r="0.87" fill="#454545"/>
<circle cx="460.8" cy="219.2" r="0.87" fill="#606060"/>
<circle cx="401.3" cy="314.2" r="0.91" fill="#636363"/>
<circle cx="474.3" cy="248.3" r="1.29" fill="#5f5f5f"/>
<circle cx="400.3" cy="248.4" r="0.87" fill="#5a5a5a"/>
<circle cx="401.3" cy="302.1" r="1.22" fill="#616161"/>
<circle cx="371.1" cy="230.9" r="0.96" fill="#484848"/>
<circle cx="398.9" cy="299.9" r="0.91" fill="#3b3b3b"/>
<circle cx="495.7" cy="265.8" r="1.30" fill="#595959"/>
<circle cx="491.9" cy="275.7" r="1.21" fill="#767676"/>
<circle cx="435.4" cy="212.8" r="0.94" fill="#818181"/>
<circle cx="491.8" cy="306.0" r="1.00" fill="#6e6e6e"/>
<circle cx="477.8" cy="274.4" r="1.22" fill="#636363"/>
<circle cx="457.7" cy="279.3" r="0.97" fill="#858585"/>
<circle cx="499.6" cy="210.7" r="1.29" fill="#888888"/>
<circle cx="459.6" cy="207.4" r="1.25" fill="#414141"/>
<circle cx="501.3" cy="277.2" r="0.88" fill="#454545"/>
<circle cx="455.0" cy="266.2" r="1.19" fill="#858585"/>
<circle cx="397.1" cy="202.8" r="1.27" fill="#383838"/>
<circle cx="488.5" cy="215.4" r="1.21" fill="#797979"/>
<circle cx="488.7" cy="264.1" r="1.25" fill="#484848"/>
<circle cx="460.0" cy="239.5" r="1.25" fill="#787878"/>
<circle cx="432.2" cy="261.4" r="0.86" fill="#393939"/>
<circle cx="449.3" cy="257.2" r="1.24" fill="#6a6a6a"/>
<circle cx="386.0" cy="243.0" r="1.20" fill="#636363"/>
<circle cx="368.2" cy="296.3" r="1.22" fill="#3e3e3e"/>
<circle cx="442.2" cy="245.1" r="1.20" fill="#515151"/>
<circle cx="399.2" cy="257.0" r="1.28" fill="#3f3f3f"/>
<circle cx="382.6" cy="272.0" r="1.25" fill="#626262"/>
<circle cx="427.0" cy="298.6" r="1.20" fill="#3c3c3c"/>
<circle cx="489.2" cy="224.4" r="0.99" fill="#7e7e7e"/>
<circle cx="425.4" cy="291.9" r="0.93" fill="#818181"/>
<circle cx="391.2" cy="219.1" r="1.07" fill="#535353"/>
<circle cx="442.0" cy="303.7" r="1.17" fill="#373737"/>
<circle cx="410.0" cy="263.5" r="1.07" fill="#737373"/>
<circle cx="434.0" cy="210.9" r="0.96" fill="#7f7f7f"/>
<circle cx="416.3" cy="288.3" r="1.29" fill="#6c6c6c"/>
<circle cx="460.8" cy="270.7" r="0.99" fill="#848484"/>
<circle cx="431.6" cy="304.6" r="0.99" fill="#808080"/>
<circle cx="476.1" cy="271.1" r="1.05" fill="#424242"/>
<circle cx="473.9" cy="243.0" r="1.15" fill="#424242"/>
<circle cx="378.2" cy="218.5" r="1.21" fill="#464646"/>
<circle cx="492.1" cy="244.1" r="1.11" fill="#545454"/>
<circle cx="453.0" cy="212.9" r="1.03" fill="#868686"/>
<circle cx="391.7" cy="275.7" r="1.00" fill="#505050"/>
<circle cx="369.9" cy="204.7" r="1.28" fill="#7d7d7d"/>
<circle cx="478.1" cy="292.9" r="1.28" fill="#444444"/>
<circle cx="447.9" cy="257.9" r="1.11" fill="#868686"/>
<circle cx="472.4" cy="311.0" r="0.90" fill="#6e6e6e"/>
<circle cx="460.6" cy="285.9" r="1.13" fill="#7d7d7d"/>
<circle cx="408.8" cy="306.4" r="1.03" fill="#696969"/>
<circle cx="491.4" cy="281.3" r="0.99" fill="#4a4a4a"/>
<circle cx="412.1" cy="272.7" r="1.30" fill="#838383"/>
<circle cx="422.3" cy="247.3" r="1.22" fill="#4f4f4f"/>
<circle cx="423.9" cy="203.9" r="0.93" fill="#646464"/>
<circle cx="463.1" cy="271.3" r="1.01" fill="#878787"/>
<circle cx="453.3" cy="219.9" r="0.88" fill="#898989"/>
<circle cx="504.0" cy="305.5" r="1.12" fill="#515151"/>
<circle cx="379.4" cy="231.3" r="0.95" fill="#858585"/>
<circle cx="490.8" cy="289.6" r="0.92" fill="#4b4b4b"/>
<circle cx="408.3" cy="308.7" r="0.92" fill="#7a7a7a"/>
<circle cx="461.3" cy="263.7" r="1.28" fill="#4d4d4d"/>
<circle cx="439.6" cy="220.1" r="0.89" fill="#393939"/>
<circle cx="410.7" cy="216.1" r="0.88" fill="#8b8b8b"/>
<circle cx="406.9" cy="302.2" r="1.17" fill="#757575"/>
<circle cx="457.8" cy="309.2" r="1.25" fill="#747474"/>
<circle cx="444.5" cy="280.2" r="1.18" fill="#656565"/>
<circle cx="436.6" cy="219.7" r="1.23" fill="#606060"/>
<circle cx="376.1" cy="221.2" r="1.24" fill="#4c4c4c"/>
<circle cx="421.1" cy="278.9" r="1.24" fill="#525252"/>
<circle cx="420.5" cy="249.8" r="0.86" fill="#818181"/>
<circle cx="369.3" cy="310.0" r="0.92" fill="#444444"/>
<circle cx="484.7" cy="294.7" r="0.95" fill="#666666"/>
<circle cx="433.0" cy="282.9" r="0.93" fill="#7d7d7d"/>
<circle cx="505.2" cy="281.6" r="1.26" fill="#868686"/>
<circle cx="419.4" cy="297.4" r="1.23" fill="#686868"/>
<circle cx="381.6" cy="271.8" r="1.26" fill="#505050"/>
<circle cx="456.6" cy="303.0" r="1.12" fill="#3a3a3a"/>
<circle cx="454.5" cy="231.1" r="1.24" fill="#6f6f6f"/>
<circle cx="409.4" cy="302.8" r="1.13" fill="#535353"/>
<circle cx="482.6" cy="302.4" r="1.25" fill="#828282"/>
<circle cx="458.2" cy="280.7" r="1.12" fill="#636363"/>
<circle cx="504.0" cy="242.0" r="0.89" fill="#737373"/>
<circle cx="435.9" cy="263.6" r="1.12" fill="#4c4c4c"/>
<circle cx="394.6" cy="210.4" r="1.20" fill="#848484"/>
<circle cx="463.5" cy="215.5" r="1.29" fill="#7d7d7d"/>
<circle cx="437.5" cy="202.5" r="1.23" fill="#6b6b6b"/>
<circle cx="453.2" cy="204.4" r="1.18" fill="#393939"/>
<circle cx="433.2" cy="218.6" r="1.01" fill="#828282"/>
<circle cx="470.7" cy="293.9" r="0.98" fill="#585858"/>
<circle cx="450.8" cy="206.2" r="1.04" fill="#898989"/>
<circle cx="471.5" cy="299.1" r="0.98" fill="#717171"/>
<circle cx="476.3" cy="281.4" r="1.05" fill="#454545"/>
<circle cx="369.2" cy="301.8" r="1.27" fill="#4e4e4e"/>
<circle cx="471.8" cy="248.0" r="1.13" fill="#7e7e7e"/>
<circle cx="411.3" cy="271.9" r="0.97" fill="#626262"/>
<circle cx="370.9" cy="231.9" r="0.98" fill="#848484"/>
<circle cx="385.1" cy="287.4" r="0.89" fill="#8a8a8a"/>
<circle cx="389.8" cy="212.7" r="0.95" fill="#868686"/>
<circle cx="459.7" cy="302.2" r="1.07" fill="#404040"/>
<circle cx="414.0" cy="253.5" r="1.30" fill="#454545"/>
<circle cx="400.6" cy="296.9" r="0.90" fill="#898989"/>
<circle cx="407.9" cy="266.0" r="1.15" fill="#848484"/>
<circle cx="377.2" cy="297.3" r="0.93" fill="#747474"/>
<circle cx="370.5" cy="288.3" r="0.93" fill="#484848"/>
<circle cx="371.5" cy="238.8" r="1.00" fill="#8a8a8a"/>
<circle cx="451.0" cy="243.2" r="1.30" fill="#454545"/>
<circle cx="396.6" cy="309.6" r="1.28" fill="#717171"/>
<circle cx="502.7" cy="208.8" r="1.26" fill="#727272"/>
<circle cx="459.6" cy="296.9" r="0.90" fill="#474747"/>
<circle cx="385.9" cy="256.1" r="1.10" fill="#646464"/>
<circle cx="417.0" cy="285.8" r="1.23" fill="#777777"/>
<circle cx="372.0" cy="219.5" r="0.95" fill="#4b4b4b"/>
<circle cx="446.5" cy="224.2" r="1.13" fill="#545454"/>
<circle cx="417.3" cy="281.8" r="1.27" fill="#474747"/>
<circle cx="415.1" cy="312.4" r="0.95" fill="#393939"/>
<circle cx="393.3" cy="294.9" r="1.18" fill="#868686"/>
<circle cx="435.8" cy="207.0" r="0.99" fill="#747474"/>
<circle cx="421.3" cy="218.0" r="1.02" fill="#5e5e5e"/>
<circle cx="416.2" cy="252.4" r="0.91" fill="#393939"/>
<circle cx="475.6" cy="284.5" r="1.04" fill="#404040"/>
<circle cx="407.8" cy="265.0" r="1.25" fill="#5f5f5f"/>
<circle cx="502.1" cy="261.5" r="0.93" fill="#6b6b6b"/>
<circle cx="450.1" cy="269.6" r="1.18" fill="#383838"/>
<circle cx="427.4" cy="292.1" r="0.91" fill="#3a3a3a"/>
<circle cx="392.1" cy="234.4" r="1.05" fill="#515151"/>
<circle cx="454.9" cy="221.5" r="1.01" fill="#707070"/>
<circle cx="442.4" cy="309.9" r="1.27" fill="#4c4c4c"/>
<circle cx="413.3" cy="262.7" r="1.09" fill="#565656"/>
<circle cx="486.6" cy="224.5" r="1.06" fill="#414141"/>
<circle cx="489.4" cy="269.2" r="1.29" fill="#434343"/>
<circle cx="465.5" cy="269.3" r="0.87" fill="#7c7c7c"/>
<circle cx="488.2" cy="211.4" r="1.27" fill="#797979"/>
<circle cx="450.7" cy="263.4" r="0.97" fill="#3b3b3b"/>
<circle cx="432.8" cy="299.5" r="0.94" fill="#5f5f5f"/>
<circle cx="406.0" cy="279.9" r="1.28" fill="#828282"/>
<circle cx="406.7" cy="249.1" r="0.85" fill="#636363"/>
<circle cx="485.3" cy="297.1" r="0.88" fill="#5b5b5b"/>
<circle cx="377.8" cy="250.0" r="1.26" fill="#4f4f4f"/>
<circle cx="484.3" cy="309.5" r="1.22" fill="#484848"/>
<circle cx="494.3" cy="305.9" r="1.30" fill="#373737"/>
<circle cx="367.2" cy="235.1" r="1.08" fill="#5b5b5b"/>
<circle cx="379.6" cy="274.2" r="1.15" fill="#6c6c6c"/>
<circle cx="437.7" cy="264.0" r="1.16" fill="#3c3c3c"/>
<circle cx="427.3" cy="217.6" r="0.90" fill="#777777"/>
<circle cx="411.8" cy="240.4" r="0.97" fill="#686868"/>
<circle cx="383.1" cy="274.3" r="0.88" fill="#888888"/>
<circle cx="388.5" cy="288.5" r="1.10" fill="#5b5b5b"/>
<circle cx="409.0" cy="242.7" r="1.19" fill="#636363"/>
<circle cx="441.3" cy="230.2" r="1.13" fill="#454545"/>
<circle cx="433.8" cy="275.4" r="1.09" fill="#686868"/>
<circle cx="446.0" cy="224.1" r="1.28" fill="#717171"/>
<circle cx="467.6" cy="309.5" r="1.05" fill="#535353"/>
<circle cx="409.0" cy="237.9" r="0.99" fill="#515151"/>
<circle cx="395.8" cy="256.7" r="0.98" fill="#565656"/>
<circle cx="458.9" cy="237.7" r="1.24" fill="#7a7a7a"/>
<circle cx="412.4" cy="295.9" r="0.93" fill="#3f3f3f"/>
<circle cx="505.0" cy="206.1" r="0.85" fill="#808080"/>
<circle cx="367.1" cy="275.8" r="1.10" fill="#494949"/>
<circle cx="400.8" cy="310.8" r="1.03" fill="#4b4b4b"/>
<circle cx="428.1" cy="284.5" r="0.98" fill="#3e3e3e"/>
<circle cx="476.6" cy="213.2" r="0.87" fill="#373737"/>
<circle cx="504.8" cy="251.1" r="1.18" fill="#666666"/>
<circle cx="502.2" cy="240.9" r="1.01" fill="#707070"/>
<circle cx="366.8" cy="243.2" r="1.19" fill="#676767"/>
<circle cx="434.8" cy="307.4" r="1.04" fill="#757575"/>
<circle cx="421.2" cy="212.1" r="1.02" fill="#484848"/>
<circle cx="370.5" cy="234.5" r="0.91" fill="#5d5d5d"/>
<circle cx="469.2" cy="287.4" r="1.25" fill="#525252"/>
<circle cx="459.8" cy="302.1" r="1.03" fill="#848484"/>
<circle cx="381.0" cy="305.6" r="1.25" fill="#8a8a8a"/>
<circle cx="482.2" cy="282.1" r="1.05" fill="#737373"/>
<circle cx="488.8" cy="267.0" r="1.13" fill="#858585"/>
<circle cx="406.3" cy="240.0" r="0.87" fill="#818181"/>
<circle cx="453.4" cy="280.1" r="1.27" fill="#575757"/>
<circle cx="453.4" cy="276.9" r="1.27" fill="#757575"/>
<circle cx="453.1" cy="278.3" r="1.19" fill="#454545"/>
<circle cx="454.9" cy="277.3" r="1.28" fill="#7b7b7b"/>
<circle cx="500.1" cy="258.0" r="1.01" fill="#5d5d5d"/>
<circle cx="500.4" cy="256.0" r="1.18" fill="#696969"/>
<circle cx="502.1" cy="255.4" r="1.14" fill="#444444"/>
<circle cx="505.3" cy="254.4" r="0.99" fill="#3a3a3a"/>
<circle cx="499.7" cy="257.5" r="1.22" fill="#757575"/>
<circle cx="500.9" cy="257.3" r="0.88" fill="#585858"/>
<circle cx="499.8" cy="257.1" r="1.21" fill="#3b3b3b"/>
<circle cx="452.5" cy="224.5" r="1.08" fill="#4f4f4f"/>
<circle cx="452.8" cy="222.1" r="1.19" fill="#7b7b7b"/>
<circle cx="450.6" cy="222.0" r="0.97" fill="#3b3b3b"/>
<circle cx="502.6" cy="302.9" r="1.07" fill="#545454"/>
<circle cx="505.0" cy="300.7" r="1.24" fill="#767676"/>
<circle cx="501.0" cy="302.0" r="1.04" fill="#747474"/>
<circle cx="492.5" cy="215.0" r="1.06" fill="#585858"/>
<circle cx="494.9" cy="216.2" r="0.96" fill="#616161"/>
<circle cx="491.7" cy="214.4" r="1.17" fill="#717171"/>
<circle cx="495.5" cy="216.0" r="0.93" fill="#7c7c7c"/>
<circle cx="388.4" cy="287.0" r="0.88" fill="#6e6e6e"/>
<circle cx="392.7" cy="289.7" r="1.15" fill="#676767"/>
<circle cx="386.9" cy="288.0" r="1.19" fill="#3f3f3f"/>
<circle cx="387.7" cy="288.7" r="0.97" fill="#3e3e3e"/>
<circle cx="389.6" cy="287.2" r="1.12" fill="#6d6d6d"/>
<circle cx="392.5" cy="288.3" r="1.07" fill="#494949"/>
<circle cx="393.2" cy="291.0" r="1.27" fill="#454545"/>
<circle cx="438.9" cy="307.0" r="1.22" fill="#585858"/>
<circle cx="441.5" cy="306.1" r="1.19" fill="#737373"/>
<circle cx="441.4" cy="307.5" r="1.15" fill="#6f6f6f"/>
<circle cx="444.7" cy="307.7" r="1.07" fill="#7f7f7f"/>
<circle cx="438.3" cy="306.8" r="1.12" fill="#646464"/>
<circle cx="390.0" cy="259.4" r="0.96" fill="#5e5e5e"/>
<circle cx="390.2" cy="256.8" r="1.02" fill="#505050"/>
<circle cx="389.6" cy="256.7" r="1.11" fill="#717171"/>
<circle cx="389.2" cy="258.1" r="1.09" fill="#505050"/>
<circle cx="469.0" cy="310.1" r="1.02" fill="#515151"/>
<circle cx="470.3" cy="311.4" r="0.91" fill="#5a5a5a"/>
<circle cx="474.8" cy="312.0" r="1.27" fill="#585858"/>
<circle cx="418.4" cy="291.1" r="1.15" fill="#424242"/>
<circle cx="417.1" cy="289.7" r="1.26" fill="#6c6c6c"/>
<circle cx="417.1" cy="292.5" r="1.04" fill="#4b4b4b"/>
<circle cx="394.6" cy="295.6" r="0.97" fill="#585858"/>
<circle cx="393.3" cy="295.6" r="1.00" fill="#5f5f5f"/>
<circle cx="393.6" cy="295.3" r="1.25" fill="#787878"/>
<circle cx="402.5" cy="232.5" r="0.90" fill="#626262"/>
<circle cx="400.3" cy="231.1" r="1.25" fill="#404040"/>
<circle cx="401.9" cy="231.0" r="1.05" fill="#797979"/>
<circle cx="400.8" cy="230.9" r="0.98" fill="#515151"/>
<circle cx="400.4" cy="231.2" r="1.08" fill="#676767"/>
<circle cx="482.7" cy="280.0" r="0.97" fill="#5a5a5a"/>
<circle cx="486.6" cy="280.8" r="1.06" fill="#606060"/>
<circle cx="483.6" cy="280.8" r="1.02" fill="#3c3c3c"/>
<circle cx="488.3" cy="279.4" r="0.98" fill="#565656"/>
<circle cx="487.4" cy="279.7" r="1.03" fill="#4c4c4c"/>
<circle cx="409.1" cy="217.0" r="1.12" fill="#3b3b3b"/>
<circle cx="411.8" cy="221.7" r="1.00" fill="#6f6f6f"/>
<circle cx="409.9" cy="216.3" r="1.02" fill="#6d6d6d"/>
<circle cx="411.7" cy="220.7" r="0.90" fill="#7c7c7c"/>
<circle cx="409.5" cy="219.8" r="0.93" fill="#6f6f6f"/>
<circle cx="407.4" cy="300.6" r="1.17" fill="#757575"/>
<circle cx="413.9" cy="298.9" r="1.26" fill="#454545"/>
<circle cx="411.3" cy="298.4" r="1.27" fill="#727272"/>
<circle cx="410.4" cy="300.0" r="0.95" fill="#4e4e4e"/>
<circle cx="426.2" cy="285.4" r="1.18" fill="#6d6d6d"/>
<circle cx="424.7" cy="284.6" r="1.18" fill="#747474"/>
<circle cx="424.1" cy="284.5" r="1.30" fill="#3c3c3c"/>
<circle cx="448.7" cy="300.8" r="1.06" fill="#6e6e6e"/>
<circle cx="443.9" cy="300.1" r="0.96" fill="#686868"/>
<circle cx="444.4" cy="299.6" r="1.05" fill="#4a4a4a"/>
<circle cx="443.1" cy="299.4" r="0.97" fill="#636363"/>
<circle cx="467.6" cy="289.8" r="1.06" fill="#777777"/>
<circle cx="468.5" cy="290.5" r="0.95" fill="#686868"/>
<circle cx="465.5" cy="285.3" r="1.12" fill="#5b5b5b"/>
<circle cx="468.2" cy="286.4" r="1.09" fill="#777777"/>
<circle cx="468.0" cy="287.0" r="1.17" fill="#626262"/>
<circle cx="469.6" cy="290.3" r="1.15" fill="#6c6c6c"/>
<circle cx="468.3" cy="288.5" r="1.25" fill="#555555"/>
<circle cx="381.8" cy="306.7" r="0.97" fill="#6f6f6f"/>
<circle cx="381.2" cy="309.1" r="1.10" fill="#737373"/>
<circle cx="381.2" cy="311.5" r="1.03" fill="#595959"/>
<circle cx="382.1" cy="307.3" r="1.27" fill="#3c3c3c"/>
<circle cx="380.4" cy="307.9" r="1.07" fill="#7a7a7a"/>
<circle cx="381.2" cy="308.4" r="0.94" fill="#5b5b5b"/>
<circle cx="381.3" cy="311.6" r="1.04" fill="#808080"/>
<circle cx="434.3" cy="292.1" r="0.96" fill="#818181"/>
<circle cx="437.4" cy="291.4" r="1.20" fill="#5e5e5e"/>
<circle cx="437.8" cy="291.6" r="1.23" fill="#424242"/>
<circle cx="432.4" cy="293.4" r="1.27" fill="#3f3f3f"/>
<circle cx="476.4" cy="236.5" r="0.94" fill="#6c6c6c"/>
<circle cx="476.3" cy="237.1" r="1.00" fill="#767676"/>
<circle cx="474.6" cy="237.2" r="1.22" fill="#424242"/>
<circle cx="383.6" cy="299.1" r="0.93" fill="#6d6d6d"/>
<circle cx="384.8" cy="299.9" r="1.08" fill="#6d6d6d"/>
<circle cx="387.3" cy="300.0" r="1.05" fill="#5d5d5d"/>
<circle cx="385.6" cy="299.6" r="1.29" fill="#4c4c4c"/>
<circle cx="462.6" cy="257.3" r="1.21" fill="#686868"/>
<circle cx="463.2" cy="259.7" r="1.09" fill="#4f4f4f"/>
<circle cx="460.9" cy="254.2" r="1.01" fill="#5f5f5f"/>
<circle cx="393.4" cy="227.7" r="0.89" fill="#4b4b4b"/>
<circle cx="395.5" cy="228.8" r="1.14" fill="#3e3e3e"/>
<circle cx="397.0" cy="228.4" r="1.15" fill="#404040"/>
<circle cx="485.3" cy="252.8" r="1.06" fill="#616161"/>
<circle cx="485.3" cy="251.6" r="0.93" fill="#818181"/>
<circle cx="484.4" cy="251.6" r="0.86" fill="#474747"/>
<circle cx="485.2" cy="254.1" r="1.07" fill="#434343"/>
<circle cx="374.2" cy="210.0" r="0.92" fill="#575757"/>
<circle cx="376.1" cy="211.0" r="1.14" fill="#727272"/>
<circle cx="376.8" cy="212.2" r="0.91" fill="#686868"/>
<circle cx="375.1" cy="211.8" r="0.95" fill="#545454"/>
<circle cx="374.8" cy="208.0" r="0.97" fill="#3e3e3e"/>
<circle cx="415.6" cy="298.8" r="1.11" fill="#575757"/>
<circle cx="421.1" cy="297.6" r="1.21" fill="#808080"/>
<circle cx="419.6" cy="298.0" r="1.16" fill="#7d7d7d"/>
<circle cx="496.0" cy="303.3" r="1.15" fill="#727272"/>
<circle cx="498.3" cy="304.1" r="1.01" fill="#7f7f7f"/>
<circle cx="497.0" cy="304.5" r="1.25" fill="#5e5e5e"/>
<circle cx="497.1" cy="304.5" r="1.19" fill="#454545"/>
<circle cx="499.0" cy="301.5" r="1.09" fill="#656565"/>
<circle cx="498.1" cy="304.1" r="1.09" fill="#404040"/>
<circle cx="498.7" cy="305.3" r="0.98" fill="#737373"/>
<circle cx="456.4" cy="258.9" r="0.94" fill="#6c6c6c"/>
<circle cx="455.5" cy="262.7" r="0.95" fill="#5b5b5b"/>
<circle cx="456.0" cy="261.8" r="1.28" fill="#636363"/>
<circle cx="457.0" cy="259.6" r="1.10" fill="#474747"/>
<circle cx="456.5" cy="256.8" r="1.11" fill="#393939"/>
<circle cx="455.4" cy="257.3" r="0.92" fill="#4f4f4f"/>
<circle cx="404.8" cy="208.9" r="0.94" fill="#484848"/>
<circle cx="405.1" cy="207.4" r="1.13" fill="#747474"/>
<circle cx="405.6" cy="207.7" r="1.18" fill="#424242"/>
<circle cx="407.3" cy="208.6" r="1.14" fill="#5f5f5f"/>
<circle cx="408.4" cy="211.4" r="1.21" fill="#454545"/>
<circle cx="407.7" cy="210.4" r="1.23" fill="#4a4a4a"/>
<circle cx="495.5" cy="210.7" r="1.20" fill="#787878"/>
<circle cx="496.0" cy="211.0" r="0.93" fill="#454545"/>
<circle cx="495.1" cy="210.0" r="0.86" fill="#7c7c7c"/>
<circle cx="497.7" cy="208.6" r="1.02" fill="#5c5c5c"/>
<circle cx="498.0" cy="225.1" r="1.05" fill="#646464"/>
<circle cx="499.0" cy="225.7" r="0.94" fill="#3c3c3c"/>
<circle cx="498.6" cy="224.5" r="1.08" fill="#5d5d5d"/>
<circle cx="495.7" cy="223.3" r="1.27" fill="#5d5d5d"/>
<circle cx="459.5" cy="286.6" r="0.89" fill="#5c5c5c"/>
<circle cx="456.6" cy="286.6" r="1.15" fill="#626262"/>
<circle cx="456.6" cy="286.8" r="0.98" fill="#444444"/>
<circle cx="456.8" cy="285.2" r="1.03" fill="#767676"/>
<circle cx="455.7" cy="285.0" r="1.16" fill="#373737"/>
<circle cx="413.1" cy="229.3" r="0.87" fill="#747474"/>
<circle cx="414.5" cy="233.7" r="1.06" fill="#6b6b6b"/>
<circle cx="412.5" cy="234.0" r="1.18" fill="#5a5a5a"/>
<circle cx="413.2" cy="232.9" r="1.01" fill="#6f6f6f"/>
<circle cx="411.9" cy="231.3" r="1.03" fill="#393939"/>
<circle cx="411.5" cy="231.5" r="1.30" fill="#444444"/>
<circle cx="413.8" cy="234.5" r="1.21" fill="#373737"/>
<circle cx="489.4" cy="295.4" r="1.06" fill="#616161"/>
<circle cx="489.0" cy="298.6" r="0.87" fill="#5c5c5c"/>
<circle cx="489.5" cy="296.3" r="1.27" fill="#6c6c6c"/>
<circle cx="491.8" cy="297.7" r="0.91" fill="#7a7a7a"/>
<circle cx="440.0" cy="269.2" r="1.14" fill="#4f4f4f"/>
<circle cx="440.1" cy="272.1" r="0.96" fill="#777777"/>
<circle cx="439.9" cy="268.2" r="1.27" fill="#606060"/>
<circle cx="470.6" cy="208.7" r="1.08" fill="#7e7e7e"/>
<circle cx="469.6" cy="211.2" r="0.89" fill="#414141"/>
<circle cx="469.4" cy="210.5" r="0.86" fill="#707070"/>
<circle cx="469.2" cy="212.2" r="1.18" fill="#4c4c4c"/>
<circle cx="397.1" cy="284.5" r="1.00" fill="#464646"/>
<circle cx="392.3" cy="289.2" r="0.99" fill="#444444"/>
<circle cx="395.4" cy="287.7" r="1.22" fill="#717171"/>
<circle cx="409.5" cy="241.6" r="1.05" fill="#474747"/>
<circle cx="408.3" cy="241.2" r="1.01" fill="#575757"/>
<circle cx="408.7" cy="241.0" r="1.09" fill="#535353"/>
<circle cx="408.7" cy="241.9" r="1.01" fill="#5b5b5b"/>
<circle cx="407.6" cy="243.2" r="1.12" fill="#717171"/>
<circle cx="407.6" cy="238.8" r="0.86" fill="#3c3c3c"/>
<circle cx="373.9" cy="247.1" r="1.20" fill="#5e5e5e"/>
<circle cx="377.3" cy="242.9" r="0.98" fill="#6a6a6a"/>
<circle cx="375.9" cy="245.7" r="0.85" fill="#505050"/>
<circle cx="375.1" cy="249.2" r="1.23" fill="#6b6b6b"/>
<circle cx="454.9" cy="229.9" r="1.18" fill="#8f8f8f"/>
<circle cx="458.7" cy="231.9" r="1.17" fill="#545454"/>
<circle cx="457.6" cy="234.0" r="1.16" fill="#939393"/>
<circle cx="451.3" cy="237.1" r="0.97" fill="#4b4b4b"/>
<circle cx="457.8" cy="237.9" r="1.05" fill="#5b5b5b"/>
<circle cx="451.7" cy="236.2" r="1.18" fill="#505050"/>
<circle cx="451.1" cy="233.0" r="1.10" fill="#5f5f5f"/>
<circle cx="449.0" cy="233.0" r="0.87" fill="#909090"/>
<circle cx="452.4" cy="229.5" r="1.06" fill="#646464"/>
<circle cx="459.9" cy="234.4" r="1.16" fill="#5e5e5e"/>
<circle cx="453.9" cy="227.4" r="1.10" fill="#848484"/>
<circle cx="453.0" cy="226.8" r="1.29" fill="#5e5e5e"/>
<circle cx="454.1" cy="234.4" r="0.91" fill="#757575"/>
<circle cx="458.4" cy="230.8" r="1.23" fill="#505050"/>
<circle cx="458.4" cy="235.3" r="1.26" fill="#4a4a4a"/>
<circle cx="460.2" cy="234.9" r="1.13" fill="#7c7c7c"/>
<circle cx="451.4" cy="230.7" r="1.19" fill="#484848"/>
<circle cx="461.0" cy="231.7" r="1.19" fill="#888888"/>
<circle cx="457.8" cy="234.5" r="1.12" fill="#5f5f5f"/>
<circle cx="460.4" cy="235.0" r="0.92" fill="#797979"/>
<circle cx="453.7" cy="233.3" r="1.26" fill="#7e7e7e"/>
<circle cx="459.6" cy="236.9" r="1.10" fill="#7f7f7f"/>
<circle cx="456.4" cy="233.0" r="1.13" fill="#606060"/>
<circle cx="458.4" cy="231.5" r="0.92" fill="#6b6b6b"/>
<circle cx="454.5" cy="233.7" r="0.97" fill="#484848"/>
<circle cx="458.0" cy="233.7" r="0.89" fill="#575757"/>
<circle cx="449.6" cy="230.6" r="0.91" fill="#464646"/>
<circle cx="455.9" cy="235.6" r="1.00" fill="#808080"/>
<circle cx="458.7" cy="235.9" r="1.12" fill="#767676"/>
<circle cx="454.5" cy="235.1" r="1.08" fill="#8a8a8a"/>
<circle cx="458.1" cy="228.7" r="1.19" fill="#7b7b7b"/>
<circle cx="452.3" cy="230.5" r="0.89" fill="#858585"/>
<circle cx="454.4" cy="231.0" r="1.13" fill="#868686"/>
<circle cx="453.8" cy="235.0" r="1.13" fill="#848484"/>
<circle cx="458.3" cy="230.4" r="1.16" fill="#6f6f6f"/>
<circle cx="451.0" cy="228.9" r="1.17" fill="#484848"/>
<circle cx="454.2" cy="239.3" r="1.03" fill="#4f4f4f"/>
<circle cx="449.9" cy="237.1" r="0.90" fill="#626262"/>
<circle cx="449.3" cy="236.8" r="0.95" fill="#909090"/>
<circle cx="458.8" cy="230.7" r="0.95" fill="#959595"/>
<circle cx="452.4" cy="233.0" r="0.95" fill="#484848"/>
<circle cx="460.7" cy="234.7" r="0.87" fill="#838383"/>
<circle cx="456.9" cy="239.9" r="1.25" fill="#585858"/>
<circle cx="454.6" cy="237.7" r="1.17" fill="#636363"/>
<circle cx="449.2" cy="233.8" r="0.91" fill="#494949"/>
<circle cx="449.1" cy="245.2" r="1.09" fill="#6b6b6b"/>
<circle cx="453.0" cy="246.3" r="1.05" fill="#626262"/>
<circle cx="447.3" cy="246.4" r="0.97" fill="#838383"/>
<circle cx="451.0" cy="250.6" r="1.07" fill="#686868"/>
<circle cx="452.5" cy="251.3" r="0.87" fill="#787878"/>
<circle cx="454.3" cy="249.3" r="1.12" fill="#727272"/>
<circle cx="446.8" cy="244.5" r="1.23" fill="#707070"/>
<circle cx="451.4" cy="252.4" r="1.17" fill="#797979"/>
<circle cx="451.2" cy="248.1" r="0.95" fill="#494949"/>
<circle cx="445.2" cy="250.4" r="1.28" fill="#686868"/>
<circle cx="449.7" cy="248.7" r="1.17" fill="#4c4c4c"/>
<circle cx="452.1" cy="248.4" r="0.86" fill="#5b5b5b"/>
<circle cx="450.7" cy="247.6" r="1.23" fill="#868686"/>
<circle cx="453.3" cy="245.8" r="0.90" fill="#4d4d4d"/>
<circle cx="447.8" cy="245.8" r="0.95" fill="#525252"/>
<circle cx="451.5" cy="244.3" r="1.13" fill="#575757"/>
<circle cx="448.4" cy="243.8" r="1.21" fill="#484848"/>
<circle cx="448.0" cy="248.5" r="0.89" fill="#919191"/>
<circle cx="448.7" cy="247.8" r="1.22" fill="#5a5a5a"/>
<circle cx="452.0" cy="252.8" r="1.17" fill="#484848"/>
<circle cx="450.8" cy="250.7" r="1.21" fill="#818181"/>
<circle cx="446.7" cy="247.5" r="1.29" fill="#464646"/>
<circle cx="475.0" cy="260.1" r="1.11" fill="#7e7e7e"/>
<circle cx="481.2" cy="259.0" r="1.13" fill="#6a6a6a"/>
<circle cx="473.0" cy="263.8" r="1.24" fill="#797979"/>
<circle cx="479.1" cy="265.2" r="1.30" fill="#8c8c8c"/>
<circle cx="474.9" cy="258.9" r="0.97" fill="#6b6b6b"/>
<circle cx="478.0" cy="258.5" r="1.00" fill="#777777"/>
<circle cx="473.6" cy="260.7" r="1.08" fill="#606060"/>
<circle cx="476.4" cy="257.7" r="1.29" fill="#4a4a4a"/>
<circle cx="479.0" cy="265.1" r="1.18" fill="#828282"/>
<circle cx="481.8" cy="260.5" r="1.01" fill="#797979"/>
<circle cx="477.2" cy="259.8" r="1.09" fill="#7d7d7d"/>
<circle cx="479.7" cy="260.2" r="0.89" fill="#606060"/>
<circle cx="475.6" cy="263.8" r="1.25" fill="#717171"/>
<circle cx="476.8" cy="258.5" r="1.20" fill="#8b8b8b"/>
<circle cx="479.4" cy="256.8" r="0.94" fill="#575757"/>
<circle cx="473.4" cy="255.9" r="1.15" fill="#686868"/>
<circle cx="474.2" cy="257.3" r="1.30" fill="#676767"/>
<circle cx="476.6" cy="260.5" r="1.02" fill="#4b4b4b"/>
<circle cx="478.3" cy="257.8" r="1.02" fill="#737373"/>
<circle cx="473.1" cy="264.9" r="1.17" fill="#505050"/>
<circle cx="477.2" cy="255.9" r="1.29" fill="#5a5a5a"/>
<circle cx="474.4" cy="261.3" r="0.89" fill="#484848"/>
<circle cx="480.2" cy="260.8" r="1.30" fill="#515151"/>
<circle cx="476.3" cy="264.9" r="1.04" fill="#6f6f6f"/>
<circle cx="473.5" cy="258.0" r="1.29" fill="#4e4e4e"/>
<circle cx="474.7" cy="258.6" r="1.22" fill="#464646"/>
<circle cx="478.4" cy="260.8" r="1.21" fill="#8c8c8c"/>
<circle cx="479.0" cy="265.3" r="1.27" fill="#656565"/>
<circle cx="475.7" cy="264.2" r="1.10" fill="#6a6a6a"/>
<circle cx="479.3" cy="263.2" r="1.15" fill="#919191"/>
<circle cx="434.7" cy="201.6" r="1.07" fill="#8e8e8e"/>
<circle cx="438.2" cy="204.5" r="0.99" fill="#999999"/>
<circle cx="437.1" cy="205.7" r="1.27" fill="#5c5c5c"/>
<circle cx="435.9" cy="203.5" r="1.18" fill="#7f7f7f"/>
<circle cx="439.0" cy="204.3" r="1.15" fill="#505050"/>
<circle cx="438.2" cy="205.6" r="1.22" fill="#535353"/>
<circle cx="436.9" cy="204.3" r="1.05" fill="#858585"/>
<circle cx="437.5" cy="202.0" r="1.29" fill="#565656"/>
<circle cx="436.7" cy="207.5" r="1.29" fill="#6c6c6c"/>
<circle cx="433.8" cy="204.2" r="1.12" fill="#616161"/>
<circle cx="437.7" cy="203.9" r="1.14" fill="#666666"/>
<circle cx="438.2" cy="205.5" r="0.92" fill="#777777"/>
<circle cx="433.0" cy="207.5" r="1.25" fill="#929292"/>
<circle cx="439.2" cy="204.7" r="1.02" fill="#8a8a8a"/>
<circle cx="433.9" cy="204.5" r="1.22" fill="#919191"/>
<circle cx="435.6" cy="204.1" r="1.18" fill="#646464"/>
<circle cx="395.3" cy="288.6" r="1.24" fill="#909090"/>
<circle cx="398.6" cy="295.7" r="1.00" fill="#5e5e5e"/>
<circle cx="402.8" cy="290.4" r="1.05" fill="#5b5b5b"/>
<circle cx="395.9" cy="288.9" r="1.03" fill="#838383"/>
<circle cx="401.5" cy="288.0" r="1.22" fill="#909090"/>
<circle cx="395.6" cy="292.2" r="1.10" fill="#757575"/>
<circle cx="401.0" cy="291.9" r="1.11" fill="#5d5d5d"/>
<circle cx="394.7" cy="291.0" r="1.10" fill="#505050"/>
<circle cx="399.0" cy="289.8" r="0.91" fill="#737373"/>
<circle cx="400.9" cy="289.0" r="1.10" fill="#4e4e4e"/>
<circle cx="397.3" cy="290.0" r="1.03" fill="#909090"/>
<circle cx="394.9" cy="294.4" r="1.25" fill="#898989"/>
<circle cx="397.8" cy="293.3" r="1.02" fill="#5b5b5b"/>
<circle cx="397.1" cy="294.8" r="1.13" fill="#4e4e4e"/>
<circle cx="397.7" cy="296.0" r="1.15" fill="#616161"/>
<circle cx="398.3" cy="291.3" r="0.94" fill="#868686"/>
<circle cx="400.6" cy="289.2" r="1.04" fill="#7e7e7e"/>
<circle cx="398.0" cy="289.1" r="0.94" fill="#626262"/>
<circle cx="368.1" cy="216.3" r="0.92" fill="#808080"/>
<circle cx="368.3" cy="217.8" r="1.14" fill="#575757"/>
<circle cx="370.2" cy="219.2" r="0.92" fill="#8a8a8a"/>
<circle cx="372.8" cy="219.0" r="0.93" fill="#8b8b8b"/>
<circle cx="368.8" cy="216.8" r="1.19" fill="#868686"/>
<circle cx="373.0" cy="216.3" r="1.04" fill="#727272"/>
<circle cx="372.1" cy="217.6" r="1.07" fill="#797979"/>
<circle cx="368.1" cy="217.7" r="1.28" fill="#535353"/>
<circle cx="391.3" cy="216.2" r="1.20" fill="#575757"/>
<circle cx="392.2" cy="214.8" r="1.24" fill="#646464"/>
<circle cx="395.4" cy="215.7" r="1.24" fill="#8d8d8d"/>
<circle cx="393.1" cy="219.4" r="1.13" fill="#656565"/>
<circle cx="391.1" cy="217.1" r="0.97" fill="#8e8e8e"/>
<circle cx="392.2" cy="214.9" r="1.06" fill="#6d6d6d"/>
<circle cx="392.2" cy="216.7" r="1.23" fill="#525252"/>
<circle cx="391.1" cy="217.5" r="1.15" fill="#6e6e6e"/>
<circle cx="500.8" cy="226.2" r="1.19" fill="#6e6e6e"/>
<circle cx="496.1" cy="230.5" r="1.17" fill="#606060"/>
<circle cx="499.3" cy="227.7" r="1.10" fill="#9a9a9a"/>
<circle cx="496.8" cy="227.9" r="0.93" fill="#757575"/>
<circle cx="497.8" cy="227.1" r="0.88" fill="#979797"/>
<circle cx="494.9" cy="227.7" r="1.27" fill="#646464"/>
<circle cx="500.8" cy="228.5" r="0.91" fill="#818181"/>
<circle cx="499.2" cy="225.7" r="1.02" fill="#777777"/>
<circle cx="449.3" cy="306.1" r="1.09" fill="#797979"/>
<circle cx="449.8" cy="300.2" r="0.85" fill="#727272"/>
<circle cx="444.5" cy="302.6" r="0.97" fill="#818181"/>
<circle cx="444.5" cy="301.3" r="1.07" fill="#575757"/>
<circle cx="450.7" cy="304.8" r="0.97" fill="#686868"/>
<circle cx="448.5" cy="304.2" r="0.95" fill="#494949"/>
<circle cx="445.9" cy="299.2" r="1.16" fill="#6b6b6b"/>
<circle cx="448.1" cy="299.1" r="1.23" fill="#898989"/>
<circle cx="449.9" cy="299.4" r="1.26" fill="#707070"/>
<circle cx="447.5" cy="304.6" r="1.29" fill="#424242"/>
<circle cx="486.0" cy="206.5" r="1.00" fill="#525252"/>
<circle cx="489.4" cy="208.1" r="1.09" fill="#454545"/>
<circle cx="486.7" cy="206.4" r="0.97" fill="#3e3e3e"/>
<circle cx="486.7" cy="206.2" r="0.90" fill="#444444"/>
<circle cx="487.9" cy="208.9" r="1.27" fill="#4e4e4e"/>
<circle cx="487.6" cy="210.3" r="1.18" fill="#2d2d2d"/>
<circle cx="486.7" cy="208.4" r="1.30" fill="#3f3f3f"/>
<circle cx="484.6" cy="206.5" r="0.93" fill="#696969"/>
<circle cx="439.8" cy="288.2" r="1.00" fill="#555555"/>
<circle cx="441.7" cy="290.3" r="1.11" fill="#606060"/>
<circle cx="439.7" cy="286.4" r="1.14" fill="#4b4b4b"/>
<circle cx="437.0" cy="293.2" r="1.11" fill="#7f7f7f"/>
<circle cx="442.0" cy="294.2" r="1.07" fill="#454545"/>
<circle cx="443.5" cy="286.6" r="1.28" fill="#828282"/>
<circle cx="442.5" cy="288.2" r="1.08" fill="#6f6f6f"/>
<circle cx="442.5" cy="289.9" r="1.08" fill="#656565"/>
<circle cx="437.7" cy="289.3" r="0.96" fill="#737373"/>
<circle cx="438.8" cy="289.4" r="1.25" fill="#4f4f4f"/>
<circle cx="442.0" cy="293.2" r="1.17" fill="#848484"/>
<circle cx="437.9" cy="289.9" r="1.23" fill="#868686"/>
<circle cx="439.8" cy="291.9" r="1.08" fill="#878787"/>
<circle cx="440.6" cy="287.6" r="1.30" fill="#7b7b7b"/>
<circle cx="438.6" cy="289.5" r="1.13" fill="#737373"/>
<circle cx="403.9" cy="301.7" r="0.91" fill="#757575"/>
<circle cx="409.4" cy="299.8" r="0.94" fill="#808080"/>
<circle cx="403.8" cy="297.0" r="1.11" fill="#828282"/>
<circle cx="407.1" cy="302.8" r="1.29" fill="#636363"/>
<circle cx="404.8" cy="303.0" r="0.92" fill="#696969"/>
<circle cx="409.9" cy="300.2" r="0.95" fill="#4e4e4e"/>
<circle cx="406.8" cy="298.3" r="1.24" fill="#565656"/>
<circle cx="401.9" cy="298.7" r="1.00" fill="#6f6f6f"/>
<circle cx="406.5" cy="304.8" r="1.26" fill="#424242"/>
<circle cx="403.0" cy="299.6" r="1.18" fill="#707070"/>
<circle cx="406.6" cy="297.3" r="1.06" fill="#696969"/>
<circle cx="403.5" cy="299.7" r="1.08" fill="#4b4b4b"/>
<circle cx="405.2" cy="303.9" r="0.99" fill="#5a5a5a"/>
<circle cx="404.0" cy="300.8" r="1.30" fill="#676767"/>
<circle cx="483.4" cy="298.9" r="1.26" fill="#898989"/>
<circle cx="479.6" cy="300.7" r="1.24" fill="#616161"/>
<circle cx="479.5" cy="301.4" r="0.99" fill="#737373"/>
<circle cx="481.1" cy="298.0" r="0.86" fill="#535353"/>
<circle cx="480.7" cy="301.5" r="0.87" fill="#5f5f5f"/>
<circle cx="478.4" cy="299.6" r="0.95" fill="#4d4d4d"/>
<circle cx="480.6" cy="300.0" r="1.09" fill="#525252"/>
<circle cx="477.6" cy="297.0" r="1.17" fill="#676767"/>
<circle cx="480.6" cy="296.3" r="0.87" fill="#737373"/>
<circle cx="479.7" cy="297.1" r="1.20" fill="#777777"/>
<circle cx="383.5" cy="246.5" r="0.93" fill="#4f4f4f"/>
<circle cx="381.0" cy="248.7" r="0.93" fill="#444444"/>
<circle cx="389.3" cy="254.3" r="1.06" fill="#3f3f3f"/>
<circle cx="388.8" cy="253.0" r="0.91" fill="#434343"/>
<circle cx="382.7" cy="261.6" r="0.87" fill="#3e3e3e"/>
<circle cx="388.2" cy="258.3" r="1.02" fill="#676767"/>
<circle cx="388.5" cy="256.2" r="0.99" fill="#383838"/>
<circle cx="385.6" cy="257.2" r="1.07" fill="#848484"/>
<circle cx="381.6" cy="254.0" r="4.50" fill="#191919"/>
<circle cx="386.4" cy="253.0" r="0.92" fill="#1a1a1a"/>
<circle cx="386.1" cy="252.5" r="1.34" fill="#3f3f3f"/>
<circle cx="381.8" cy="252.0" r="1.46" fill="#242424"/>
<circle cx="377.2" cy="251.2" r="1.39" fill="#3f3f3f"/>
<circle cx="376.7" cy="253.1" r="1.48" fill="#2f2f2f"/>
<circle cx="382.0" cy="251.6" r="1.39" fill="#1d1d1d"/>
<circle cx="378.6" cy="252.3" r="1.11" fill="#363636"/>
<circle cx="382.9" cy="249.4" r="1.19" fill="#1b1b1b"/>
<circle cx="379.5" cy="253.5" r="0.92" fill="#202020"/>
<circle cx="381.6" cy="249.5" r="1.30" fill="#353535"/>
<circle cx="383.1" cy="253.7" r="1.03" fill="#343434"/>
<circle cx="380.2" cy="255.9" r="0.84" fill="#171717"/>
<circle cx="379.0" cy="256.8" r="1.02" fill="#3e3e3e"/>
<circle cx="376.7" cy="255.4" r="1.44" fill="#292929"/>
<circle cx="380.7" cy="258.7" r="1.08" fill="#141414"/>
<circle cx="386.7" cy="254.2" r="1.01" fill="#1e1e1e"/>
<circle cx="377.5" cy="252.2" r="1.36" fill="#131313"/>
<circle cx="377.9" cy="256.3" r="1.01" fill="#292929"/>
<circle cx="384.2" cy="256.4" r="0.98" fill="#323232"/>
<circle cx="377.5" cy="255.9" r="0.97" fill="#353535"/>
<circle cx="382.2" cy="252.8" r="1.23" fill="#111111"/>
<circle cx="380.2" cy="252.7" r="0.99" fill="#141414"/>
<circle cx="376.8" cy="254.6" r="1.48" fill="#393939"/>
<circle cx="381.4" cy="252.8" r="0.90" fill="#242424"/>
<circle cx="385.4" cy="256.3" r="1.15" fill="#121212"/>
<circle cx="382.0" cy="259.2" r="1.43" fill="#343434"/>
<circle cx="382.2" cy="253.8" r="1.02" fill="#363636"/>
<circle cx="380.8" cy="255.8" r="1.50" fill="#383838"/>
<circle cx="383.9" cy="255.2" r="0.97" fill="#333333"/>
<circle cx="378.0" cy="254.3" r="0.88" fill="#141414"/>
<circle cx="379.5" cy="256.8" r="0.91" fill="#3f3f3f"/>
<circle cx="377.5" cy="250.8" r="1.44" fill="#191919"/>
<circle cx="382.4" cy="253.5" r="1.00" fill="#868686"/>
<circle cx="375.6" cy="252.1" r="1.15" fill="#7b7b7b"/>
<circle cx="375.9" cy="252.9" r="1.26" fill="#434343"/>
<circle cx="377.5" cy="248.6" r="1.26" fill="#848484"/>
<circle cx="378.4" cy="247.7" r="0.98" fill="#777777"/>
<circle cx="378.5" cy="251.5" r="2.55" fill="#232323"/>
<circle cx="380.0" cy="249.5" r="0.97" fill="#343434"/>
<circle cx="379.6" cy="249.3" r="1.48" fill="#4a4a4a"/>
<circle cx="377.5" cy="253.7" r="1.06" fill="#1e1e1e"/>
<circle cx="377.0" cy="250.9" r="1.08" fill="#464646"/>
<circle cx="377.2" cy="249.8" r="0.95" fill="#434343"/>
<circle cx="378.4" cy="250.3" r="0.97" fill="#282828"/>
<circle cx="380.9" cy="252.0" r="1.17" fill="#404040"/>
<circle cx="378.4" cy="249.9" r="1.35" fill="#252525"/>
<circle cx="379.6" cy="249.8" r="1.01" fill="#303030"/>
<circle cx="378.6" cy="254.1" r="1.03" fill="#242424"/>
<circle cx="376.2" cy="250.3" r="0.87" fill="#282828"/>
<circle cx="378.9" cy="254.2" r="0.85" fill="#242424"/>
<circle cx="376.2" cy="252.8" r="1.04" fill="#464646"/>
<circle cx="402.9" cy="249.0" r="1.15" fill="#6c6c6c"/>
<circle cx="404.8" cy="246.1" r="1.18" fill="#5a5a5a"/>
<circle cx="398.0" cy="248.8" r="0.91" fill="#6b6b6b"/>
<circle cx="406.4" cy="245.0" r="1.05" fill="#343434"/>
<circle cx="403.5" cy="241.2" r="0.91" fill="#808080"/>
<circle cx="395.5" cy="245.3" r="0.96" fill="#646464"/>
<circle cx="401.0" cy="244.3" r="3.40" fill="#141414"/>
<circle cx="397.4" cy="244.7" r="1.19" fill="#101010"/>
<circle cx="399.9" cy="243.6" r="0.84" fill="#383838"/>
<circle cx="402.1" cy="245.0" r="1.11" fill="#262626"/>
<circle cx="402.7" cy="243.5" r="1.43" fill="#191919"/>
<circle cx="400.6" cy="244.8" r="0.80" fill="#1d1d1d"/>
<circle cx="401.5" cy="247.2" r="1.03" fill="#0e0e0e"/>
<circle cx="401.8" cy="246.9" r="1.21" fill="#0d0d0d"/>
<circle cx="404.6" cy="243.0" r="1.41" fill="#1b1b1b"/>
<circle cx="397.5" cy="243.6" r="1.11" fill="#131313"/>
<circle cx="402.6" cy="246.4" r="1.14" fill="#212121"/>
<circle cx="398.4" cy="244.3" r="1.00" fill="#252525"/>
<circle cx="404.6" cy="243.7" r="1.19" fill="#0b0b0b"/>
<circle cx="398.5" cy="241.2" r="1.23" fill="#3b3b3b"/>
<circle cx="397.2" cy="244.6" r="1.19" fill="#2a2a2a"/>
<circle cx="400.9" cy="242.6" r="1.40" fill="#2c2c2c"/>
<circle cx="402.3" cy="242.4" r="1.01" fill="#1a1a1a"/>
<circle cx="399.8" cy="241.1" r="1.04" fill="#1e1e1e"/>
<circle cx="403.0" cy="240.8" r="1.35" fill="#272727"/>
<circle cx="398.0" cy="244.8" r="1.16" fill="#222222"/>
<circle cx="398.5" cy="242.7" r="1.09" fill="#303030"/>
<circle cx="403.6" cy="253.0" r="1.10" fill="#515151"/>
<circle cx="406.3" cy="248.1" r="1.25" fill="#838383"/>
<circle cx="405.4" cy="251.3" r="0.80" fill="#848484"/>
<circle cx="402.7" cy="252.5" r="1.11" fill="#414141"/>
<circle cx="405.6" cy="251.2" r="0.90" fill="#585858"/>
<circle cx="403.5" cy="249.0" r="2.38" fill="#1e1e1e"/>
<circle cx="405.1" cy="251.2" r="0.84" fill="#1c1c1c"/>
<circle cx="403.8" cy="248.5" r="1.49" fill="#444444"/>
<circle cx="404.7" cy="250.5" r="1.26" fill="#1e1e1e"/>
<circle cx="401.4" cy="248.5" r="1.02" fill="#353535"/>
<circle cx="402.4" cy="251.4" r="0.89" fill="#444444"/>
<circle cx="402.2" cy="247.7" r="1.21" fill="#393939"/>
<circle cx="402.9" cy="250.4" r="1.17" fill="#444444"/>
<circle cx="401.8" cy="247.1" r="1.19" fill="#151515"/>
<circle cx="405.1" cy="250.7" r="1.30" fill="#313131"/>
<circle cx="403.5" cy="246.9" r="1.48" fill="#2b2b2b"/>
<circle cx="401.1" cy="249.2" r="0.87" fill="#404040"/>
<circle cx="421.6" cy="232.4" r="0.82" fill="#626262"/>
<circle cx="412.1" cy="230.3" r="0.81" fill="#545454"/>
<circle cx="415.2" cy="229.3" r="0.88" fill="#5a5a5a"/>
<circle cx="413.0" cy="228.3" r="0.83" fill="#474747"/>
<circle cx="421.6" cy="230.1" r="1.19" fill="#686868"/>
<circle cx="421.3" cy="235.1" r="0.82" fill="#505050"/>
<circle cx="420.7" cy="234.3" r="1.21" fill="#787878"/>
<circle cx="416.2" cy="233.2" r="3.74" fill="#191919"/>
<circle cx="418.6" cy="235.0" r="0.81" fill="#272727"/>
<circle cx="414.6" cy="237.3" r="1.28" fill="#2d2d2d"/>
<circle cx="417.5" cy="236.2" r="0.99" fill="#262626"/>
<circle cx="420.3" cy="232.8" r="1.42" fill="#191919"/>
<circle cx="418.1" cy="230.3" r="1.24" fill="#2c2c2c"/>
<circle cx="414.7" cy="234.3" r="1.00" fill="#181818"/>
<circle cx="418.3" cy="235.1" r="1.25" fill="#3f3f3f"/>
<circle cx="414.9" cy="229.8" r="1.28" fill="#1b1b1b"/>
<circle cx="415.6" cy="229.3" r="1.01" fill="#202020"/>
<circle cx="415.9" cy="233.1" r="1.06" fill="#333333"/>
<circle cx="417.3" cy="235.0" r="1.38" fill="#2e2e2e"/>
<circle cx="418.1" cy="234.9" r="1.37" fill="#0f0f0f"/>
<circle cx="415.6" cy="229.5" r="0.85" fill="#1a1a1a"/>
<circle cx="418.6" cy="231.4" r="1.49" fill="#2c2c2c"/>
<circle cx="416.2" cy="235.2" r="1.46" fill="#2c2c2c"/>
<circle cx="413.7" cy="235.9" r="0.99" fill="#2c2c2c"/>
<circle cx="414.9" cy="232.2" r="1.42" fill="#191919"/>
<circle cx="415.0" cy="236.2" r="0.90" fill="#303030"/>
<circle cx="414.8" cy="234.5" r="0.84" fill="#3e3e3e"/>
<circle cx="414.5" cy="236.4" r="1.03" fill="#3a3a3a"/>
<circle cx="413.5" cy="230.9" r="0.87" fill="#393939"/>
<circle cx="414.0" cy="231.2" r="0.85" fill="#2f2f2f"/>
<circle cx="416.7" cy="236.0" r="1.39" fill="#101010"/>
<circle cx="424.6" cy="215.6" r="0.87" fill="#494949"/>
<circle cx="422.5" cy="207.9" r="1.21" fill="#565656"/>
<circle cx="422.2" cy="214.5" r="0.97" fill="#5b5b5b"/>
<circle cx="420.3" cy="208.4" r="1.16" fill="#585858"/>
<circle cx="426.5" cy="209.3" r="0.81" fill="#838383"/>
<circle cx="421.3" cy="207.9" r="1.28" fill="#636363"/>
<circle cx="423.2" cy="211.0" r="2.89" fill="#1e1e1e"/>
<circle cx="422.6" cy="212.8" r="0.98" fill="#151515"/>
<circle cx="421.2" cy="212.3" r="0.82" fill="#272727"/>
<circle cx="423.0" cy="207.7" r="0.99" fill="#242424"/>
<circle cx="425.8" cy="210.6" r="0.92" fill="#2c2c2c"/>
<circle cx="423.8" cy="212.7" r="0.95" fill="#3a3a3a"/>
<circle cx="421.7" cy="211.5" r="0.94" fill="#353535"/>
<circle cx="423.6" cy="213.1" r="1.15" fill="#3c3c3c"/>
<circle cx="420.7" cy="212.3" r="1.30" fill="#181818"/>
<circle cx="425.1" cy="209.4" r="1.12" fill="#252525"/>
<circle cx="423.1" cy="207.9" r="1.31" fill="#303030"/>
<circle cx="422.2" cy="210.3" r="1.07" fill="#161616"/>
<circle cx="425.3" cy="208.8" r="1.17" fill="#3e3e3e"/>
<circle cx="420.7" cy="210.5" r="1.44" fill="#373737"/>
<circle cx="422.4" cy="212.9" r="1.39" fill="#323232"/>
<circle cx="425.5" cy="211.3" r="0.92" fill="#3f3f3f"/>
<circle cx="410.0" cy="258.7" r="1.09" fill="#676767"/>
<circle cx="424.2" cy="264.8" r="1.06" fill="#6f6f6f"/>
<circle cx="423.4" cy="253.4" r="0.95" fill="#737373"/>
<circle cx="411.1" cy="253.8" r="0.91" fill="#5b5b5b"/>
<circle cx="414.9" cy="251.5" r="1.23" fill="#747474"/>
<circle cx="415.7" cy="253.6" r="0.94" fill="#7e7e7e"/>
<circle cx="422.9" cy="261.0" r="0.89" fill="#3c3c3c"/>
<circle cx="418.7" cy="250.9" r="1.27" fill="#3a3a3a"/>
<circle cx="422.4" cy="262.8" r="1.05" fill="#545454"/>
<circle cx="417.0" cy="259.6" r="5.10" fill="#141414"/>
<circle cx="415.6" cy="254.1" r="1.39" fill="#151515"/>
<circle cx="414.4" cy="263.3" r="1.30" fill="#3b3b3b"/>
<circle cx="414.3" cy="254.5" r="1.18" fill="#3b3b3b"/>
<circle cx="412.3" cy="255.9" r="1.34" fill="#1e1e1e"/>
<circle cx="418.3" cy="261.8" r="1.48" fill="#111111"/>
<circle cx="419.1" cy="263.5" r="0.97" fill="#0f0f0f"/>
<circle cx="412.2" cy="258.7" r="1.49" fill="#3b3b3b"/>
<circle cx="413.2" cy="262.7" r="1.41" fill="#222222"/>
<circle cx="418.9" cy="263.9" r="1.08" fill="#262626"/>
<circle cx="419.4" cy="261.1" r="1.45" fill="#1f1f1f"/>
<circle cx="413.5" cy="258.1" r="0.90" fill="#161616"/>
<circle cx="412.6" cy="258.2" r="1.10" fill="#141414"/>
<circle cx="415.8" cy="263.0" r="0.93" fill="#343434"/>
<circle cx="419.3" cy="263.1" r="0.94" fill="#181818"/>
<circle cx="416.0" cy="262.7" r="0.81" fill="#313131"/>
<circle cx="421.9" cy="261.1" r="1.25" fill="#2c2c2c"/>
<circle cx="417.7" cy="264.9" r="1.11" fill="#313131"/>
<circle cx="415.8" cy="257.0" r="1.22" fill="#0f0f0f"/>
<circle cx="419.1" cy="263.7" r="0.88" fill="#0a0a0a"/>
<circle cx="412.2" cy="259.9" r="1.32" fill="#0b0b0b"/>
<circle cx="421.9" cy="256.9" r="1.05" fill="#121212"/>
<circle cx="420.0" cy="261.3" r="1.28" fill="#313131"/>
<circle cx="418.6" cy="258.2" r="1.36" fill="#0e0e0e"/>
<circle cx="420.7" cy="255.7" r="1.16" fill="#181818"/>
<circle cx="421.3" cy="262.9" r="1.24" fill="#1e1e1e"/>
<circle cx="421.8" cy="263.1" r="1.45" fill="#353535"/>
<circle cx="414.7" cy="264.2" r="0.90" fill="#2f2f2f"/>
<circle cx="412.9" cy="259.0" r="1.23" fill="#2c2c2c"/>
<circle cx="420.0" cy="255.2" r="1.01" fill="#232323"/>
<circle cx="416.2" cy="257.0" r="1.18" fill="#1c1c1c"/>
<circle cx="419.3" cy="257.5" r="1.42" fill="#2d2d2d"/>
<circle cx="419.0" cy="260.3" r="1.33" fill="#0e0e0e"/>
<circle cx="416.0" cy="263.8" r="1.17" fill="#181818"/>
<circle cx="417.7" cy="253.9" r="1.35" fill="#191919"/>
<circle cx="422.7" cy="259.6" r="0.86" fill="#2e2e2e"/>
<circle cx="414.6" cy="258.8" r="1.13" fill="#0f0f0f"/>
<circle cx="420.1" cy="261.1" r="1.01" fill="#313131"/>
<circle cx="417.8" cy="265.2" r="1.17" fill="#222222"/>
<circle cx="413.1" cy="261.5" r="0.93" fill="#373737"/>
<circle cx="412.4" cy="259.6" r="1.19" fill="#363636"/>
<circle cx="422.4" cy="252.9" r="1.02" fill="#585858"/>
<circle cx="415.9" cy="259.5" r="1.28" fill="#5f5f5f"/>
<circle cx="430.4" cy="258.3" r="1.28" fill="#484848"/>
<circle cx="424.0" cy="267.1" r="0.90" fill="#3f3f3f"/>
<circle cx="417.5" cy="263.6" r="0.94" fill="#7b7b7b"/>
<circle cx="415.6" cy="256.4" r="0.85" fill="#535353"/>
<circle cx="430.0" cy="255.6" r="0.93" fill="#505050"/>
<circle cx="423.9" cy="250.8" r="1.27" fill="#616161"/>
<circle cx="431.1" cy="265.5" r="0.99" fill="#6c6c6c"/>
<circle cx="424.0" cy="260.0" r="5.52" fill="#141414"/>
<circle cx="427.5" cy="257.3" r="0.92" fill="#232323"/>
<circle cx="423.5" cy="259.4" r="0.93" fill="#363636"/>
<circle cx="425.4" cy="264.9" r="0.93" fill="#232323"/>
<circle cx="427.7" cy="263.6" r="1.31" fill="#191919"/>
<circle cx="426.9" cy="263.5" r="0.88" fill="#393939"/>
<circle cx="419.8" cy="262.1" r="0.94" fill="#2d2d2d"/>
<circle cx="422.4" cy="263.0" r="1.18" fill="#2a2a2a"/>
<circle cx="423.7" cy="257.4" r="0.80" fill="#0e0e0e"/>
<circle cx="423.6" cy="265.5" r="0.91" fill="#3a3a3a"/>
<circle cx="423.7" cy="259.8" r="0.93" fill="#1e1e1e"/>
<circle cx="426.0" cy="255.2" r="1.07" fill="#2c2c2c"/>
<circle cx="424.1" cy="263.0" r="1.41" fill="#0d0d0d"/>
<circle cx="421.2" cy="256.7" r="1.09" fill="#161616"/>
<circle cx="417.7" cy="259.1" r="0.99" fill="#2b2b2b"/>
<circle cx="418.1" cy="262.8" r="1.05" fill="#373737"/>
<circle cx="418.4" cy="261.2" r="1.09" fill="#383838"/>
<circle cx="420.7" cy="263.7" r="1.26" fill="#1c1c1c"/>
<circle cx="425.9" cy="265.7" r="1.27" fill="#202020"/>
<circle cx="428.1" cy="260.8" r="1.04" fill="#171717"/>
<circle cx="423.0" cy="255.9" r="1.50" fill="#0a0a0a"/>
<circle cx="422.1" cy="265.3" r="1.31" fill="#2d2d2d"/>
<circle cx="422.9" cy="266.1" r="1.26" fill="#363636"/>
<circle cx="423.9" cy="256.7" r="1.02" fill="#1c1c1c"/>
<circle cx="423.6" cy="253.9" r="0.94" fill="#111111"/>
<circle cx="419.4" cy="256.3" r="1.26" fill="#101010"/>
<circle cx="425.0" cy="264.4" r="1.14" fill="#252525"/>
<circle cx="420.8" cy="261.2" r="1.32" fill="#262626"/>
<circle cx="427.7" cy="263.4" r="0.92" fill="#222222"/>
<circle cx="418.6" cy="256.7" r="1.46" fill="#3a3a3a"/>
<circle cx="423.3" cy="255.1" r="1.09" fill="#292929"/>
<circle cx="426.3" cy="265.2" r="1.40" fill="#2c2c2c"/>
<circle cx="418.4" cy="258.0" r="1.39" fill="#222222"/>
<circle cx="422.2" cy="265.4" r="1.44" fill="#252525"/>
<circle cx="424.6" cy="261.6" r="1.06" fill="#131313"/>
<circle cx="425.3" cy="260.6" r="0.96" fill="#212121"/>
<circle cx="427.8" cy="257.9" r="1.07" fill="#373737"/>
<circle cx="423.4" cy="261.6" r="1.07" fill="#1a1a1a"/>
<circle cx="427.8" cy="262.7" r="0.90" fill="#222222"/>
<circle cx="427.3" cy="261.9" r="1.35" fill="#1b1b1b"/>
<circle cx="423.6" cy="257.8" r="1.17" fill="#353535"/>
<circle cx="425.0" cy="264.0" r="1.11" fill="#393939"/>
<circle cx="421.3" cy="259.3" r="1.17" fill="#3a3a3a"/>
<circle cx="420.2" cy="263.3" r="1.04" fill="#313131"/>
<circle cx="420.0" cy="259.3" r="1.01" fill="#171717"/>
<circle cx="417.8" cy="260.1" r="1.11" fill="#121212"/>
<circle cx="418.5" cy="260.2" r="1.23" fill="#272727"/>
<circle cx="428.4" cy="266.2" r="1.16" fill="#434343"/>
<circle cx="430.5" cy="255.3" r="1.14" fill="#6c6c6c"/>
<circle cx="428.6" cy="256.1" r="1.17" fill="#868686"/>
<circle cx="427.2" cy="265.7" r="1.29" fill="#626262"/>
<circle cx="427.0" cy="258.0" r="0.96" fill="#4a4a4a"/>
<circle cx="426.2" cy="265.1" r="0.99" fill="#818181"/>
<circle cx="433.2" cy="266.5" r="1.07" fill="#3d3d3d"/>
<circle cx="430.0" cy="261.5" r="3.82" fill="#1e1e1e"/>
<circle cx="432.8" cy="261.3" r="0.88" fill="#151515"/>
<circle cx="434.1" cy="260.6" r="1.10" fill="#222222"/>
<circle cx="431.2" cy="260.6" r="1.22" fill="#363636"/>
<circle cx="428.7" cy="257.7" r="1.02" fill="#1a1a1a"/>
<circle cx="434.3" cy="261.8" r="1.43" fill="#424242"/>
<circle cx="428.0" cy="261.1" r="1.27" fill="#222222"/>
<circle cx="432.0" cy="260.2" r="1.23" fill="#212121"/>
<circle cx="432.9" cy="258.0" r="1.30" fill="#2d2d2d"/>
<circle cx="431.2" cy="262.9" r="1.07" fill="#303030"/>
<circle cx="432.0" cy="259.7" r="1.13" fill="#1f1f1f"/>
<circle cx="426.8" cy="260.2" r="1.08" fill="#3d3d3d"/>
<circle cx="428.4" cy="264.4" r="1.33" fill="#414141"/>
<circle cx="428.2" cy="261.4" r="0.87" fill="#373737"/>
<circle cx="428.6" cy="262.3" r="0.89" fill="#212121"/>
<circle cx="428.8" cy="261.3" r="0.98" fill="#1e1e1e"/>
<circle cx="431.0" cy="262.1" r="1.28" fill="#272727"/>
<circle cx="427.2" cy="263.5" r="0.91" fill="#3e3e3e"/>
<circle cx="427.1" cy="259.9" r="1.02" fill="#2e2e2e"/>
<circle cx="429.1" cy="258.8" r="1.23" fill="#191919"/>
<circle cx="427.8" cy="265.1" r="0.90" fill="#303030"/>
<circle cx="428.0" cy="259.1" r="0.88" fill="#1c1c1c"/>
<circle cx="432.5" cy="259.3" r="1.43" fill="#1f1f1f"/>
<circle cx="428.0" cy="264.4" r="0.82" fill="#313131"/>
<circle cx="431.4" cy="261.9" r="0.88" fill="#1a1a1a"/>
<circle cx="427.2" cy="236.4" r="0.92" fill="#5f5f5f"/>
<circle cx="428.4" cy="232.6" r="1.25" fill="#797979"/>
<circle cx="435.4" cy="238.5" r="0.91" fill="#676767"/>
<circle cx="425.6" cy="234.3" r="0.82" fill="#818181"/>
<circle cx="437.2" cy="234.0" r="1.03" fill="#565656"/>
<circle cx="426.3" cy="233.6" r="0.86" fill="#7f7f7f"/>
<circle cx="431.5" cy="234.6" r="3.40" fill="#191919"/>
<circle cx="434.0" cy="233.9" r="1.04" fill="#404040"/>
<circle cx="434.2" cy="231.9" r="1.37" fill="#3c3c3c"/>
<circle cx="432.5" cy="233.4" r="1.44" fill="#404040"/>
<circle cx="433.5" cy="234.9" r="1.05" fill="#1e1e1e"/>
<circle cx="430.7" cy="232.1" r="1.44" fill="#343434"/>
<circle cx="434.7" cy="235.1" r="1.14" fill="#272727"/>
<circle cx="431.5" cy="230.7" r="0.86" fill="#3b3b3b"/>
<circle cx="430.7" cy="236.2" r="1.19" fill="#222222"/>
<circle cx="431.0" cy="237.7" r="0.85" fill="#151515"/>
<circle cx="428.8" cy="233.8" r="1.35" fill="#111111"/>
<circle cx="429.6" cy="233.4" r="1.24" fill="#1d1d1d"/>
<circle cx="430.4" cy="237.5" r="0.90" fill="#3e3e3e"/>
<circle cx="431.5" cy="238.6" r="1.09" fill="#313131"/>
<circle cx="429.8" cy="234.5" r="1.05" fill="#2d2d2d"/>
<circle cx="432.5" cy="234.8" r="1.13" fill="#333333"/>
<circle cx="431.2" cy="235.9" r="1.28" fill="#333333"/>
<circle cx="430.0" cy="235.9" r="1.35" fill="#2b2b2b"/>
<circle cx="430.0" cy="236.6" r="1.18" fill="#121212"/>
<circle cx="429.1" cy="235.0" r="1.22" fill="#171717"/>
<circle cx="433.6" cy="231.4" r="0.91" fill="#393939"/>
<circle cx="431.2" cy="240.2" r="1.13" fill="#6e6e6e"/>
<circle cx="435.8" cy="241.0" r="1.03" fill="#383838"/>
<circle cx="432.8" cy="243.7" r="0.94" fill="#727272"/>
<circle cx="430.6" cy="241.0" r="1.17" fill="#818181"/>
<circle cx="432.9" cy="241.0" r="1.70" fill="#191919"/>
<circle cx="431.1" cy="241.7" r="1.48" fill="#1a1a1a"/>
<circle cx="434.2" cy="240.2" r="1.32" fill="#3b3b3b"/>
<circle cx="433.2" cy="242.0" r="0.82" fill="#131313"/>
<circle cx="432.6" cy="239.2" r="1.39" fill="#111111"/>
<circle cx="434.4" cy="240.0" r="1.00" fill="#292929"/>
<circle cx="433.2" cy="241.5" r="0.86" fill="#252525"/>
<circle cx="431.4" cy="241.5" r="1.39" fill="#2c2c2c"/>
<circle cx="432.9" cy="241.8" r="1.50" fill="#242424"/>
<circle cx="441.9" cy="271.4" r="1.02" fill="#858585"/>
<circle cx="439.6" cy="262.9" r="0.96" fill="#747474"/>
<circle cx="436.7" cy="261.9" r="1.08" fill="#565656"/>
<circle cx="439.2" cy="270.9" r="1.25" fill="#828282"/>
<circle cx="433.0" cy="267.6" r="1.14" fill="#7c7c7c"/>
<circle cx="434.9" cy="268.7" r="0.86" fill="#6d6d6d"/>
<circle cx="438.4" cy="266.5" r="3.40" fill="#1e1e1e"/>
<circle cx="436.2" cy="268.8" r="1.44" fill="#151515"/>
<circle cx="441.2" cy="266.6" r="0.99" fill="#191919"/>
<circle cx="436.6" cy="265.7" r="1.29" fill="#1c1c1c"/>
<circle cx="441.4" cy="267.1" r="1.40" fill="#171717"/>
<circle cx="441.1" cy="263.8" r="1.26" fill="#171717"/>
<circle cx="435.6" cy="265.4" r="1.01" fill="#1b1b1b"/>
<circle cx="439.6" cy="265.9" r="1.29" fill="#171717"/>
<circle cx="438.7" cy="265.9" r="0.83" fill="#3e3e3e"/>
<circle cx="434.4" cy="266.8" r="1.42" fill="#323232"/>
<circle cx="436.8" cy="269.2" r="1.05" fill="#272727"/>
<circle cx="437.1" cy="270.0" r="1.29" fill="#3a3a3a"/>
<circle cx="437.5" cy="264.6" r="1.40" fill="#1a1a1a"/>
<circle cx="436.1" cy="269.4" r="1.15" fill="#161616"/>
<circle cx="435.6" cy="266.3" r="1.08" fill="#181818"/>
<circle cx="442.0" cy="267.8" r="1.30" fill="#424242"/>
<circle cx="436.0" cy="263.6" r="1.38" fill="#454545"/>
<circle cx="440.8" cy="268.2" r="1.44" fill="#313131"/>
<circle cx="440.6" cy="266.1" r="1.13" fill="#2d2d2d"/>
<circle cx="436.7" cy="268.7" r="1.26" fill="#171717"/>
<circle cx="436.3" cy="265.3" r="0.98" fill="#191919"/>
<circle cx="444.0" cy="268.4" r="0.83" fill="#878787"/>
<circle cx="442.7" cy="275.2" r="1.13" fill="#828282"/>
<circle cx="447.5" cy="270.1" r="1.27" fill="#474747"/>
<circle cx="445.9" cy="268.7" r="1.29" fill="#838383"/>
<circle cx="448.8" cy="271.9" r="0.85" fill="#909090"/>
<circle cx="445.3" cy="272.0" r="2.55" fill="#282828"/>
<circle cx="447.1" cy="273.0" r="1.47" fill="#323232"/>
<circle cx="446.1" cy="273.1" r="1.25" fill="#474747"/>
<circle cx="444.1" cy="269.9" r="0.82" fill="#4f4f4f"/>
<circle cx="445.8" cy="270.0" r="0.92" fill="#474747"/>
<circle cx="446.6" cy="273.5" r="1.22" fill="#4d4d4d"/>
<circle cx="446.0" cy="270.7" r="1.25" fill="#414141"/>
<circle cx="447.3" cy="273.7" r="1.28" fill="#393939"/>
<circle cx="447.7" cy="271.9" r="1.36" fill="#262626"/>
<circle cx="446.9" cy="274.2" r="1.46" fill="#262626"/>
<circle cx="444.5" cy="271.5" r="1.47" fill="#414141"/>
<circle cx="444.7" cy="269.4" r="1.00" fill="#282828"/>
<circle cx="445.8" cy="271.0" r="1.20" fill="#494949"/>
<circle cx="444.1" cy="270.8" r="1.09" fill="#202020"/>
<circle cx="440.3" cy="227.5" r="0.86" fill="#3f3f3f"/>
<circle cx="444.3" cy="230.0" r="1.12" fill="#4e4e4e"/>
<circle cx="445.2" cy="228.9" r="0.91" fill="#4a4a4a"/>
<circle cx="445.0" cy="230.4" r="1.06" fill="#808080"/>
<circle cx="442.6" cy="229.0" r="1.70" fill="#191919"/>
<circle cx="442.5" cy="230.0" r="1.12" fill="#111111"/>
<circle cx="443.0" cy="228.9" r="1.19" fill="#212121"/>
<circle cx="440.8" cy="229.5" r="1.46" fill="#121212"/>
<circle cx="441.1" cy="229.3" r="1.07" fill="#232323"/>
<circle cx="443.5" cy="229.2" r="1.18" fill="#2c2c2c"/>
<circle cx="441.0" cy="229.5" r="1.38" fill="#303030"/>
<circle cx="441.7" cy="229.0" r="0.87" fill="#353535"/>
<circle cx="443.2" cy="230.0" r="1.47" fill="#363636"/>
<circle cx="485.9" cy="278.8" r="0.95" fill="#484848"/>
<circle cx="498.2" cy="280.1" r="1.07" fill="#5a5a5a"/>
<circle cx="497.7" cy="278.3" r="0.95" fill="#606060"/>
<circle cx="491.6" cy="284.6" r="0.92" fill="#606060"/>
<circle cx="496.9" cy="282.0" r="1.26" fill="#5b5b5b"/>
<circle cx="497.6" cy="278.3" r="1.24" fill="#7b7b7b"/>
<circle cx="498.6" cy="269.6" r="0.99" fill="#717171"/>
<circle cx="495.8" cy="279.2" r="0.94" fill="#6d6d6d"/>
<circle cx="493.4" cy="284.3" r="1.27" fill="#484848"/>
<circle cx="481.8" cy="271.0" r="1.29" fill="#696969"/>
<circle cx="491.0" cy="274.8" r="5.78" fill="#191919"/>
<circle cx="487.0" cy="276.8" r="0.90" fill="#191919"/>
<circle cx="494.4" cy="280.1" r="0.91" fill="#262626"/>
<circle cx="490.4" cy="276.5" r="1.40" fill="#1e1e1e"/>
<circle cx="491.1" cy="274.1" r="1.33" fill="#3c3c3c"/>
<circle cx="491.3" cy="279.5" r="0.86" fill="#232323"/>
<circle cx="493.9" cy="270.4" r="0.95" fill="#393939"/>
<circle cx="494.4" cy="269.0" r="1.13" fill="#3d3d3d"/>
<circle cx="494.5" cy="273.5" r="0.87" fill="#242424"/>
<circle cx="488.6" cy="271.3" r="1.49" fill="#171717"/>
<circle cx="494.0" cy="269.8" r="0.91" fill="#404040"/>
<circle cx="486.5" cy="279.5" r="1.39" fill="#1f1f1f"/>
<circle cx="493.0" cy="270.2" r="0.89" fill="#2e2e2e"/>
<circle cx="488.8" cy="271.6" r="1.29" fill="#242424"/>
<circle cx="492.0" cy="268.8" r="1.31" fill="#3c3c3c"/>
<circle cx="491.6" cy="272.8" r="0.87" fill="#262626"/>
<circle cx="496.0" cy="273.7" r="1.03" fill="#303030"/>
<circle cx="494.1" cy="280.0" r="1.16" fill="#1f1f1f"/>
<circle cx="489.9" cy="271.6" r="0.82" fill="#363636"/>
<circle cx="495.1" cy="278.4" r="1.29" fill="#101010"/>
<circle cx="495.9" cy="270.6" r="1.40" fill="#393939"/>
<circle cx="491.7" cy="271.0" r="0.94" fill="#141414"/>
<circle cx="484.3" cy="275.5" r="1.30" fill="#1e1e1e"/>
<circle cx="486.7" cy="272.1" r="1.35" fill="#222222"/>
<circle cx="487.7" cy="280.5" r="0.85" fill="#323232"/>
<circle cx="489.2" cy="279.7" r="1.01" fill="#2b2b2b"/>
<circle cx="496.7" cy="275.5" r="1.07" fill="#353535"/>
<circle cx="493.6" cy="274.9" r="0.84" fill="#343434"/>
<circle cx="485.9" cy="274.6" r="1.44" fill="#2f2f2f"/>
<circle cx="488.7" cy="270.0" r="1.35" fill="#303030"/>
<circle cx="492.2" cy="279.2" r="1.04" fill="#131313"/>
<circle cx="484.7" cy="272.2" r="1.13" fill="#3c3c3c"/>
<circle cx="484.8" cy="274.1" r="0.82" fill="#202020"/>
<circle cx="487.8" cy="277.1" r="0.85" fill="#2f2f2f"/>
<circle cx="496.6" cy="273.0" r="1.47" fill="#131313"/>
<circle cx="496.2" cy="271.4" r="1.02" fill="#111111"/>
<circle cx="489.2" cy="270.6" r="1.34" fill="#383838"/>
<circle cx="497.0" cy="274.2" r="0.95" fill="#151515"/>
<circle cx="485.1" cy="278.0" r="1.36" fill="#3a3a3a"/>
<circle cx="490.1" cy="274.3" r="1.40" fill="#282828"/>
<circle cx="487.5" cy="269.8" r="1.43" fill="#1b1b1b"/>
<circle cx="491.2" cy="273.0" r="1.17" fill="#343434"/>
<circle cx="497.1" cy="272.0" r="0.92" fill="#313131"/>
<circle cx="490.3" cy="271.6" r="0.93" fill="#2f2f2f"/>
<circle cx="495.9" cy="278.7" r="1.41" fill="#2a2a2a"/>
<circle cx="489.3" cy="273.6" r="1.37" fill="#3c3c3c"/>
<circle cx="486.4" cy="270.6" r="0.92" fill="#313131"/>
<circle cx="496.2" cy="276.8" r="1.24" fill="#1f1f1f"/>
<circle cx="488.3" cy="274.9" r="1.34" fill="#1b1b1b"/>
<circle cx="491.9" cy="275.9" r="1.07" fill="#2f2f2f"/>
<circle cx="484.9" cy="273.8" r="1.15" fill="#2c2c2c"/>
<circle cx="467.4" cy="294.8" r="1.18" fill="#3f3f3f"/>
<circle cx="478.0" cy="290.8" r="0.93" fill="#373737"/>
<circle cx="476.3" cy="297.8" r="1.09" fill="#474747"/>
<circle cx="474.0" cy="289.0" r="1.25" fill="#383838"/>
<circle cx="477.8" cy="294.2" r="0.87" fill="#5e5e5e"/>
<circle cx="471.9" cy="287.9" r="1.23" fill="#6a6a6a"/>
<circle cx="468.0" cy="298.2" r="0.91" fill="#6c6c6c"/>
<circle cx="479.3" cy="292.9" r="1.27" fill="#818181"/>
<circle cx="473.0" cy="294.2" r="4.25" fill="#191919"/>
<circle cx="476.9" cy="295.3" r="1.16" fill="#373737"/>
<circle cx="469.3" cy="292.1" r="1.48" fill="#292929"/>
<circle cx="476.9" cy="293.6" r="0.82" fill="#2b2b2b"/>
<circle cx="471.8" cy="294.8" r="1.38" fill="#141414"/>
<circle cx="470.0" cy="296.8" r="1.43" fill="#1c1c1c"/>
<circle cx="468.8" cy="294.2" r="1.14" fill="#343434"/>
<circle cx="473.6" cy="294.6" r="1.47" fill="#323232"/>
<circle cx="473.0" cy="291.1" r="1.41" fill="#0f0f0f"/>
<circle cx="470.4" cy="292.1" r="1.49" fill="#2a2a2a"/>
<circle cx="468.7" cy="292.3" r="1.04" fill="#2e2e2e"/>
<circle cx="476.7" cy="296.0" r="1.19" fill="#1b1b1b"/>
<circle cx="468.8" cy="293.7" r="1.41" fill="#2e2e2e"/>
<circle cx="471.4" cy="292.1" r="1.00" fill="#3d3d3d"/>
<circle cx="475.4" cy="291.9" r="1.06" fill="#3f3f3f"/>
<circle cx="471.7" cy="291.5" r="1.32" fill="#202020"/>
<circle cx="475.0" cy="297.0" r="1.36" fill="#3e3e3e"/>
<circle cx="474.3" cy="290.1" r="1.06" fill="#131313"/>
<circle cx="471.1" cy="297.3" r="1.32" fill="#2e2e2e"/>
<circle cx="476.6" cy="295.2" r="1.18" fill="#282828"/>
<circle cx="470.6" cy="296.1" r="1.00" fill="#272727"/>
<circle cx="470.5" cy="298.2" r="1.27" fill="#161616"/>
<circle cx="472.3" cy="296.1" r="1.23" fill="#111111"/>
<circle cx="477.2" cy="294.3" r="1.07" fill="#1b1b1b"/>
<circle cx="471.8" cy="294.8" r="0.97" fill="#2e2e2e"/>
<circle cx="471.7" cy="297.0" r="1.40" fill="#353535"/>
<circle cx="472.9" cy="291.7" r="0.86" fill="#1c1c1c"/>
<circle cx="470.6" cy="297.4" r="1.27" fill="#353535"/>
<circle cx="475.0" cy="297.2" r="1.02" fill="#2f2f2f"/>
<circle cx="474.8" cy="294.8" r="1.30" fill="#383838"/>
<circle cx="474.8" cy="297.7" r="0.88" fill="#808080"/>
<circle cx="475.6" cy="300.9" r="1.20" fill="#838383"/>
<circle cx="477.5" cy="301.6" r="1.27" fill="#7d7d7d"/>
<circle cx="482.2" cy="297.5" r="0.90" fill="#4f4f4f"/>
<circle cx="478.8" cy="293.6" r="0.87" fill="#4a4a4a"/>
<circle cx="475.4" cy="300.1" r="1.30" fill="#8d8d8d"/>
<circle cx="478.0" cy="298.0" r="2.98" fill="#282828"/>
<circle cx="478.3" cy="296.1" r="1.16" fill="#292929"/>
<circle cx="476.3" cy="299.2" r="1.29" fill="#434343"/>
<circle cx="477.1" cy="300.0" r="1.14" fill="#313131"/>
<circle cx="479.6" cy="301.1" r="1.33" fill="#222222"/>
<circle cx="480.9" cy="297.1" r="0.89" fill="#393939"/>
<circle cx="478.6" cy="297.4" r="1.30" fill="#242424"/>
<circle cx="479.9" cy="295.9" r="0.94" fill="#484848"/>
<circle cx="479.3" cy="295.9" r="1.09" fill="#272727"/>
<circle cx="481.1" cy="297.4" r="0.93" fill="#454545"/>
<circle cx="476.0" cy="299.2" r="0.99" fill="#4c4c4c"/>
<circle cx="477.9" cy="298.4" r="1.09" fill="#272727"/>
<circle cx="478.2" cy="297.8" r="1.38" fill="#252525"/>
<circle cx="477.8" cy="297.8" r="1.27" fill="#2b2b2b"/>
<circle cx="474.7" cy="298.6" r="1.41" fill="#3f3f3f"/>
<circle cx="477.8" cy="301.4" r="1.26" fill="#2b2b2b"/>
<circle cx="480.1" cy="298.1" r="1.03" fill="#444444"/>
<circle cx="421.9" cy="300.0" r="0.87" fill="#454545"/>
<circle cx="416.4" cy="306.5" r="0.98" fill="#434343"/>
<circle cx="417.5" cy="303.1" r="0.80" fill="#444444"/>
<circle cx="416.7" cy="304.2" r="0.92" fill="#555555"/>
<circle cx="418.3" cy="302.1" r="1.25" fill="#828282"/>
<circle cx="417.5" cy="306.2" r="1.26" fill="#414141"/>
<circle cx="419.1" cy="310.0" r="0.97" fill="#7a7a7a"/>
<circle cx="426.3" cy="313.3" r="0.80" fill="#434343"/>
<circle cx="423.2" cy="306.6" r="4.25" fill="#191919"/>
<circle cx="418.4" cy="306.7" r="1.07" fill="#111111"/>
<circle cx="421.5" cy="304.2" r="0.90" fill="#404040"/>
<circle cx="425.2" cy="311.2" r="0.94" fill="#1e1e1e"/>
<circle cx="420.1" cy="309.7" r="1.21" fill="#1f1f1f"/>
<circle cx="425.6" cy="308.5" r="1.01" fill="#323232"/>
<circle cx="422.5" cy="302.4" r="0.97" fill="#202020"/>
<circle cx="421.4" cy="303.7" r="1.21" fill="#3f3f3f"/>
<circle cx="426.7" cy="309.3" r="0.90" fill="#232323"/>
<circle cx="426.0" cy="305.9" r="1.48" fill="#222222"/>
<circle cx="423.1" cy="305.0" r="0.83" fill="#252525"/>
<circle cx="425.9" cy="307.7" r="0.97" fill="#292929"/>
<circle cx="424.5" cy="303.6" r="1.30" fill="#323232"/>
<circle cx="427.4" cy="305.5" r="0.90" fill="#3f3f3f"/>
<circle cx="419.5" cy="309.2" r="1.29" fill="#272727"/>
<circle cx="422.5" cy="302.9" r="1.39" fill="#303030"/>
<circle cx="424.5" cy="305.7" r="1.32" fill="#171717"/>
<circle cx="420.5" cy="303.5" r="1.06" fill="#111111"/>
<circle cx="424.4" cy="307.7" r="0.97" fill="#272727"/>
<circle cx="424.0" cy="309.0" r="1.12" fill="#161616"/>
<circle cx="427.6" cy="307.3" r="1.21" fill="#2e2e2e"/>
<circle cx="426.3" cy="303.5" r="1.15" fill="#3c3c3c"/>
<circle cx="421.7" cy="310.4" r="1.48" fill="#3e3e3e"/>
<circle cx="422.0" cy="304.2" r="1.22" fill="#303030"/>
<circle cx="427.3" cy="307.0" r="1.29" fill="#242424"/>
<circle cx="428.1" cy="306.1" r="1.16" fill="#313131"/>
<circle cx="426.0" cy="310.6" r="1.48" fill="#191919"/>
<circle cx="420.6" cy="306.2" r="1.40" fill="#3b3b3b"/>
<circle cx="419.9" cy="308.3" r="1.49" fill="#313131"/>
<circle cx="425.2" cy="305.6" r="1.10" fill="#303030"/>
<circle cx="490.4" cy="313.9" r="1.06" fill="#7e7e7e"/>
<circle cx="493.7" cy="312.0" r="0.81" fill="#484848"/>
<circle cx="492.5" cy="304.4" r="0.90" fill="#4b4b4b"/>
<circle cx="485.3" cy="308.4" r="0.95" fill="#484848"/>
<circle cx="491.1" cy="312.8" r="0.84" fill="#525252"/>
<circle cx="496.9" cy="307.9" r="1.21" fill="#595959"/>
<circle cx="491.0" cy="308.0" r="3.40" fill="#1e1e1e"/>
<circle cx="488.0" cy="307.6" r="1.24" fill="#1f1f1f"/>
<circle cx="492.8" cy="310.5" r="1.32" fill="#3d3d3d"/>
<circle cx="489.0" cy="307.4" r="1.07" fill="#292929"/>
<circle cx="491.5" cy="304.8" r="1.25" fill="#171717"/>
<circle cx="488.4" cy="308.5" r="0.89" fill="#353535"/>
<circle cx="493.9" cy="306.6" r="1.19" fill="#191919"/>
<circle cx="489.7" cy="310.3" r="0.97" fill="#444444"/>
<circle cx="489.8" cy="309.8" r="1.39" fill="#414141"/>
<circle cx="488.9" cy="310.0" r="1.41" fill="#292929"/>
<circle cx="491.5" cy="308.8" r="0.91" fill="#353535"/>
<circle cx="493.9" cy="309.5" r="0.83" fill="#2f2f2f"/>
<circle cx="489.2" cy="309.4" r="1.22" fill="#3f3f3f"/>
<circle cx="493.4" cy="305.2" r="1.00" fill="#3b3b3b"/>
<circle cx="490.2" cy="311.4" r="1.37" fill="#303030"/>
<circle cx="492.8" cy="306.0" r="1.26" fill="#333333"/>
<circle cx="490.0" cy="305.6" r="1.17" fill="#2e2e2e"/>
<circle cx="493.6" cy="310.2" r="1.07" fill="#3e3e3e"/>
<circle cx="492.6" cy="310.2" r="1.12" fill="#353535"/>
<circle cx="490.4" cy="310.5" r="0.93" fill="#434343"/>
<circle cx="488.3" cy="310.5" r="1.16" fill="#2b2b2b"/>
<circle cx="386.0" cy="273.3" r="0.80" fill="#797979"/>
<circle cx="388.0" cy="266.1" r="1.18" fill="#8f8f8f"/>
<circle cx="388.1" cy="273.9" r="1.18" fill="#4d4d4d"/>
<circle cx="387.2" cy="267.5" r="1.10" fill="#797979"/>
<circle cx="385.8" cy="271.8" r="1.06" fill="#4a4a4a"/>
<circle cx="388.5" cy="270.6" r="2.55" fill="#282828"/>
<circle cx="388.2" cy="271.9" r="1.18" fill="#4a4a4a"/>
<circle cx="390.0" cy="270.5" r="1.15" fill="#2f2f2f"/>
<circle cx="387.6" cy="271.8" r="1.13" fill="#4b4b4b"/>
<circle cx="389.2" cy="272.8" r="0.85" fill="#474747"/>
<circle cx="386.4" cy="269.2" r="0.87" fill="#4d4d4d"/>
<circle cx="387.2" cy="268.3" r="1.50" fill="#373737"/>
<circle cx="387.5" cy="269.9" r="1.06" fill="#393939"/>
<circle cx="387.4" cy="272.3" r="0.91" fill="#2c2c2c"/>
<circle cx="389.9" cy="269.7" r="1.31" fill="#373737"/>
<circle cx="387.5" cy="272.7" r="0.95" fill="#363636"/>
<circle cx="388.0" cy="273.2" r="0.96" fill="#434343"/>
<circle cx="389.1" cy="272.4" r="1.42" fill="#2d2d2d"/>
<circle cx="390.5" cy="268.5" r="1.34" fill="#3f3f3f"/>
<circle cx="467.9" cy="232.1" r="1.10" fill="#787878"/>
<circle cx="468.3" cy="233.2" r="0.90" fill="#7c7c7c"/>
<circle cx="465.1" cy="231.1" r="0.99" fill="#737373"/>
<circle cx="466.0" cy="233.2" r="1.36" fill="#1e1e1e"/>
<circle cx="464.5" cy="233.7" r="0.99" fill="#373737"/>
<circle cx="465.2" cy="233.7" r="1.43" fill="#171717"/>
<circle cx="465.6" cy="234.6" r="0.82" fill="#343434"/>
<circle cx="465.7" cy="233.5" r="0.88" fill="#2a2a2a"/>
<circle cx="465.7" cy="234.1" r="0.85" fill="#393939"/>
<circle cx="466.2" cy="233.0" r="0.83" fill="#1b1b1b"/>
<circle cx="481.7" cy="263.8" r="1.21" fill="#6e6e6e"/>
<circle cx="483.9" cy="267.3" r="0.85" fill="#757575"/>
<circle cx="484.7" cy="262.7" r="0.99" fill="#7a7a7a"/>
<circle cx="485.5" cy="266.1" r="1.28" fill="#888888"/>
<circle cx="484.0" cy="265.0" r="1.53" fill="#1e1e1e"/>
<circle cx="482.9" cy="265.7" r="1.21" fill="#1a1a1a"/>
<circle cx="484.2" cy="264.5" r="1.28" fill="#232323"/>
<circle cx="485.2" cy="265.6" r="1.14" fill="#1d1d1d"/>
<circle cx="484.6" cy="264.9" r="1.30" fill="#1e1e1e"/>
<circle cx="484.3" cy="264.5" r="1.05" fill="#3f3f3f"/>
<circle cx="485.1" cy="263.9" r="1.49" fill="#202020"/>
<circle cx="484.1" cy="263.7" r="0.81" fill="#2f2f2f"/>
<circle cx="424.2" cy="287.8" r="0.95" fill="#5e5e5e"/>
<circle cx="425.7" cy="289.0" r="1.29" fill="#505050"/>
<circle cx="424.6" cy="288.2" r="1.28" fill="#868686"/>
<circle cx="426.0" cy="287.3" r="1.36" fill="#282828"/>
<circle cx="426.8" cy="286.2" r="1.45" fill="#313131"/>
<circle cx="427.3" cy="286.8" r="0.83" fill="#494949"/>
<circle cx="426.4" cy="287.9" r="1.09" fill="#4c4c4c"/>
<circle cx="426.7" cy="288.0" r="0.94" fill="#343434"/>
<circle cx="425.6" cy="287.0" r="1.19" fill="#272727"/>
<circle cx="426.6" cy="286.7" r="1.49" fill="#3b3b3b"/>
</g></g>
<rect x="365.7" y="201.4" width="141.0" height="114.1" fill="none" stroke="#111" stroke-width="1.6"/>
<clipPath id="clWT"><rect x="36.3" y="408.2" width="140.89999999999998" height="142.59999999999997"/></clipPath>
<g clip-path="url(#clWT)">
<polyline points="36.90,352.38 37.25,371.75 37.60,450.91 37.95,515.38 38.30,541.49 38.65,547.42 39.00,548.43 39.35,548.34 39.70,548.44 40.05,548.32 40.40,548.39 40.75,548.36 41.10,548.36 41.45,548.36 41.80,548.29 42.15,548.25 42.50,548.41 42.85,548.30 43.20,548.28 43.55,548.40 43.90,548.47 44.25,548.38 44.60,548.31 44.95,548.37 45.30,548.45 45.65,548.32 46.00,548.42 46.35,548.28 46.70,548.46 47.05,548.35 47.40,548.40 47.75,548.25 48.10,548.47 48.45,548.28 48.80,548.40 49.15,548.41 49.50,548.45 49.85,548.38 50.20,548.27 50.55,548.25 50.90,548.27 51.25,548.35 51.60,548.44 51.95,548.37 52.30,548.34 52.65,548.43 53.00,548.25 53.35,548.48 53.70,548.44 54.05,548.45 54.40,548.46 54.75,548.48 55.10,548.44 55.45,548.41 55.80,548.27 56.15,548.36 56.50,548.34 56.85,548.41 57.20,548.46 57.55,548.36 57.90,548.32 58.25,548.48 58.60,548.34 58.95,548.45 59.30,548.33 59.65,548.41 60.00,548.46 60.35,548.46 60.70,548.30 61.05,548.36 61.40,548.48 61.75,548.27 62.10,548.43 62.45,548.43 62.80,548.50 63.15,548.42 63.50,548.36 63.85,548.28 64.20,548.43 64.55,548.38 64.90,548.48 65.25,548.33 65.60,548.42 65.95,548.41 66.30,548.43 66.65,548.30 67.00,548.25 67.35,548.46 67.70,548.36 68.05,548.36 68.40,547.95 68.75,547.20 69.10,545.10 69.45,540.44 69.80,532.32 70.15,518.74 70.50,498.95 70.85,474.63 71.20,448.82 71.55,427.65 71.90,416.79 72.25,419.73 72.60,435.40 72.95,459.21 73.30,484.73 73.65,507.05 74.00,523.28 74.35,533.69 74.70,539.38 75.05,541.98 75.40,543.27 75.75,543.53 76.10,543.56 76.45,543.50 76.80,543.37 77.15,543.40 77.50,543.24 77.85,543.28 78.20,543.39 78.55,543.20 78.90,543.11 79.25,542.79 79.60,542.42 79.95,541.67 80.30,540.38 80.65,538.36 81.00,535.55 81.35,531.79 81.70,527.39 82.05,522.96 82.40,518.80 82.75,516.01 83.10,514.99 83.45,515.94 83.80,518.68 84.15,522.75 84.50,527.22 84.85,531.65 85.20,535.18 85.55,538.09 85.90,540.05 86.25,541.29 86.60,542.19 86.95,542.53 87.30,542.66 87.65,542.59 88.00,542.45 88.35,542.23 88.70,541.97 89.05,541.65 89.40,541.25 89.75,540.71 90.10,539.65 90.45,538.22 90.80,536.08 91.15,533.40 91.50,529.50 91.85,525.14 92.20,520.15 92.55,515.50 92.90,511.75 93.25,509.44 93.60,508.71 93.95,510.09 94.30,512.94 94.65,517.06 95.00,521.53 95.35,525.65 95.70,529.36 96.05,532.39 96.40,534.53 96.75,535.81 97.10,536.51 97.45,537.21 97.80,537.30 98.15,537.39 98.50,536.97 98.85,536.56 99.20,535.43 99.55,533.97 99.90,531.73 100.25,528.28 100.60,523.77 100.95,518.14 101.30,511.40 101.65,503.80 102.00,496.10 102.35,488.97 102.70,483.25 103.05,479.47 103.40,478.09 103.75,479.38 104.10,483.35 104.45,489.05 104.80,496.19 105.15,504.05 105.50,511.62 105.85,518.31 106.20,524.14 106.55,528.49 106.90,531.96 107.25,534.38 107.60,535.84 107.95,536.88 108.30,537.47 108.65,537.82 109.00,537.60 109.35,537.06 109.70,535.91 110.05,534.47 110.40,532.21 110.75,529.01 111.10,525.08 111.45,520.23 111.80,514.92 112.15,509.31 112.50,503.64 112.85,498.70 113.20,495.04 113.55,492.95 113.90,492.80 114.25,494.39 114.60,497.62 114.95,502.25 115.30,507.95 115.65,513.77 116.00,519.81 116.35,525.09 116.70,529.68 117.05,533.33 117.40,536.32 117.75,538.41 118.10,540.11 118.45,541.02 118.80,541.71 119.15,542.29 119.50,542.57 119.85,542.60 120.20,542.44 120.55,542.01 120.90,541.08 121.25,540.06 121.60,538.31 121.95,536.42 122.30,534.40 122.65,532.72 123.00,531.39 123.35,530.98 123.70,531.71 124.05,533.03 124.40,535.15 124.75,537.37 125.10,539.70 125.45,541.92 125.80,543.65 126.15,545.19 126.50,546.32 126.85,547.28 127.20,547.86 127.55,548.17 127.90,548.33 128.25,548.42 128.60,548.49 128.95,548.31 129.30,548.43 129.65,548.47 130.00,548.37 130.35,548.32 130.70,548.36 131.05,548.50 131.40,548.27 131.75,548.40 132.10,548.35 132.45,548.43 132.80,548.41 133.15,548.47 133.50,548.30 133.85,548.46 134.20,548.35 134.55,548.31 134.90,548.25 135.25,548.49 135.60,548.32 135.95,548.42 136.30,548.50 136.65,548.36 137.00,548.40 137.35,548.39 137.70,548.46 138.05,548.46 138.40,548.47 138.75,548.38 139.10,548.49 139.45,548.27 139.80,548.33 140.15,548.27 140.50,548.32 140.85,548.29 141.20,548.28 141.55,548.31 141.90,548.32 142.25,548.39 142.60,548.29 142.95,548.28 143.30,548.33 143.65,548.26 144.00,548.30 144.35,548.45 144.70,548.25 145.05,548.45 145.40,548.45 145.75,548.33 146.10,548.26 146.45,548.32 146.80,548.46 147.15,548.42 147.50,548.41 147.85,548.31 148.20,548.47 148.55,548.31 148.90,548.44 149.25,548.49 149.60,548.27 149.95,548.29 150.30,548.30 150.65,548.29 151.00,548.37 151.35,548.28 151.70,548.35 152.05,548.38 152.40,548.31 152.75,548.30 153.10,548.34 153.45,548.41 153.80,548.37 154.15,548.46 154.50,548.40 154.85,548.33 155.20,548.31 155.55,548.37 155.90,548.38 156.25,548.29 156.60,548.36 156.95,548.36 157.30,548.47 157.65,548.30 158.00,548.28 158.35,548.25 158.70,548.31 159.05,548.49 159.40,548.40 159.75,548.44 160.10,548.34 160.45,548.46 160.80,548.36 161.15,548.26 161.50,548.32 161.85,548.41 162.20,548.30 162.55,548.40 162.90,548.31 163.25,548.44 163.60,548.28 163.95,548.39 164.30,548.49 164.65,548.43 165.00,548.39 165.35,548.44 165.70,548.34 166.05,548.44 166.40,548.37 166.75,548.31 167.10,548.37 167.45,548.44 167.80,548.32 168.15,548.35 168.50,548.34 168.85,548.39 169.20,548.39 169.55,548.29 169.90,548.41 170.25,548.40 170.60,548.25 170.95,548.30 171.30,548.47 171.65,548.30 172.00,548.38 172.35,548.32 172.70,548.37 173.05,548.42 173.40,548.42 173.75,548.37 174.10,548.27 174.45,548.45 174.80,548.46 175.15,548.30 175.50,548.38 175.85,548.40 176.20,548.35 176.55,548.39" fill="none" stroke="#000" stroke-width="1.5" stroke-linejoin="round" />
</g>
<rect x="36.3" y="408.2" width="140.89999999999998" height="141.49999999999994" fill="none" stroke="#111" stroke-width="1.2"/>
<line x1="33.00" y1="549.70" x2="36.30" y2="549.70" stroke="#111" stroke-width="1.0" />
<text x="30.90" y="552.00" font-family='"Liberation Serif", serif' font-size="6.8" text-anchor="end" font-weight="normal" font-style="normal" fill="#000" stroke="#000" stroke-width="0.15">0</text>
<line x1="33.00" y1="504.86" x2="36.30" y2="504.86" stroke="#111" stroke-width="1.0" />
<text x="30.90" y="507.16" font-family='"Liberation Serif", serif' font-size="6.8" text-anchor="end" font-weight="normal" font-style="normal" fill="#000" stroke="#000" stroke-width="0.15">50</text>
<line x1="33.00" y1="460.03" x2="36.30" y2="460.03" stroke="#111" stroke-width="1.0" />
<text x="30.90" y="462.33" font-family='"Liberation Serif", serif' font-size="6.8" text-anchor="end" font-weight="normal" font-style="normal" fill="#000" stroke="#000" stroke-width="0.15">100</text>
<line x1="33.00" y1="415.19" x2="36.30" y2="415.19" stroke="#111" stroke-width="1.0" />
<text x="30.90" y="417.49" font-family='"Liberation Serif", serif' font-size="6.8" text-anchor="end" font-weight="normal" font-style="normal" fill="#000" stroke="#000" stroke-width="0.15">150</text>
<line x1="34.70" y1="549.70" x2="36.30" y2="549.70" stroke="#111" stroke-width="0.9" />
<line x1="34.70" y1="540.73" x2="36.30" y2="540.73" stroke="#111" stroke-width="0.9" />
<line x1="34.70" y1="531.77" x2="36.30" y2="531.77" stroke="#111" stroke-width="0.9" />
<line x1="34.70" y1="522.80" x2="36.30" y2="522.80" stroke="#111" stroke-width="0.9" />
<line x1="34.70" y1="513.83" x2="36.30" y2="513.83" stroke="#111" stroke-width="0.9" />
<line x1="34.70" y1="504.86" x2="36.30" y2="504.86" stroke="#111" stroke-width="0.9" />
<line x1="34.70" y1="495.90" x2="36.30" y2="495.90" stroke="#111" stroke-width="0.9" />
<line x1="34.70" y1="486.93" x2="36.30" y2="486.93" stroke="#111" stroke-width="0.9" />
<line x1="34.70" y1="477.96" x2="36.30" y2="477.96" stroke="#111" stroke-width="0.9" />
<line x1="34.70" y1="469.00" x2="36.30" y2="469.00" stroke="#111" stroke-width="0.9" />
<line x1="34.70" y1="460.03" x2="36.30" y2="460.03" stroke="#111" stroke-width="0.9" />
<line x1="34.70" y1="451.06" x2="36.30" y2="451.06" stroke="#111" stroke-width="0.9" />
<line x1="34.70" y1="442.10" x2="36.30" y2="442.10" stroke="#111" stroke-width="0.9" />
<line x1="34.70" y1="433.13" x2="36.30" y2="433.13" stroke="#111" stroke-width="0.9" />
<line x1="34.70" y1="424.16" x2="36.30" y2="424.16" stroke="#111" stroke-width="0.9" />
<line x1="34.70" y1="415.19" x2="36.30" y2="415.19" stroke="#111" stroke-width="0.9" />
<line x1="36.30" y1="549.70" x2="36.30" y2="553.70" stroke="#111" stroke-width="1.1" />
<text x="36.30" y="562.80" font-family='"Liberation Serif", serif' font-size="6.8" text-anchor="middle" fill="#000" stroke="#000" stroke-width="0.12">10<tspan font-size="4.90" dy="-3.06">0</tspan></text>
<line x1="46.85" y1="549.70" x2="46.85" y2="551.90" stroke="#111" stroke-width="0.9" />
<line x1="53.02" y1="549.70" x2="53.02" y2="551.90" stroke="#111" stroke-width="0.9" />
<line x1="57.40" y1="549.70" x2="57.40" y2="551.90" stroke="#111" stroke-width="0.9" />
<line x1="60.80" y1="549.70" x2="60.80" y2="551.90" stroke="#111" stroke-width="0.9" />
<line x1="63.57" y1="549.70" x2="63.57" y2="551.90" stroke="#111" stroke-width="0.9" />
<line x1="65.92" y1="549.70" x2="65.92" y2="551.90" stroke="#111" stroke-width="0.9" />
<line x1="67.95" y1="549.70" x2="67.95" y2="551.90" stroke="#111" stroke-width="0.9" />
<line x1="69.75" y1="549.70" x2="69.75" y2="551.90" stroke="#111" stroke-width="0.9" />
<line x1="71.35" y1="549.70" x2="71.35" y2="553.70" stroke="#111" stroke-width="1.1" />
<text x="71.35" y="562.80" font-family='"Liberation Serif", serif' font-size="6.8" text-anchor="middle" fill="#000" stroke="#000" stroke-width="0.12">10<tspan font-size="4.90" dy="-3.06">1</tspan></text>
<line x1="81.90" y1="549.70" x2="81.90" y2="551.90" stroke="#111" stroke-width="0.9" />
<line x1="88.07" y1="549.70" x2="88.07" y2="551.90" stroke="#111" stroke-width="0.9" />
<line x1="92.45" y1="549.70" x2="92.45" y2="551.90" stroke="#111" stroke-width="0.9" />
<line x1="95.85" y1="549.70" x2="95.85" y2="551.90" stroke="#111" stroke-width="0.9" />
<line x1="98.62" y1="549.70" x2="98.62" y2="551.90" stroke="#111" stroke-width="0.9" />
<line x1="100.97" y1="549.70" x2="100.97" y2="551.90" stroke="#111" stroke-width="0.9" />
<line x1="103.00" y1="549.70" x2="103.00" y2="551.90" stroke="#111" stroke-width="0.9" />
<line x1="104.80" y1="549.70" x2="104.80" y2="551.90" stroke="#111" stroke-width="0.9" />
<line x1="106.40" y1="549.70" x2="106.40" y2="553.70" stroke="#111" stroke-width="1.1" />
<text x="106.40" y="562.80" font-family='"Liberation Serif", serif' font-size="6.8" text-anchor="middle" fill="#000" stroke="#000" stroke-width="0.12">10<tspan font-size="4.90" dy="-3.06">2</tspan></text>
<line x1="116.95" y1="549.70" x2="116.95" y2="551.90" stroke="#111" stroke-width="0.9" />
<line x1="123.12" y1="549.70" x2="123.12" y2="551.90" stroke="#111" stroke-width="0.9" />
<line x1="127.50" y1="549.70" x2="127.50" y2="551.90" stroke="#111" stroke-width="0.9" />
<line x1="130.90" y1="549.70" x2="130.90" y2="551.90" stroke="#111" stroke-width="0.9" />
<line x1="133.67" y1="549.70" x2="133.67" y2="551.90" stroke="#111" stroke-width="0.9" />
<line x1="136.02" y1="549.70" x2="136.02" y2="551.90" stroke="#111" stroke-width="0.9" />
<line x1="138.05" y1="549.70" x2="138.05" y2="551.90" stroke="#111" stroke-width="0.9" />
<line x1="139.85" y1="549.70" x2="139.85" y2="551.90" stroke="#111" stroke-width="0.9" />
<line x1="141.45" y1="549.70" x2="141.45" y2="553.70" stroke="#111" stroke-width="1.1" />
<text x="141.45" y="562.80" font-family='"Liberation Serif", serif' font-size="6.8" text-anchor="middle" fill="#000" stroke="#000" stroke-width="0.12">10<tspan font-size="4.90" dy="-3.06">3</tspan></text>
<line x1="152.00" y1="549.70" x2="152.00" y2="551.90" stroke="#111" stroke-width="0.9" />
<line x1="158.17" y1="549.70" x2="158.17" y2="551.90" stroke="#111" stroke-width="0.9" />
<line x1="162.55" y1="549.70" x2="162.55" y2="551.90" stroke="#111" stroke-width="0.9" />
<line x1="165.95" y1="549.70" x2="165.95" y2="551.90" stroke="#111" stroke-width="0.9" />
<line x1="168.72" y1="549.70" x2="168.72" y2="551.90" stroke="#111" stroke-width="0.9" />
<line x1="171.07" y1="549.70" x2="171.07" y2="551.90" stroke="#111" stroke-width="0.9" />
<line x1="173.10" y1="549.70" x2="173.10" y2="551.90" stroke="#111" stroke-width="0.9" />
<line x1="174.90" y1="549.70" x2="174.90" y2="551.90" stroke="#111" stroke-width="0.9" />
<line x1="176.50" y1="549.70" x2="176.50" y2="553.70" stroke="#111" stroke-width="1.1" />
<text x="176.50" y="562.80" font-family='"Liberation Serif", serif' font-size="6.8" text-anchor="middle" fill="#000" stroke="#000" stroke-width="0.12">10<tspan font-size="4.90" dy="-3.06">4</tspan></text>
<text x="109.70" y="402.60" font-family='"Liberation Serif", serif' font-size="14.6" text-anchor="middle" font-weight="normal" font-style="normal" fill="#000" >WT</text>
<text x="57.80" y="448.60" font-family='"Liberation Serif", serif' font-size="12.0" text-anchor="start" font-weight="normal" font-style="normal" fill="#000" >2n</text>
<text x="78.00" y="497.70" font-family='"Liberation Serif", serif' font-size="12.0" text-anchor="start" font-weight="normal" font-style="normal" fill="#000" >4n</text>
<text x="87.20" y="510.00" font-family='"Liberation Serif", serif' font-size="12.0" text-anchor="start" font-weight="normal" font-style="normal" fill="#000" >8n</text>
<text x="95.30" y="473.00" font-family='"Liberation Serif", serif' font-size="12.0" text-anchor="start" font-weight="normal" font-style="normal" fill="#000" >16n</text>
<text x="110.40" y="489.20" font-family='"Liberation Serif", serif' font-size="12.0" text-anchor="start" font-weight="normal" font-style="normal" fill="#000" >32n</text>
<text x="118.80" y="528.50" font-family='"Liberation Serif", serif' font-size="12.0" text-anchor="start" font-weight="normal" font-style="normal" fill="#000" >64n</text>
<clipPath id="clKO1"><rect x="205.8" y="408.2" width="141.5" height="142.40000000000003"/></clipPath>
<g clip-path="url(#clKO1)">
<polyline points="206.40,490.14 206.75,478.97 207.10,497.70 207.45,525.61 207.80,541.91 208.15,547.21 208.50,547.95 208.85,548.16 209.20,548.28 209.55,548.12 209.90,548.24 210.25,548.06 210.60,548.13 210.95,548.25 211.30,548.06 211.65,548.22 212.00,548.06 212.35,548.30 212.70,548.23 213.05,548.14 213.40,548.23 213.75,548.22 214.10,548.27 214.45,548.15 214.80,548.09 215.15,548.22 215.50,548.13 215.85,548.17 216.20,548.13 216.55,548.05 216.90,548.17 217.25,548.21 217.60,548.18 217.95,548.12 218.30,548.05 218.65,548.05 219.00,548.22 219.35,548.28 219.70,548.06 220.05,548.25 220.40,548.13 220.75,548.26 221.10,548.17 221.45,548.12 221.80,548.06 222.15,548.21 222.50,548.19 222.85,548.10 223.20,548.17 223.55,548.27 223.90,548.22 224.25,548.24 224.60,548.11 224.95,548.14 225.30,548.28 225.65,548.18 226.00,548.11 226.35,548.09 226.70,548.12 227.05,548.15 227.40,548.18 227.75,548.06 228.10,548.18 228.45,548.24 228.80,548.22 229.15,548.21 229.50,548.20 229.85,548.23 230.20,548.21 230.55,548.08 230.90,548.26 231.25,548.27 231.60,548.24 231.95,548.26 232.30,548.05 232.65,548.09 233.00,548.09 233.35,548.30 233.70,548.13 234.05,548.12 234.40,548.25 234.75,548.23 235.10,548.17 235.45,548.20 235.80,548.20 236.15,548.17 236.50,548.10 236.85,548.11 237.20,548.08 237.55,548.09 237.90,548.22 238.25,547.95 238.60,547.17 238.95,545.68 239.30,542.99 239.65,537.47 240.00,527.67 240.35,511.88 240.70,489.39 241.05,462.39 241.40,436.57 241.75,419.24 242.10,415.57 242.45,427.39 242.80,450.33 243.15,477.24 243.50,502.11 243.85,520.48 244.20,532.32 244.55,538.56 244.90,541.74 245.25,542.69 245.60,543.10 245.95,543.11 246.30,543.11 246.65,543.03 247.00,542.85 247.35,542.89 247.70,542.69 248.05,542.73 248.40,542.61 248.75,542.49 249.10,542.39 249.45,541.81 249.80,540.84 250.15,538.79 250.50,535.24 250.85,529.44 251.20,521.83 251.55,512.39 251.90,502.40 252.25,494.06 252.60,489.01 252.95,488.62 253.30,492.98 253.65,500.96 254.00,510.71 254.35,520.19 254.70,528.17 255.05,533.83 255.40,537.65 255.75,539.67 256.10,540.73 256.45,540.98 256.80,540.61 257.15,540.29 257.50,539.50 257.85,539.17 258.20,539.45 258.55,539.93 258.90,540.44 259.25,540.80 259.60,540.53 259.95,539.68 260.30,537.71 260.65,534.79 261.00,530.70 261.35,525.62 261.70,519.99 262.05,514.98 262.40,511.16 262.75,509.67 263.10,510.54 263.45,513.85 263.80,518.86 264.15,524.43 264.50,529.87 264.85,534.63 265.20,537.96 265.55,540.35 265.90,541.81 266.25,542.69 266.60,543.06 266.95,543.32 267.30,543.39 267.65,543.51 268.00,543.22 268.35,542.83 268.70,541.88 269.05,540.75 269.40,539.08 269.75,536.53 270.10,533.79 270.45,530.48 270.80,527.40 271.15,524.78 271.50,522.97 271.85,522.48 272.20,523.58 272.55,525.69 272.90,528.45 273.25,531.80 273.60,535.10 273.95,538.02 274.30,540.51 274.65,542.29 275.00,543.48 275.35,544.16 275.70,544.78 276.05,544.91 276.40,545.25 276.75,545.12 277.10,545.22 277.45,545.21 277.80,545.19 278.15,544.90 278.50,544.50 278.85,544.00 279.20,543.26 279.55,542.19 279.90,540.91 280.25,539.74 280.60,538.24 280.95,537.17 281.30,536.20 281.65,535.91 282.00,535.82 282.35,536.55 282.70,537.59 283.05,538.95 283.40,540.51 283.75,542.02 284.10,543.26 284.45,544.53 284.80,545.40 285.15,546.07 285.50,546.62 285.85,546.78 286.20,547.02 286.55,547.12 286.90,547.37 287.25,547.31 287.60,547.31 287.95,547.39 288.30,547.32 288.65,547.47 289.00,547.30 289.35,547.34 289.70,547.14 290.05,547.13 290.40,546.98 290.75,546.67 291.10,546.42 291.45,546.39 291.80,546.15 292.15,546.26 292.50,546.08 292.85,546.36 293.20,546.47 293.55,546.79 293.90,546.94 294.25,547.33 294.60,547.36 294.95,547.72 295.30,547.79 295.65,547.93 296.00,547.96 296.35,548.02 296.70,548.04 297.05,548.09 297.40,548.26 297.75,548.26 298.10,548.22 298.45,548.24 298.80,548.28 299.15,548.29 299.50,548.25 299.85,548.20 300.20,548.22 300.55,548.08 300.90,548.07 301.25,548.13 301.60,548.22 301.95,548.06 302.30,548.19 302.65,548.06 303.00,548.23 303.35,548.21 303.70,548.11 304.05,548.20 304.40,548.15 304.75,548.05 305.10,548.08 305.45,548.22 305.80,548.14 306.15,548.11 306.50,548.25 306.85,548.13 307.20,548.12 307.55,548.19 307.90,548.06 308.25,548.28 308.60,548.09 308.95,548.29 309.30,548.17 309.65,548.24 310.00,548.21 310.35,548.22 310.70,548.27 311.05,548.06 311.40,548.16 311.75,548.13 312.10,548.30 312.45,548.10 312.80,548.25 313.15,548.28 313.50,548.08 313.85,548.28 314.20,548.24 314.55,548.10 314.90,548.12 315.25,548.25 315.60,548.10 315.95,548.27 316.30,548.27 316.65,548.17 317.00,548.15 317.35,548.12 317.70,548.28 318.05,548.05 318.40,548.07 318.75,548.30 319.10,548.29 319.45,548.06 319.80,548.20 320.15,548.13 320.50,548.21 320.85,548.12 321.20,548.19 321.55,548.21 321.90,548.24 322.25,548.12 322.60,548.25 322.95,548.06 323.30,548.07 323.65,548.12 324.00,548.24 324.35,548.13 324.70,548.11 325.05,548.18 325.40,548.29 325.75,548.29 326.10,548.16 326.45,548.30 326.80,548.06 327.15,548.20 327.50,548.07 327.85,548.06 328.20,548.23 328.55,548.23 328.90,548.23 329.25,548.26 329.60,548.10 329.95,548.10 330.30,548.12 330.65,548.10 331.00,548.18 331.35,548.07 331.70,548.06 332.05,548.10 332.40,548.24 332.75,548.14 333.10,548.29 333.45,548.25 333.80,548.07 334.15,548.24 334.50,548.23 334.85,548.10 335.20,548.12 335.55,548.10 335.90,548.24 336.25,548.13 336.60,548.12 336.95,548.15 337.30,548.19 337.65,548.08 338.00,548.07 338.35,548.16 338.70,548.08 339.05,548.06 339.40,548.26 339.75,548.22 340.10,548.06 340.45,548.15 340.80,548.14 341.15,548.08 341.50,548.28 341.85,548.24 342.20,548.12 342.55,548.22 342.90,548.28 343.25,548.10 343.60,548.17 343.95,548.27 344.30,548.24 344.65,548.19 345.00,548.07 345.35,548.29 345.70,548.29 346.05,548.19 346.40,548.06" fill="none" stroke="#000" stroke-width="1.5" stroke-linejoin="round" />
</g>
<rect x="205.8" y="408.2" width="141.5" height="141.3" fill="none" stroke="#111" stroke-width="1.2"/>
<line x1="202.50" y1="549.50" x2="205.80" y2="549.50" stroke="#111" stroke-width="1.0" />
<text x="200.40" y="551.80" font-family='"Liberation Serif", serif' font-size="6.8" text-anchor="end" font-weight="normal" font-style="normal" fill="#000" stroke="#000" stroke-width="0.15">0</text>
<line x1="202.50" y1="521.84" x2="205.80" y2="521.84" stroke="#111" stroke-width="1.0" />
<text x="200.40" y="524.14" font-family='"Liberation Serif", serif' font-size="6.8" text-anchor="end" font-weight="normal" font-style="normal" fill="#000" stroke="#000" stroke-width="0.15">100</text>
<line x1="202.50" y1="494.18" x2="205.80" y2="494.18" stroke="#111" stroke-width="1.0" />
<text x="200.40" y="496.48" font-family='"Liberation Serif", serif' font-size="6.8" text-anchor="end" font-weight="normal" font-style="normal" fill="#000" stroke="#000" stroke-width="0.15">200</text>
<line x1="202.50" y1="466.52" x2="205.80" y2="466.52" stroke="#111" stroke-width="1.0" />
<text x="200.40" y="468.82" font-family='"Liberation Serif", serif' font-size="6.8" text-anchor="end" font-weight="normal" font-style="normal" fill="#000" stroke="#000" stroke-width="0.15">300</text>
<line x1="202.50" y1="438.86" x2="205.80" y2="438.86" stroke="#111" stroke-width="1.0" />
<text x="200.40" y="441.16" font-family='"Liberation Serif", serif' font-size="6.8" text-anchor="end" font-weight="normal" font-style="normal" fill="#000" stroke="#000" stroke-width="0.15">400</text>
<line x1="202.50" y1="411.20" x2="205.80" y2="411.20" stroke="#111" stroke-width="1.0" />
<text x="200.40" y="413.50" font-family='"Liberation Serif", serif' font-size="6.8" text-anchor="end" font-weight="normal" font-style="normal" fill="#000" stroke="#000" stroke-width="0.15">500</text>
<line x1="204.20" y1="549.50" x2="205.80" y2="549.50" stroke="#111" stroke-width="0.9" />
<line x1="204.20" y1="543.97" x2="205.80" y2="543.97" stroke="#111" stroke-width="0.9" />
<line x1="204.20" y1="538.44" x2="205.80" y2="538.44" stroke="#111" stroke-width="0.9" />
<line x1="204.20" y1="532.90" x2="205.80" y2="532.90" stroke="#111" stroke-width="0.9" />
<line x1="204.20" y1="527.37" x2="205.80" y2="527.37" stroke="#111" stroke-width="0.9" />
<line x1="204.20" y1="521.84" x2="205.80" y2="521.84" stroke="#111" stroke-width="0.9" />
<line x1="204.20" y1="516.31" x2="205.80" y2="516.31" stroke="#111" stroke-width="0.9" />
<line x1="204.20" y1="510.78" x2="205.80" y2="510.78" stroke="#111" stroke-width="0.9" />
<line x1="204.20" y1="505.24" x2="205.80" y2="505.24" stroke="#111" stroke-width="0.9" />
<line x1="204.20" y1="499.71" x2="205.80" y2="499.71" stroke="#111" stroke-width="0.9" />
<line x1="204.20" y1="494.18" x2="205.80" y2="494.18" stroke="#111" stroke-width="0.9" />
<line x1="204.20" y1="488.65" x2="205.80" y2="488.65" stroke="#111" stroke-width="0.9" />
<line x1="204.20" y1="483.12" x2="205.80" y2="483.12" stroke="#111" stroke-width="0.9" />
<line x1="204.20" y1="477.58" x2="205.80" y2="477.58" stroke="#111" stroke-width="0.9" />
<line x1="204.20" y1="472.05" x2="205.80" y2="472.05" stroke="#111" stroke-width="0.9" />
<line x1="204.20" y1="466.52" x2="205.80" y2="466.52" stroke="#111" stroke-width="0.9" />
<line x1="204.20" y1="460.99" x2="205.80" y2="460.99" stroke="#111" stroke-width="0.9" />
<line x1="204.20" y1="455.46" x2="205.80" y2="455.46" stroke="#111" stroke-width="0.9" />
<line x1="204.20" y1="449.92" x2="205.80" y2="449.92" stroke="#111" stroke-width="0.9" />
<line x1="204.20" y1="444.39" x2="205.80" y2="444.39" stroke="#111" stroke-width="0.9" />
<line x1="204.20" y1="438.86" x2="205.80" y2="438.86" stroke="#111" stroke-width="0.9" />
<line x1="204.20" y1="433.33" x2="205.80" y2="433.33" stroke="#111" stroke-width="0.9" />
<line x1="204.20" y1="427.80" x2="205.80" y2="427.80" stroke="#111" stroke-width="0.9" />
<line x1="204.20" y1="422.26" x2="205.80" y2="422.26" stroke="#111" stroke-width="0.9" />
<line x1="204.20" y1="416.73" x2="205.80" y2="416.73" stroke="#111" stroke-width="0.9" />
<line x1="204.20" y1="411.20" x2="205.80" y2="411.20" stroke="#111" stroke-width="0.9" />
<line x1="205.80" y1="549.50" x2="205.80" y2="553.50" stroke="#111" stroke-width="1.1" />
<text x="205.80" y="562.80" font-family='"Liberation Serif", serif' font-size="6.8" text-anchor="middle" fill="#000" stroke="#000" stroke-width="0.12">10<tspan font-size="4.90" dy="-3.06">0</tspan></text>
<line x1="216.40" y1="549.50" x2="216.40" y2="551.70" stroke="#111" stroke-width="0.9" />
<line x1="222.59" y1="549.50" x2="222.59" y2="551.70" stroke="#111" stroke-width="0.9" />
<line x1="226.99" y1="549.50" x2="226.99" y2="551.70" stroke="#111" stroke-width="0.9" />
<line x1="230.40" y1="549.50" x2="230.40" y2="551.70" stroke="#111" stroke-width="0.9" />
<line x1="233.19" y1="549.50" x2="233.19" y2="551.70" stroke="#111" stroke-width="0.9" />
<line x1="235.55" y1="549.50" x2="235.55" y2="551.70" stroke="#111" stroke-width="0.9" />
<line x1="237.59" y1="549.50" x2="237.59" y2="551.70" stroke="#111" stroke-width="0.9" />
<line x1="239.39" y1="549.50" x2="239.39" y2="551.70" stroke="#111" stroke-width="0.9" />
<line x1="241.00" y1="549.50" x2="241.00" y2="553.50" stroke="#111" stroke-width="1.1" />
<text x="241.00" y="562.80" font-family='"Liberation Serif", serif' font-size="6.8" text-anchor="middle" fill="#000" stroke="#000" stroke-width="0.12">10<tspan font-size="4.90" dy="-3.06">1</tspan></text>
<line x1="251.59" y1="549.50" x2="251.59" y2="551.70" stroke="#111" stroke-width="0.9" />
<line x1="257.79" y1="549.50" x2="257.79" y2="551.70" stroke="#111" stroke-width="0.9" />
<line x1="262.19" y1="549.50" x2="262.19" y2="551.70" stroke="#111" stroke-width="0.9" />
<line x1="265.60" y1="549.50" x2="265.60" y2="551.70" stroke="#111" stroke-width="0.9" />
<line x1="268.39" y1="549.50" x2="268.39" y2="551.70" stroke="#111" stroke-width="0.9" />
<line x1="270.75" y1="549.50" x2="270.75" y2="551.70" stroke="#111" stroke-width="0.9" />
<line x1="272.79" y1="549.50" x2="272.79" y2="551.70" stroke="#111" stroke-width="0.9" />
<line x1="274.59" y1="549.50" x2="274.59" y2="551.70" stroke="#111" stroke-width="0.9" />
<line x1="276.20" y1="549.50" x2="276.20" y2="553.50" stroke="#111" stroke-width="1.1" />
<text x="276.20" y="562.80" font-family='"Liberation Serif", serif' font-size="6.8" text-anchor="middle" fill="#000" stroke="#000" stroke-width="0.12">10<tspan font-size="4.90" dy="-3.06">2</tspan></text>
<line x1="286.79" y1="549.50" x2="286.79" y2="551.70" stroke="#111" stroke-width="0.9" />
<line x1="292.99" y1="549.50" x2="292.99" y2="551.70" stroke="#111" stroke-width="0.9" />
<line x1="297.39" y1="549.50" x2="297.39" y2="551.70" stroke="#111" stroke-width="0.9" />
<line x1="300.80" y1="549.50" x2="300.80" y2="551.70" stroke="#111" stroke-width="0.9" />
<line x1="303.59" y1="549.50" x2="303.59" y2="551.70" stroke="#111" stroke-width="0.9" />
<line x1="305.94" y1="549.50" x2="305.94" y2="551.70" stroke="#111" stroke-width="0.9" />
<line x1="307.99" y1="549.50" x2="307.99" y2="551.70" stroke="#111" stroke-width="0.9" />
<line x1="309.79" y1="549.50" x2="309.79" y2="551.70" stroke="#111" stroke-width="0.9" />
<line x1="311.40" y1="549.50" x2="311.40" y2="553.50" stroke="#111" stroke-width="1.1" />
<text x="311.40" y="562.80" font-family='"Liberation Serif", serif' font-size="6.8" text-anchor="middle" fill="#000" stroke="#000" stroke-width="0.12">10<tspan font-size="4.90" dy="-3.06">3</tspan></text>
<line x1="321.99" y1="549.50" x2="321.99" y2="551.70" stroke="#111" stroke-width="0.9" />
<line x1="328.19" y1="549.50" x2="328.19" y2="551.70" stroke="#111" stroke-width="0.9" />
<line x1="332.59" y1="549.50" x2="332.59" y2="551.70" stroke="#111" stroke-width="0.9" />
<line x1="336.00" y1="549.50" x2="336.00" y2="551.70" stroke="#111" stroke-width="0.9" />
<line x1="338.79" y1="549.50" x2="338.79" y2="551.70" stroke="#111" stroke-width="0.9" />
<line x1="341.14" y1="549.50" x2="341.14" y2="551.70" stroke="#111" stroke-width="0.9" />
<line x1="343.18" y1="549.50" x2="343.18" y2="551.70" stroke="#111" stroke-width="0.9" />
<line x1="344.99" y1="549.50" x2="344.99" y2="551.70" stroke="#111" stroke-width="0.9" />
<line x1="346.60" y1="549.50" x2="346.60" y2="553.50" stroke="#111" stroke-width="1.1" />
<text x="346.60" y="562.80" font-family='"Liberation Serif", serif' font-size="6.8" text-anchor="middle" fill="#000" stroke="#000" stroke-width="0.12">10<tspan font-size="4.90" dy="-3.06">4</tspan></text>
<text x="275.50" y="402.60" font-family='"Liberation Serif", serif' font-size="14.6" text-anchor="middle" font-weight="normal" font-style="normal" fill="#000" >KO1</text>
<text x="227.30" y="448.60" font-family='"Liberation Serif", serif' font-size="12.0" text-anchor="start" font-weight="normal" font-style="normal" fill="#000" >2n</text>
<text x="247.50" y="497.70" font-family='"Liberation Serif", serif' font-size="12.0" text-anchor="start" font-weight="normal" font-style="normal" fill="#000" >4n</text>
<text x="256.70" y="510.00" font-family='"Liberation Serif", serif' font-size="12.0" text-anchor="start" font-weight="normal" font-style="normal" fill="#000" >8n</text>
<text x="264.80" y="473.00" font-family='"Liberation Serif", serif' font-size="12.0" text-anchor="start" font-weight="normal" font-style="normal" fill="#000" >16n</text>
<text x="279.90" y="489.20" font-family='"Liberation Serif", serif' font-size="12.0" text-anchor="start" font-weight="normal" font-style="normal" fill="#000" >32n</text>
<text x="288.30" y="528.50" font-family='"Liberation Serif", serif' font-size="12.0" text-anchor="start" font-weight="normal" font-style="normal" fill="#000" >64n</text>
<clipPath id="clKO2"><rect x="371.8" y="408.2" width="141.2" height="142.59999999999997"/></clipPath>
<g clip-path="url(#clKO2)">
<polyline points="372.40,518.35 372.75,512.58 373.10,522.21 373.45,536.57 373.80,545.05 374.15,547.88 374.50,548.20 374.85,548.29 375.20,548.49 375.55,548.35 375.90,548.36 376.25,548.31 376.60,548.31 376.95,548.40 377.30,548.50 377.65,548.47 378.00,548.45 378.35,548.28 378.70,548.38 379.05,548.49 379.40,548.37 379.75,548.44 380.10,548.29 380.45,548.31 380.80,548.26 381.15,548.33 381.50,548.34 381.85,548.30 382.20,548.41 382.55,548.47 382.90,548.41 383.25,548.39 383.60,548.33 383.95,548.39 384.30,548.43 384.65,548.30 385.00,548.33 385.35,548.37 385.70,548.42 386.05,548.42 386.40,548.48 386.75,548.37 387.10,548.42 387.45,548.39 387.80,548.41 388.15,548.31 388.50,548.44 388.85,548.44 389.20,548.48 389.55,548.48 389.90,548.38 390.25,548.34 390.60,548.29 390.95,548.35 391.30,548.28 391.65,548.45 392.00,548.27 392.35,548.43 392.70,548.40 393.05,548.26 393.40,548.38 393.75,548.48 394.10,548.47 394.45,548.47 394.80,548.38 395.15,548.34 395.50,548.38 395.85,548.27 396.20,548.43 396.55,548.48 396.90,548.47 397.25,548.30 397.60,548.37 397.95,548.47 398.30,548.31 398.65,548.43 399.00,548.32 399.35,548.46 399.70,548.33 400.05,548.47 400.40,548.47 400.75,548.44 401.10,548.46 401.45,548.44 401.80,548.27 402.15,548.45 402.50,548.39 402.85,548.50 403.20,548.49 403.55,548.26 403.90,548.41 404.25,548.46 404.60,548.39 404.95,548.38 405.30,548.37 405.65,548.18 406.00,547.58 406.35,545.68 406.70,542.42 407.05,535.69 407.40,524.07 407.75,505.09 408.10,478.94 408.45,450.00 408.80,426.16 409.15,415.39 409.50,421.34 409.85,442.19 410.20,470.49 410.55,497.90 410.90,518.99 411.25,532.64 411.60,539.83 411.95,543.23 412.30,544.61 412.65,544.89 413.00,545.06 413.35,545.08 413.70,545.10 414.05,544.97 414.40,545.01 414.75,544.96 415.10,544.77 415.45,544.66 415.80,544.46 416.15,544.08 416.50,542.81 416.85,540.69 417.20,537.24 417.55,531.78 417.90,525.12 418.25,517.38 418.60,510.49 418.95,505.98 419.30,505.23 419.65,508.11 420.00,514.23 420.35,521.58 420.70,528.85 421.05,534.85 421.40,539.22 421.75,541.81 422.10,543.27 422.45,543.88 422.80,544.09 423.15,543.80 423.50,543.42 423.85,542.57 424.20,541.71 424.55,540.73 424.90,540.27 425.25,540.42 425.60,541.09 425.95,541.95 426.30,542.62 426.65,542.78 427.00,542.51 427.35,541.14 427.70,538.95 428.05,536.14 428.40,532.75 428.75,529.30 429.10,526.47 429.45,525.06 429.80,525.16 430.15,527.11 430.50,529.90 430.85,533.43 431.20,536.67 431.55,539.57 431.90,541.80 432.25,543.14 432.60,544.25 432.95,544.52 433.30,544.87 433.65,545.03 434.00,545.12 434.35,545.19 434.70,545.28 435.05,545.10 435.40,545.05 435.75,544.60 436.10,544.01 436.45,543.19 436.80,542.42 437.15,541.05 437.50,540.04 437.85,539.02 438.20,538.48 438.55,538.39 438.90,538.77 439.25,539.82 439.60,541.01 439.95,542.29 440.30,543.57 440.65,544.77 441.00,545.65 441.35,546.25 441.70,546.64 442.05,547.13 442.40,547.24 442.75,547.37 443.10,547.23 443.45,547.35 443.80,547.41 444.15,547.49 444.50,547.42 444.85,547.41 445.20,547.28 445.55,547.20 445.90,546.90 446.25,546.83 446.60,546.47 446.95,545.98 447.30,545.61 447.65,545.20 448.00,544.99 448.35,544.72 448.70,544.54 449.05,544.55 449.40,544.81 449.75,545.11 450.10,545.60 450.45,546.14 450.80,546.54 451.15,546.93 451.50,547.20 451.85,547.53 452.20,547.81 452.55,548.01 452.90,547.94 453.25,548.23 453.60,548.16 453.95,548.17 454.30,548.32 454.65,548.31 455.00,548.48 455.35,548.28 455.70,548.48 456.05,548.47 456.40,548.45 456.75,548.26 457.10,548.39 457.45,548.27 457.80,548.46 458.15,548.26 458.50,548.30 458.85,548.35 459.20,548.49 459.55,548.29 459.90,548.42 460.25,548.31 460.60,548.30 460.95,548.40 461.30,548.36 461.65,548.32 462.00,548.33 462.35,548.41 462.70,548.44 463.05,548.41 463.40,548.45 463.75,548.48 464.10,548.41 464.45,548.35 464.80,548.48 465.15,548.40 465.50,548.42 465.85,548.49 466.20,548.48 466.55,548.27 466.90,548.42 467.25,548.37 467.60,548.49 467.95,548.42 468.30,548.31 468.65,548.34 469.00,548.25 469.35,548.29 469.70,548.36 470.05,548.27 470.40,548.44 470.75,548.46 471.10,548.47 471.45,548.27 471.80,548.37 472.15,548.35 472.50,548.34 472.85,548.48 473.20,548.35 473.55,548.40 473.90,548.33 474.25,548.50 474.60,548.35 474.95,548.43 475.30,548.50 475.65,548.49 476.00,548.32 476.35,548.28 476.70,548.29 477.05,548.39 477.40,548.26 477.75,548.28 478.10,548.30 478.45,548.30 478.80,548.39 479.15,548.46 479.50,548.45 479.85,548.36 480.20,548.36 480.55,548.50 480.90,548.44 481.25,548.35 481.60,548.48 481.95,548.32 482.30,548.45 482.65,548.46 483.00,548.34 483.35,548.26 483.70,548.28 484.05,548.36 484.40,548.27 484.75,548.42 485.10,548.41 485.45,548.34 485.80,548.28 486.15,548.28 486.50,548.46 486.85,548.38 487.20,548.26 487.55,548.47 487.90,548.36 488.25,548.34 488.60,548.42 488.95,548.42 489.30,548.40 489.65,548.49 490.00,548.32 490.35,548.34 490.70,548.46 491.05,548.27 491.40,548.45 491.75,548.29 492.10,548.41 492.45,548.48 492.80,548.38 493.15,548.46 493.50,548.41 493.85,548.37 494.20,548.48 494.55,548.48 494.90,548.50 495.25,548.25 495.60,548.46 495.95,548.42 496.30,548.34 496.65,548.43 497.00,548.26 497.35,548.41 497.70,548.37 498.05,548.48 498.40,548.31 498.75,548.46 499.10,548.48 499.45,548.49 499.80,548.50 500.15,548.26 500.50,548.44 500.85,548.34 501.20,548.38 501.55,548.32 501.90,548.28 502.25,548.26 502.60,548.27 502.95,548.26 503.30,548.30 503.65,548.47 504.00,548.35 504.35,548.49 504.70,548.40 505.05,548.36 505.40,548.30 505.75,548.34 506.10,548.38 506.45,548.44 506.80,548.45 507.15,548.46 507.50,548.31 507.85,548.46 508.20,548.29 508.55,548.26 508.90,548.30 509.25,548.43 509.60,548.28 509.95,548.36 510.30,548.33 510.65,548.40 511.00,548.29 511.35,548.32 511.70,548.36 512.05,548.42" fill="none" stroke="#000" stroke-width="1.5" stroke-linejoin="round" />
</g>
<rect x="371.8" y="408.2" width="141.2" height="141.49999999999994" fill="none" stroke="#111" stroke-width="1.2"/>
<line x1="368.50" y1="549.70" x2="371.80" y2="549.70" stroke="#111" stroke-width="1.0" />
<text x="366.40" y="552.00" font-family='"Liberation Serif", serif' font-size="6.8" text-anchor="end" font-weight="normal" font-style="normal" fill="#000" stroke="#000" stroke-width="0.15">0</text>
<line x1="368.50" y1="525.22" x2="371.80" y2="525.22" stroke="#111" stroke-width="1.0" />
<text x="366.40" y="527.52" font-family='"Liberation Serif", serif' font-size="6.8" text-anchor="end" font-weight="normal" font-style="normal" fill="#000" stroke="#000" stroke-width="0.15">200</text>
<line x1="368.50" y1="500.74" x2="371.80" y2="500.74" stroke="#111" stroke-width="1.0" />
<text x="366.40" y="503.04" font-family='"Liberation Serif", serif' font-size="6.8" text-anchor="end" font-weight="normal" font-style="normal" fill="#000" stroke="#000" stroke-width="0.15">400</text>
<line x1="368.50" y1="476.26" x2="371.80" y2="476.26" stroke="#111" stroke-width="1.0" />
<text x="366.40" y="478.56" font-family='"Liberation Serif", serif' font-size="6.8" text-anchor="end" font-weight="normal" font-style="normal" fill="#000" stroke="#000" stroke-width="0.15">600</text>
<line x1="368.50" y1="451.78" x2="371.80" y2="451.78" stroke="#111" stroke-width="1.0" />
<text x="366.40" y="454.08" font-family='"Liberation Serif", serif' font-size="6.8" text-anchor="end" font-weight="normal" font-style="normal" fill="#000" stroke="#000" stroke-width="0.15">800</text>
<line x1="368.50" y1="427.30" x2="371.80" y2="427.30" stroke="#111" stroke-width="1.0" />
<text x="366.40" y="429.60" font-family='"Liberation Serif", serif' font-size="6.8" text-anchor="end" font-weight="normal" font-style="normal" fill="#000" stroke="#000" stroke-width="0.15">1000</text>
<line x1="370.20" y1="549.70" x2="371.80" y2="549.70" stroke="#111" stroke-width="0.9" />
<line x1="370.20" y1="543.58" x2="371.80" y2="543.58" stroke="#111" stroke-width="0.9" />
<line x1="370.20" y1="537.46" x2="371.80" y2="537.46" stroke="#111" stroke-width="0.9" />
<line x1="370.20" y1="531.34" x2="371.80" y2="531.34" stroke="#111" stroke-width="0.9" />
<line x1="370.20" y1="525.22" x2="371.80" y2="525.22" stroke="#111" stroke-width="0.9" />
<line x1="370.20" y1="519.10" x2="371.80" y2="519.10" stroke="#111" stroke-width="0.9" />
<line x1="370.20" y1="512.98" x2="371.80" y2="512.98" stroke="#111" stroke-width="0.9" />
<line x1="370.20" y1="506.86" x2="371.80" y2="506.86" stroke="#111" stroke-width="0.9" />
<line x1="370.20" y1="500.74" x2="371.80" y2="500.74" stroke="#111" stroke-width="0.9" />
<line x1="370.20" y1="494.62" x2="371.80" y2="494.62" stroke="#111" stroke-width="0.9" />
<line x1="370.20" y1="488.50" x2="371.80" y2="488.50" stroke="#111" stroke-width="0.9" />
<line x1="370.20" y1="482.38" x2="371.80" y2="482.38" stroke="#111" stroke-width="0.9" />
<line x1="370.20" y1="476.26" x2="371.80" y2="476.26" stroke="#111" stroke-width="0.9" />
<line x1="370.20" y1="470.14" x2="371.80" y2="470.14" stroke="#111" stroke-width="0.9" />
<line x1="370.20" y1="464.02" x2="371.80" y2="464.02" stroke="#111" stroke-width="0.9" />
<line x1="370.20" y1="457.90" x2="371.80" y2="457.90" stroke="#111" stroke-width="0.9" />
<line x1="370.20" y1="451.78" x2="371.80" y2="451.78" stroke="#111" stroke-width="0.9" />
<line x1="370.20" y1="445.66" x2="371.80" y2="445.66" stroke="#111" stroke-width="0.9" />
<line x1="370.20" y1="439.54" x2="371.80" y2="439.54" stroke="#111" stroke-width="0.9" />
<line x1="370.20" y1="433.42" x2="371.80" y2="433.42" stroke="#111" stroke-width="0.9" />
<line x1="370.20" y1="427.30" x2="371.80" y2="427.30" stroke="#111" stroke-width="0.9" />
<line x1="370.20" y1="421.18" x2="371.80" y2="421.18" stroke="#111" stroke-width="0.9" />
<line x1="371.80" y1="549.70" x2="371.80" y2="553.70" stroke="#111" stroke-width="1.1" />
<text x="371.80" y="562.80" font-family='"Liberation Serif", serif' font-size="6.8" text-anchor="middle" fill="#000" stroke="#000" stroke-width="0.12">10<tspan font-size="4.90" dy="-3.06">0</tspan></text>
<line x1="382.37" y1="549.70" x2="382.37" y2="551.90" stroke="#111" stroke-width="0.9" />
<line x1="388.56" y1="549.70" x2="388.56" y2="551.90" stroke="#111" stroke-width="0.9" />
<line x1="392.95" y1="549.70" x2="392.95" y2="551.90" stroke="#111" stroke-width="0.9" />
<line x1="396.35" y1="549.70" x2="396.35" y2="551.90" stroke="#111" stroke-width="0.9" />
<line x1="399.13" y1="549.70" x2="399.13" y2="551.90" stroke="#111" stroke-width="0.9" />
<line x1="401.48" y1="549.70" x2="401.48" y2="551.90" stroke="#111" stroke-width="0.9" />
<line x1="403.52" y1="549.70" x2="403.52" y2="551.90" stroke="#111" stroke-width="0.9" />
<line x1="405.32" y1="549.70" x2="405.32" y2="551.90" stroke="#111" stroke-width="0.9" />
<line x1="406.92" y1="549.70" x2="406.92" y2="553.70" stroke="#111" stroke-width="1.1" />
<text x="406.92" y="562.80" font-family='"Liberation Serif", serif' font-size="6.8" text-anchor="middle" fill="#000" stroke="#000" stroke-width="0.12">10<tspan font-size="4.90" dy="-3.06">1</tspan></text>
<line x1="417.50" y1="549.70" x2="417.50" y2="551.90" stroke="#111" stroke-width="0.9" />
<line x1="423.68" y1="549.70" x2="423.68" y2="551.90" stroke="#111" stroke-width="0.9" />
<line x1="428.07" y1="549.70" x2="428.07" y2="551.90" stroke="#111" stroke-width="0.9" />
<line x1="431.48" y1="549.70" x2="431.48" y2="551.90" stroke="#111" stroke-width="0.9" />
<line x1="434.26" y1="549.70" x2="434.26" y2="551.90" stroke="#111" stroke-width="0.9" />
<line x1="436.61" y1="549.70" x2="436.61" y2="551.90" stroke="#111" stroke-width="0.9" />
<line x1="438.64" y1="549.70" x2="438.64" y2="551.90" stroke="#111" stroke-width="0.9" />
<line x1="440.44" y1="549.70" x2="440.44" y2="551.90" stroke="#111" stroke-width="0.9" />
<line x1="442.05" y1="549.70" x2="442.05" y2="553.70" stroke="#111" stroke-width="1.1" />
<text x="442.05" y="562.80" font-family='"Liberation Serif", serif' font-size="6.8" text-anchor="middle" fill="#000" stroke="#000" stroke-width="0.12">10<tspan font-size="4.90" dy="-3.06">2</tspan></text>
<line x1="452.62" y1="549.70" x2="452.62" y2="551.90" stroke="#111" stroke-width="0.9" />
<line x1="458.81" y1="549.70" x2="458.81" y2="551.90" stroke="#111" stroke-width="0.9" />
<line x1="463.20" y1="549.70" x2="463.20" y2="551.90" stroke="#111" stroke-width="0.9" />
<line x1="466.60" y1="549.70" x2="466.60" y2="551.90" stroke="#111" stroke-width="0.9" />
<line x1="469.38" y1="549.70" x2="469.38" y2="551.90" stroke="#111" stroke-width="0.9" />
<line x1="471.73" y1="549.70" x2="471.73" y2="551.90" stroke="#111" stroke-width="0.9" />
<line x1="473.77" y1="549.70" x2="473.77" y2="551.90" stroke="#111" stroke-width="0.9" />
<line x1="475.57" y1="549.70" x2="475.57" y2="551.90" stroke="#111" stroke-width="0.9" />
<line x1="477.17" y1="549.70" x2="477.17" y2="553.70" stroke="#111" stroke-width="1.1" />
<text x="477.17" y="562.80" font-family='"Liberation Serif", serif' font-size="6.8" text-anchor="middle" fill="#000" stroke="#000" stroke-width="0.12">10<tspan font-size="4.90" dy="-3.06">3</tspan></text>
<line x1="487.75" y1="549.70" x2="487.75" y2="551.90" stroke="#111" stroke-width="0.9" />
<line x1="493.93" y1="549.70" x2="493.93" y2="551.90" stroke="#111" stroke-width="0.9" />
<line x1="498.32" y1="549.70" x2="498.32" y2="551.90" stroke="#111" stroke-width="0.9" />
<line x1="501.72" y1="549.70" x2="501.72" y2="551.90" stroke="#111" stroke-width="0.9" />
<line x1="504.51" y1="549.70" x2="504.51" y2="551.90" stroke="#111" stroke-width="0.9" />
<line x1="506.86" y1="549.70" x2="506.86" y2="551.90" stroke="#111" stroke-width="0.9" />
<line x1="508.89" y1="549.70" x2="508.89" y2="551.90" stroke="#111" stroke-width="0.9" />
<line x1="510.69" y1="549.70" x2="510.69" y2="551.90" stroke="#111" stroke-width="0.9" />
<line x1="512.30" y1="549.70" x2="512.30" y2="553.70" stroke="#111" stroke-width="1.1" />
<text x="512.30" y="562.80" font-family='"Liberation Serif", serif' font-size="6.8" text-anchor="middle" fill="#000" stroke="#000" stroke-width="0.12">10<tspan font-size="4.90" dy="-3.06">4</tspan></text>
<text x="446.90" y="402.60" font-family='"Liberation Serif", serif' font-size="14.6" text-anchor="middle" font-weight="normal" font-style="normal" fill="#000" >KO2</text>
<text x="394.30" y="450.80" font-family='"Liberation Serif", serif' font-size="12.0" text-anchor="start" font-weight="normal" font-style="normal" fill="#000" >2n</text>
<text x="414.50" y="499.90" font-family='"Liberation Serif", serif' font-size="12.0" text-anchor="start" font-weight="normal" font-style="normal" fill="#000" >4n</text>
<text x="423.70" y="512.20" font-family='"Liberation Serif", serif' font-size="12.0" text-anchor="start" font-weight="normal" font-style="normal" fill="#000" >8n</text>
<text x="431.80" y="475.20" font-family='"Liberation Serif", serif' font-size="12.0" text-anchor="start" font-weight="normal" font-style="normal" fill="#000" >16n</text>
<text x="446.90" y="491.40" font-family='"Liberation Serif", serif' font-size="12.0" text-anchor="start" font-weight="normal" font-style="normal" fill="#000" >32n</text>
<text x="455.30" y="530.70" font-family='"Liberation Serif", serif' font-size="12.0" text-anchor="start" font-weight="normal" font-style="normal" fill="#000" >64n</text>
<line x1="10.40" y1="573.80" x2="400.00" y2="573.80" stroke="#111" stroke-width="1.3" />
<line x1="10.40" y1="493.00" x2="10.40" y2="574.40" stroke="#111" stroke-width="1.3" />
<polygon points="10.4,485.8 6.6,493.8 14.2,493.8" fill="#111"/>
<polygon points="406.4,573.8 398.4,569.6 398.4,578.0" fill="#111"/>
<text transform="translate(13.3,480) rotate(-90)" font-family='"Liberation Serif", serif' font-size="15.0" fill="#111">Cell number</text>
<text x="412.30" y="577.60" font-family='"Liberation Serif", serif' font-size="15.0" text-anchor="start" font-weight="normal" font-style="normal" fill="#000" >Propidium iodide</text>
<line x1="72.70" y1="586.80" x2="72.70" y2="687.80" stroke="#111" stroke-width="1.3" />
<line x1="153.50" y1="586.80" x2="153.50" y2="687.80" stroke="#111" stroke-width="1.3" />
<line x1="202.00" y1="586.80" x2="202.00" y2="687.80" stroke="#111" stroke-width="1.3" />
<line x1="250.50" y1="586.80" x2="250.50" y2="687.80" stroke="#111" stroke-width="1.3" />
<line x1="299.00" y1="586.80" x2="299.00" y2="687.80" stroke="#111" stroke-width="1.3" />
<line x1="348.00" y1="586.80" x2="348.00" y2="687.80" stroke="#111" stroke-width="1.3" />
<line x1="396.80" y1="586.80" x2="396.80" y2="687.80" stroke="#111" stroke-width="1.3" />
<line x1="445.30" y1="586.80" x2="445.30" y2="687.80" stroke="#111" stroke-width="1.3" />
<line x1="72.10" y1="587.40" x2="445.90" y2="587.40" stroke="#111" stroke-width="1.3" />
<line x1="72.10" y1="612.80" x2="445.90" y2="612.80" stroke="#111" stroke-width="1.3" />
<line x1="72.10" y1="637.60" x2="445.90" y2="637.60" stroke="#111" stroke-width="1.3" />
<line x1="72.10" y1="662.60" x2="445.90" y2="662.60" stroke="#111" stroke-width="1.3" />
<line x1="72.10" y1="687.20" x2="445.90" y2="687.20" stroke="#111" stroke-width="1.3" />
<text x="177.95" y="607.70" font-family='"Liberation Serif", serif' font-size="14.0" text-anchor="middle" font-weight="normal" font-style="normal" fill="#000" letter-spacing="1.6">2n</text>
<text x="226.45" y="607.70" font-family='"Liberation Serif", serif' font-size="14.0" text-anchor="middle" font-weight="normal" font-style="normal" fill="#000" letter-spacing="1.6">4n</text>
<text x="274.95" y="607.70" font-family='"Liberation Serif", serif' font-size="14.0" text-anchor="middle" font-weight="normal" font-style="normal" fill="#000" letter-spacing="1.6">8n</text>
<text x="323.70" y="607.70" font-family='"Liberation Serif", serif' font-size="14.0" text-anchor="middle" font-weight="normal" font-style="normal" fill="#000" letter-spacing="1.6">16n</text>
<text x="372.60" y="607.70" font-family='"Liberation Serif", serif' font-size="14.0" text-anchor="middle" font-weight="normal" font-style="normal" fill="#000" letter-spacing="1.6">32n</text>
<text x="421.25" y="607.70" font-family='"Liberation Serif", serif' font-size="14.0" text-anchor="middle" font-weight="normal" font-style="normal" fill="#000" letter-spacing="1.6">64n</text>
<text x="96.60" y="632.30" font-family='"Liberation Serif", serif' font-size="14.5" text-anchor="start" font-weight="normal" font-style="normal" fill="#000" >WT</text>
<text x="177.85" y="632.30" font-family='"Liberation Serif", serif' font-size="14.5" text-anchor="middle" font-weight="normal" font-style="normal" fill="#000" letter-spacing="1.2">22.9</text>
<text x="226.35" y="632.30" font-family='"Liberation Serif", serif' font-size="14.5" text-anchor="middle" font-weight="normal" font-style="normal" fill="#000" letter-spacing="1.2">9.82</text>
<text x="274.85" y="632.30" font-family='"Liberation Serif", serif' font-size="14.5" text-anchor="middle" font-weight="normal" font-style="normal" fill="#000" letter-spacing="1.2">12</text>
<text x="323.60" y="632.30" font-family='"Liberation Serif", serif' font-size="14.5" text-anchor="middle" font-weight="normal" font-style="normal" fill="#000" letter-spacing="1.2">20.7</text>
<text x="372.50" y="632.30" font-family='"Liberation Serif", serif' font-size="14.5" text-anchor="middle" font-weight="normal" font-style="normal" fill="#000" letter-spacing="1.2">17</text>
<text x="421.15" y="632.30" font-family='"Liberation Serif", serif' font-size="14.5" text-anchor="middle" font-weight="normal" font-style="normal" fill="#000" letter-spacing="1.2">5.06</text>
<text x="96.60" y="657.20" font-family='"Liberation Serif", serif' font-size="14.5" text-anchor="start" font-weight="normal" font-style="normal" fill="#000" >KO1</text>
<text x="177.85" y="657.20" font-family='"Liberation Serif", serif' font-size="14.5" text-anchor="middle" font-weight="normal" font-style="normal" fill="#000" letter-spacing="1.2">35.1</text>
<text x="226.35" y="657.20" font-family='"Liberation Serif", serif' font-size="14.5" text-anchor="middle" font-weight="normal" font-style="normal" fill="#000" letter-spacing="1.2">19.8</text>
<text x="274.85" y="657.20" font-family='"Liberation Serif", serif' font-size="14.5" text-anchor="middle" font-weight="normal" font-style="normal" fill="#000" letter-spacing="1.2">16.7</text>
<text x="323.60" y="657.20" font-family='"Liberation Serif", serif' font-size="14.5" text-anchor="middle" font-weight="normal" font-style="normal" fill="#000" letter-spacing="1.2">11.6</text>
<text x="372.50" y="657.20" font-family='"Liberation Serif", serif' font-size="14.5" text-anchor="middle" font-weight="normal" font-style="normal" fill="#000" letter-spacing="1.2">5.8</text>
<text x="421.15" y="657.20" font-family='"Liberation Serif", serif' font-size="14.5" text-anchor="middle" font-weight="normal" font-style="normal" fill="#000" letter-spacing="1.2">1.07</text>
<text x="96.60" y="682.10" font-family='"Liberation Serif", serif' font-size="14.5" text-anchor="start" font-weight="normal" font-style="normal" fill="#000" >KO2</text>
<text x="177.85" y="682.10" font-family='"Liberation Serif", serif' font-size="14.5" text-anchor="middle" font-weight="normal" font-style="normal" fill="#000" letter-spacing="1.2">46.3</text>
<text x="226.35" y="682.10" font-family='"Liberation Serif", serif' font-size="14.5" text-anchor="middle" font-weight="normal" font-style="normal" fill="#000" letter-spacing="1.2">21.7</text>
<text x="274.85" y="682.10" font-family='"Liberation Serif", serif' font-size="14.5" text-anchor="middle" font-weight="normal" font-style="normal" fill="#000" letter-spacing="1.2">14.6</text>
<text x="323.60" y="682.10" font-family='"Liberation Serif", serif' font-size="14.5" text-anchor="middle" font-weight="normal" font-style="normal" fill="#000" letter-spacing="1.2">7.13</text>
<text x="372.50" y="682.10" font-family='"Liberation Serif", serif' font-size="14.5" text-anchor="middle" font-weight="normal" font-style="normal" fill="#000" letter-spacing="1.2">2.61</text>
<text x="421.15" y="682.10" font-family='"Liberation Serif", serif' font-size="14.5" text-anchor="middle" font-weight="normal" font-style="normal" fill="#000" letter-spacing="1.2">0.37</text>
</svg>
</body></html>
